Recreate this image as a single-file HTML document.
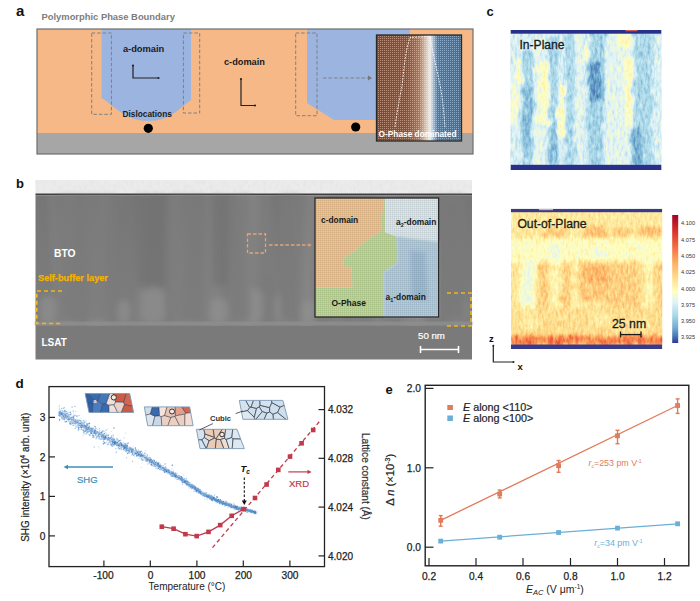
<!DOCTYPE html>
<html><head><meta charset="utf-8">
<style>
html,body{margin:0;padding:0;background:#fff;width:700px;height:601px;overflow:hidden}
svg{display:block;font-family:"Liberation Sans",sans-serif}
</style></head><body>
<svg width="700" height="601" viewBox="0 0 700 601">
<defs>
<pattern id="dotsW" width="2" height="2" patternUnits="userSpaceOnUse"><rect x="0" y="0" width="1" height="1" fill="#fff" opacity="0.38"/></pattern>
<linearGradient id="opg" x1="0" y1="0" x2="1" y2="0">
<stop offset="0" stop-color="#8a4524"/><stop offset="0.36" stop-color="#934d2a"/><stop offset="0.5" stop-color="#b2734f"/><stop offset="0.58" stop-color="#dcc0ad"/><stop offset="0.63" stop-color="#f0ece8"/><stop offset="0.67" stop-color="#9dbbd6"/><stop offset="0.72" stop-color="#4479ab"/><stop offset="1" stop-color="#3d6e9e"/>
</linearGradient>
<pattern id="dotsK" width="2.4" height="2.4" patternUnits="userSpaceOnUse"><rect x="0.4" y="0.4" width="1" height="1" fill="#333" opacity="0.35"/></pattern>
<linearGradient id="btoG" x1="0" y1="0" x2="0" y2="1"><stop offset="0" stop-color="#767676"/><stop offset="0.5" stop-color="#7a7a7a"/><stop offset="1" stop-color="#7d7d7d"/></linearGradient>
<filter id="streaks" x="0" y="0" width="1" height="1"><feTurbulence type="fractalNoise" baseFrequency="0.035 0.003" numOctaves="2" seed="3"/><feColorMatrix type="matrix" values="0 0 0 0 0.58  0 0 0 0 0.58  0 0 0 0 0.58  1.4 0 0 0 -0.62"/><feGaussianBlur stdDeviation="1.5 0"/></filter>
<filter id="noiseLight" x="0" y="0" width="1" height="1"><feTurbulence type="fractalNoise" baseFrequency="0.3 0.2" numOctaves="1" seed="5"/><feColorMatrix type="matrix" values="0 0 0 0 0.7  0 0 0 0 0.7  0 0 0 0 0.7  1.5 0 0 0 -0.6"/></filter>
<filter id="blur3"><feGaussianBlur stdDeviation="3"/></filter>
<filter id="blur1"><feGaussianBlur stdDeviation="0.8"/></filter>
<filter id="blur2"><feGaussianBlur stdDeviation="2"/></filter>
<linearGradient id="cbar" x1="0" y1="0" x2="0" y2="1">
<stop offset="0" stop-color="#a50026"/><stop offset="0.12" stop-color="#d73027"/><stop offset="0.25" stop-color="#f46d43"/><stop offset="0.37" stop-color="#fdae61"/><stop offset="0.5" stop-color="#fee090"/><stop offset="0.6" stop-color="#ffffbf"/><stop offset="0.68" stop-color="#e0f3f8"/><stop offset="0.78" stop-color="#abd9e9"/><stop offset="0.88" stop-color="#74add1"/><stop offset="0.95" stop-color="#4575b4"/><stop offset="1" stop-color="#313695"/>
</linearGradient>
<filter id="speck" x="0" y="0" width="1" height="1"><feTurbulence type="fractalNoise" baseFrequency="0.5" numOctaves="1" seed="7"/><feColorMatrix type="matrix" values="0 0 0 0 1  0 0 0 0 1  0 0 0 0 1  2 0 0 0 -1.1"/></filter>
<pattern id="gridK" width="2" height="2" patternUnits="userSpaceOnUse"><rect x="0" y="0" width="2" height="0.6" fill="#4a3a2a" opacity="0.14"/><rect x="0" y="0" width="0.6" height="2" fill="#4a3a2a" opacity="0.14"/></pattern>
<filter id="rough" x="-5%" y="-5%" width="110%" height="110%"><feTurbulence type="fractalNoise" baseFrequency="0.2 0.06" numOctaves="2" seed="9" result="n"/><feDisplacementMap in="SourceGraphic" in2="n" scale="9" xChannelSelector="R" yChannelSelector="G" result="d"/><feGaussianBlur in="d" stdDeviation="1.6"/></filter>
<filter id="rough2" x="-5%" y="-5%" width="110%" height="110%"><feTurbulence type="fractalNoise" baseFrequency="0.15 0.12" numOctaves="2" seed="4" result="n"/><feDisplacementMap in="SourceGraphic" in2="n" scale="8" xChannelSelector="R" yChannelSelector="G" result="d"/><feGaussianBlur in="d" stdDeviation="2"/></filter>
<filter id="cmapIP" x="0" y="0" width="1" height="1" color-interpolation-filters="sRGB">
<feTurbulence type="fractalNoise" baseFrequency="0.4 0.14" numOctaves="3" seed="12" result="nz"/>
<feColorMatrix in="nz" type="matrix" values="1 0 0 0 0  1 0 0 0 0  1 0 0 0 0  0 0 0 0 1" result="nzg"/>
<feComposite in="SourceGraphic" in2="nzg" operator="arithmetic" k1="0" k2="1" k3="0.22" k4="-0.11" result="sum"/>
<feComponentTransfer in="sum">
<feFuncR type="table" tableValues="0.192 0.271 0.455 0.671 0.878 1 0.996 0.992 0.957 0.843 0.647"/>
<feFuncG type="table" tableValues="0.212 0.459 0.678 0.851 0.953 1 0.878 0.682 0.427 0.188 0"/>
<feFuncB type="table" tableValues="0.584 0.706 0.820 0.914 0.973 0.749 0.565 0.380 0.263 0.153 0.149"/>
<feFuncA type="identity"/>
</feComponentTransfer>
</filter>
<filter id="cmapOP" x="0" y="0" width="1" height="1" color-interpolation-filters="sRGB">
<feTurbulence type="fractalNoise" baseFrequency="0.4 0.16" numOctaves="3" seed="31" result="nz"/>
<feColorMatrix in="nz" type="matrix" values="1 0 0 0 0  1 0 0 0 0  1 0 0 0 0  0 0 0 0 1" result="nzg"/>
<feComposite in="SourceGraphic" in2="nzg" operator="arithmetic" k1="0" k2="1" k3="0.2" k4="-0.1" result="sum"/>
<feComponentTransfer in="sum">
<feFuncR type="table" tableValues="0.192 0.271 0.455 0.671 0.878 1 0.996 0.992 0.957 0.843 0.647"/>
<feFuncG type="table" tableValues="0.212 0.459 0.678 0.851 0.953 1 0.878 0.682 0.427 0.188 0"/>
<feFuncB type="table" tableValues="0.584 0.706 0.820 0.914 0.973 0.749 0.565 0.380 0.263 0.153 0.149"/>
<feFuncA type="identity"/>
</feComponentTransfer>
</filter>
</defs>
<!-- ================= PANEL A ================= -->
<g id="pa">
<text x="16" y="16" font-size="15" font-weight="bold" fill="#111">a</text>
<text x="41.5" y="19.8" font-size="9.4" font-weight="bold" fill="#7d7d7d">Polymorphic Phase Boundary</text>
<rect x="37" y="29" width="436" height="125" fill="#f5b886"/>
<!-- blue domain 1 -->
<path d="M101.5,29 V98 C115,106 125,121 148,121 C171,121 180,107 191,100 V29 Z" fill="#9cb4e0"/>
<!-- blue domain 2 -->
<path d="M307,29 V103 L334,120 H410 V29 Z" fill="#9cb4e0"/>
<rect x="37" y="133" width="436" height="21" fill="#a6a6a6"/>
<rect x="37" y="29" width="436" height="125" fill="none" stroke="#6e6e6e" stroke-width="1.2"/>
<!-- dashed boxes -->
<g fill="none" stroke="#808080" stroke-width="1" stroke-dasharray="3.5 2">
<rect x="91.7" y="33" width="19.7" height="81.3"/>
<rect x="183.4" y="33" width="16.3" height="80"/>
<rect x="295.7" y="33" width="21.3" height="82.7"/>
<line x1="323" y1="78" x2="369" y2="78"/>
</g>
<path d="M368,75.5 L372,78 L368,80.5 Z" fill="#777"/>
<circle cx="148.3" cy="128.3" r="4.6" fill="#000"/>
<circle cx="355.7" cy="127" r="4.6" fill="#000"/>
<text x="122.9" y="52" font-size="9.3" font-weight="bold" fill="#1b1b1b">a-domain</text>
<text x="122.5" y="117.4" font-size="8.3" font-weight="bold" fill="#1b1b1b">Dislocations</text>
<text x="224" y="65" font-size="9.2" font-weight="bold" fill="#1b1b1b">c-domain</text>
<g stroke="#222" stroke-width="1.2" fill="none">
<polyline points="133,66 133,78 158,78"/>
<polyline points="241,79 241,105.5 254,105.5"/>
</g>
<g fill="#222"><circle cx="133" cy="65.5" r="1.1"/><circle cx="158.5" cy="78" r="1.1"/><circle cx="241" cy="79" r="1.1"/><circle cx="255" cy="105.5" r="1.1"/></g>
<!-- inset -->
<rect x="376.5" y="35" width="85" height="106" fill="url(#opg)"/>
<rect x="376.5" y="35" width="85" height="106" fill="url(#dotsW)"/>
<g fill="none" stroke="#fff" stroke-width="1" stroke-dasharray="1.8 1.2" opacity="0.85">
<path d="M395,127 C397,112 400,96 402,86 C404,70 405,52 410,37.5 L430,36.5 C433,55 437,70 440,85 C443,100 444,115 445,128"/>
</g>
<rect x="376.5" y="35" width="85" height="106" fill="none" stroke="#2a2a2a" stroke-width="1.3"/>
<text x="378.6" y="136.5" font-size="8.3" font-weight="bold" fill="#fff">O-Phase dominated</text>
</g>

<!-- ================= PANEL B ================= -->
<g id="pb">
<text x="16" y="187.5" font-size="13" font-weight="bold" fill="#111">b</text>
<rect x="35.5" y="180" width="436.5" height="14" fill="#ebebeb"/>
<rect x="35.5" y="180" width="436.5" height="14" fill="#fff" filter="url(#noiseLight)" opacity="0.5"/>
<rect x="35.5" y="193.5" width="436.5" height="2" fill="#404040"/>
<rect x="35.5" y="195.5" width="436.5" height="130.5" fill="url(#btoG)"/>
<rect x="35.5" y="195.5" width="436.5" height="130.5" filter="url(#streaks)" opacity="0.35"/>
<g filter="url(#blur3)" opacity="0.65"><rect x="40" y="296" width="16" height="28" rx="8.0" ry="8" fill="#929292"/><rect x="59" y="290" width="21" height="34" rx="10.5" ry="8" fill="#929292"/><rect x="88" y="292" width="20" height="32" rx="10.0" ry="8" fill="#929292"/><rect x="118" y="300" width="12" height="24" rx="6.0" ry="8" fill="#929292"/><rect x="141" y="288" width="24" height="36" rx="12.0" ry="8" fill="#929292"/><rect x="181" y="290" width="17" height="34" rx="8.5" ry="8" fill="#929292"/><rect x="210" y="298" width="18" height="26" rx="9.0" ry="8" fill="#929292"/><rect x="239" y="288" width="24" height="36" rx="12.0" ry="8" fill="#929292"/><rect x="275" y="292" width="21" height="32" rx="10.5" ry="8" fill="#929292"/><rect x="302" y="300" width="14" height="24" rx="7.0" ry="8" fill="#929292"/><rect x="445" y="296" width="23" height="28" rx="11.5" ry="8" fill="#929292"/><rect x="59" y="196" width="57" height="125" fill="#7c7c7c"/><rect x="169" y="196" width="37" height="125" fill="#7b7b7b"/><rect x="230" y="196" width="20" height="125" fill="#7a7a7a"/><rect x="280" y="196" width="20" height="125" fill="#7b7b7b"/><rect x="440" y="196" width="25" height="125" fill="#7a7a7a"/><rect x="137" y="196" width="28" height="90" fill="#717171"/><rect x="212" y="196" width="16" height="90" fill="#727272"/></g>
<rect x="35.5" y="321.5" width="436.5" height="4" fill="#8e8e8e" filter="url(#blur1)"/>
<rect x="35.5" y="326" width="436.5" height="33.5" fill="#7a7a7a"/>
<text x="54" y="257.2" font-size="10.3" font-weight="bold" fill="#fff">BTO</text>
<text x="38" y="280.8" font-size="9.2" font-weight="bold" fill="#f3b300" stroke="#f3b300" stroke-width="0.25">Self-buffer layer</text>
<text x="41.5" y="345.8" font-size="10" font-weight="bold" fill="#fff">LSAT</text>
<g fill="none" stroke="#f0b81a" stroke-width="1.6" stroke-dasharray="4 3">
<polyline points="62,291 36.8,291 36.8,323.5 62,323.5"/>
<polyline points="447,293 471,293 471,326 447,326"/>
</g>
<g fill="none" stroke="#e3a47a" stroke-width="1.3" stroke-dasharray="3.5 2">
<rect x="247.5" y="234" width="18" height="19"/>
<line x1="269" y1="245" x2="309" y2="245"/>
</g>
<path d="M308.5,243 L312,245 L308.5,247 Z" fill="#d99a6c"/>
<text x="418" y="338.5" font-size="9.7" fill="#fff" stroke="#fff" stroke-width="0.2">50 nm</text>
<g stroke="#fff" stroke-width="1.6"><line x1="420" y1="349.5" x2="459" y2="349.5"/><line x1="420.5" y1="346" x2="420.5" y2="353"/><line x1="458.5" y1="346" x2="458.5" y2="353"/></g>
<!-- inset -->
<g id="binset">
<rect x="315" y="198" width="123.6" height="119" fill="#dbebf1"/>
<path d="M315,198 L384.3,198 L382.8,211.6 L380.7,232.4 L372.4,236.6 L364.1,242.8 L354.7,251.2 L344.3,257.4 L343.3,265.7 L351.6,267.8 L352.6,287.6 L315,287.6 Z" fill="#f3c592"/>
<path d="M384.3,198 L384.9,198 L384.9,232.4 L396.3,236.6 L397.4,255.3 L396.3,263.6 L383.8,272 L383.8,317 L315,317 L315,287.6 L352.6,287.6 L351.6,267.8 L343.3,265.7 L344.3,257.4 L354.7,251.2 L364.1,242.8 L372.4,236.6 L380.7,232.4 L382.8,211.6 Z" fill="#bedb98"/>
<path d="M396.3,236.6 L438.6,242 L438.6,317 L383.8,317 L383.8,272 L396.3,263.6 L397.4,255.3 Z" fill="#b1cfe5" filter="url(#blur1)"/>
<path d="M410,250 L425,252 L428,300 L412,300 Z" fill="#8fb3d4" opacity="0.6" filter="url(#blur2)"/>
<rect x="315" y="198" width="123.6" height="119" fill="url(#gridK)"/>
<rect x="315" y="198" width="123.6" height="119" fill="none" stroke="#2a2a2a" stroke-width="1.3"/>
<text x="321" y="223" font-size="8.4" font-weight="bold" fill="#1a1a1a">c-domain</text>
<text x="396" y="225.4" font-size="8.4" font-weight="bold" fill="#1a1a1a">a<tspan font-size="5.5" dy="2">2</tspan><tspan dy="-2">-domain</tspan></text>
<text x="331.5" y="306.4" font-size="8.5" font-weight="bold" fill="#1a1a1a">O-Phase</text>
<text x="385.5" y="300.4" font-size="8.4" font-weight="bold" fill="#1a1a1a">a<tspan font-size="5.5" dy="2">1</tspan><tspan dy="-2">-domain</tspan></text>
</g>
</g>

<!-- ================= PANEL C ================= -->
<g id="pc">
<text x="486.5" y="16.3" font-size="13" font-weight="bold" fill="#111">c</text>
<!-- in-plane -->
<svg x="510.5" y="30" width="151" height="140" viewBox="0 0 151 140" overflow="hidden">
<g filter="url(#cmapIP)"><rect width="151" height="140" fill="#636363"/>
<g filter="url(#rough)"><path d="M-2.5,53.0 L6.5,53.0 L6.5,95.0 L-2.5,95.0 Z" fill="#787878"/><path d="M6.5,28.0 L12.5,28.0 L12.5,54.0 L6.5,54.0 Z" fill="#808080"/><path d="M11.5,20.0 L23.5,20.0 L22.5,138.0 L10.5,138.0 Z" fill="#4b4b4b"/><path d="M12.5,58.0 L22.5,58.0 L21.5,120.0 L11.5,120.0 Z" fill="#3c3c3c"/><path d="M23.5,10.0 L30.5,10.0 L30.5,138.0 L23.5,138.0 Z" fill="#6e6e6e"/><path d="M30.5,32.0 L38.5,32.0 L38.5,96.0 L30.5,96.0 Z" fill="#808080"/><path d="M38.5,5.0 L47.5,5.0 L47.5,138.0 L38.5,138.0 Z" fill="#4b4b4b"/><path d="M39.5,88.0 L47.5,88.0 L47.5,135.0 L39.5,135.0 Z" fill="#3c3c3c"/><path d="M47.5,56.0 L54.5,56.0 L54.5,108.0 L47.5,108.0 Z" fill="#808080"/><path d="M54.5,0.0 L64.5,0.0 L64.5,140.0 L54.5,140.0 Z" fill="#4e4e4e"/><path d="M64.5,0.0 L71.5,0.0 L71.5,140.0 L64.5,140.0 Z" fill="#6b6b6b"/><path d="M73.5,16.0 L78.5,16.0 L78.5,30.0 L73.5,30.0 Z" fill="#808080"/><path d="M79.5,0.0 L95.5,0.0 L92.5,140.0 L76.5,140.0 Z" fill="#494949"/><path d="M79.5,32.0 L91.5,32.0 L90.5,70.0 L78.5,70.0 Z" fill="#2a2a2a"/><path d="M94.5,0.0 L104.5,0.0 L104.5,140.0 L94.5,140.0 Z" fill="#6b6b6b"/><path d="M106.5,3.0 L122.5,3.0 L122.5,18.0 L106.5,18.0 Z" fill="#808080"/><path d="M104.5,18.0 L123.5,18.0 L123.5,140.0 L104.5,140.0 Z" fill="#696969"/><path d="M114.5,28.0 L121.5,28.0 L121.5,95.0 L114.5,95.0 Z" fill="#828282"/><path d="M123.5,0.0 L142.5,0.0 L141.5,140.0 L122.5,140.0 Z" fill="#4e4e4e"/><path d="M121.5,98.0 L131.5,98.0 L131.5,135.0 L121.5,135.0 Z" fill="#343434"/><path d="M142.5,0.0 L153.5,0.0 L153.5,140.0 L142.5,140.0 Z" fill="#636363"/></g></g>
<rect x="0" y="0" width="151" height="3.7" fill="#28308c"/>
<rect x="115" y="0" width="12" height="1.3" fill="#c85a5a"/>
<rect x="0" y="134.8" width="151" height="5.2" fill="#28308c"/>
</svg>
<text x="519.5" y="48.9" font-size="12.1" fill="#1a1a1a" stroke="#1a1a1a" stroke-width="0.3">In-Plane</text>
<!-- out-of-plane -->
<svg x="511" y="208.7" width="151.3" height="140.3" viewBox="0 0 151.3 140.3" overflow="hidden">
<g filter="url(#cmapOP)"><rect width="151.3" height="140.3" fill="#919191"/>
<g filter="url(#rough2)"><rect x="-6.0" y="1.3" width="165.0" height="28.0" fill="#919191"/><ellipse cx="43.0" cy="24.3" rx="11" ry="5" fill="#a6a6a6"/><ellipse cx="84.0" cy="23.3" rx="12" ry="6" fill="#ababab"/><ellipse cx="112.0" cy="23.3" rx="10" ry="5" fill="#a6a6a6"/><ellipse cx="139.0" cy="23.3" rx="13" ry="6" fill="#a8a8a8"/><ellipse cx="14.0" cy="25.3" rx="8" ry="4" fill="#999999"/><rect x="-6.0" y="29.3" width="165.0" height="24.0" fill="#808080"/><ellipse cx="44.0" cy="44.3" rx="4" ry="10" fill="#6e6e6e"/><ellipse cx="88.0" cy="44.3" rx="5" ry="4" fill="#6e6e6e"/><ellipse cx="19.0" cy="37.3" rx="6" ry="3" fill="#787878"/><ellipse cx="129.0" cy="38.3" rx="6" ry="3" fill="#787878"/><rect x="-6.0" y="53.3" width="165.0" height="76.0" fill="#949494"/><rect x="9.0" y="53.3" width="15.0" height="46.0" fill="#737373"/><rect x="28.0" y="53.3" width="10.0" height="73.0" fill="#a3a3a3"/><rect x="38.0" y="53.3" width="12.0" height="58.0" fill="#878787"/><rect x="50.0" y="53.3" width="10.0" height="73.0" fill="#a3a3a3"/><rect x="60.0" y="53.3" width="7.0" height="58.0" fill="#8a8a8a"/><rect x="67.0" y="53.3" width="30.0" height="38.0" fill="#a4a4a4"/><ellipse cx="85.0" cy="65.3" rx="12" ry="10" fill="#adadad"/><rect x="97.0" y="53.3" width="32.0" height="48.0" fill="#a1a1a1"/><rect x="134.0" y="53.3" width="9.0" height="58.0" fill="#858585"/><rect x="143.0" y="53.3" width="16.0" height="68.0" fill="#9e9e9e"/><rect x="-6.0" y="99.3" width="165.0" height="30.0" fill="#999999"/><ellipse cx="89.0" cy="109.3" rx="10" ry="8" fill="#8f8f8f"/><ellipse cx="19.0" cy="113.3" rx="8" ry="10" fill="#8c8c8c"/><ellipse cx="129.0" cy="116.3" rx="8" ry="6" fill="#8c8c8c"/><rect x="-6.0" y="127.3" width="165.0" height="9.0" fill="#c2c2c2"/></g><g filter="url(#blur1)"><rect x="120.9" y="130.7" width="2.0" height="5.3" fill="#d1d1d1"/><rect x="17.4" y="129.7" width="2.6" height="6.3" fill="#cacaca"/><rect x="22.0" y="128.6" width="2.5" height="7.4" fill="#d2d2d2"/><rect x="4.3" y="126.3" width="1.8" height="9.7" fill="#d0d0d0"/><rect x="76.8" y="127.2" width="1.9" height="8.8" fill="#c1c1c1"/><rect x="13.2" y="127.5" width="2.6" height="8.5" fill="#bebebe"/><rect x="29.0" y="132.4" width="1.9" height="3.6" fill="#c9c9c9"/><rect x="66.2" y="128.1" width="1.7" height="7.9" fill="#d1d1d1"/><rect x="148.6" y="127.8" width="3.0" height="8.2" fill="#d2d2d2"/><rect x="14.4" y="129.8" width="1.7" height="6.2" fill="#d0d0d0"/><rect x="81.4" y="132.3" width="2.4" height="3.7" fill="#cfcfcf"/><rect x="83.5" y="132.1" width="3.4" height="3.9" fill="#b9b9b9"/><rect x="127.6" y="126.2" width="3.0" height="9.8" fill="#d5d5d5"/><rect x="80.3" y="131.5" width="2.4" height="4.5" fill="#cecece"/><rect x="116.3" y="130.3" width="3.4" height="5.7" fill="#b9b9b9"/><rect x="75.0" y="132.7" width="2.2" height="3.3" fill="#d6d6d6"/><rect x="17.8" y="126.1" width="3.3" height="9.9" fill="#cdcdcd"/><rect x="8.5" y="129.7" width="2.9" height="6.3" fill="#bbbbbb"/><rect x="45.1" y="132.4" width="3.2" height="3.6" fill="#d4d4d4"/><rect x="139.8" y="127.7" width="2.7" height="8.3" fill="#bababa"/><rect x="72.8" y="127.7" width="3.0" height="8.3" fill="#b8b8b8"/><rect x="1.2" y="132.4" width="3.3" height="3.6" fill="#bbbbbb"/><rect x="59.0" y="129.7" width="3.3" height="6.3" fill="#bcbcbc"/><rect x="39.6" y="127.6" width="1.7" height="8.4" fill="#bdbdbd"/><rect x="3.8" y="126.3" width="2.0" height="9.7" fill="#c7c7c7"/><rect x="57.4" y="126.1" width="2.9" height="9.9" fill="#cacaca"/><rect x="74.1" y="131.1" width="3.2" height="4.9" fill="#bbbbbb"/><rect x="94.1" y="130.9" width="2.1" height="5.1" fill="#c5c5c5"/><rect x="28.6" y="128.9" width="1.6" height="7.1" fill="#b8b8b8"/><rect x="21.4" y="132.4" width="3.3" height="3.6" fill="#c7c7c7"/><rect x="102.7" y="127.5" width="1.8" height="8.5" fill="#d5d5d5"/><rect x="58.1" y="129.8" width="2.5" height="6.2" fill="#cdcdcd"/><rect x="116.3" y="131.6" width="3.2" height="4.4" fill="#c5c5c5"/><rect x="38.0" y="126.9" width="3.2" height="9.1" fill="#d2d2d2"/><rect x="48.9" y="126.6" width="3.1" height="9.4" fill="#d5d5d5"/><rect x="114.2" y="126.0" width="2.5" height="10.0" fill="#cfcfcf"/><rect x="118.2" y="129.3" width="2.5" height="6.7" fill="#c4c4c4"/><rect x="131.4" y="130.4" width="3.0" height="5.6" fill="#c9c9c9"/><rect x="107.0" y="130.8" width="1.7" height="5.2" fill="#cccccc"/><rect x="21.9" y="130.5" width="3.1" height="5.5" fill="#b9b9b9"/><rect x="137.8" y="128.9" width="2.6" height="7.1" fill="#cccccc"/><rect x="8.6" y="132.8" width="2.9" height="3.2" fill="#cacaca"/><rect x="96.8" y="127.2" width="2.0" height="8.8" fill="#bdbdbd"/><rect x="146.6" y="132.6" width="2.5" height="3.4" fill="#cbcbcb"/><rect x="144.5" y="132.4" width="2.9" height="3.6" fill="#bababa"/></g></g>
<rect x="0" y="0" width="151.3" height="3.5" fill="#3a3a8c"/>
<rect x="28" y="0" width="14" height="1.5" fill="#d8b0a0"/>
<rect x="0" y="135.8" width="151.3" height="4.5" fill="#3a3a8c"/>
</svg>
<text x="517.4" y="227.6" font-size="12.2" fill="#1a1a1a" stroke="#1a1a1a" stroke-width="0.3">Out-of-Plane</text>
<text x="612" y="328" font-size="12.3" fill="#1a1a1a" stroke="#1a1a1a" stroke-width="0.3">25 nm</text>
<g stroke="#1a1a1a" stroke-width="1.3"><line x1="620.5" y1="334.6" x2="641" y2="334.6"/><line x1="620.5" y1="331.5" x2="620.5" y2="337.5"/><line x1="641" y1="331.5" x2="641" y2="337.5"/></g>
<!-- colorbar -->
<rect x="672.2" y="215" width="6" height="128" fill="url(#cbar)"/>
<g font-size="5.6" fill="#333">
<text x="681" y="225.3">4.100</text><text x="681" y="241.8">4.075</text><text x="681" y="258">4.050</text><text x="681" y="274">4.025</text><text x="681" y="290.6">4.000</text><text x="681" y="306.7">3.975</text><text x="681" y="323.2">3.950</text><text x="681" y="339.3">3.925</text>
</g>
<text x="489" y="341.5" font-size="9.5" font-weight="bold" fill="#111">z</text>
<g stroke="#222" stroke-width="1.2" fill="none"><polyline points="493.3,346 493.3,362 513.5,362"/></g>
<g fill="#222"><circle cx="493.3" cy="345.8" r="1"/><circle cx="513.5" cy="362" r="1"/></g>
<text x="517.5" y="370" font-size="9.5" font-weight="bold" fill="#111">x</text>
</g>

<!-- ================= PANEL D ================= -->
<g id="pd">
<text x="15.5" y="388.3" font-size="13.5" font-weight="bold" fill="#111">d</text>
<g><circle cx="241.2" cy="509.4" r="0.60" fill="#7aaade" opacity="0.68"/><circle cx="129.5" cy="447.2" r="0.67" fill="#4a86c6" opacity="0.36"/><circle cx="79.9" cy="422.1" r="0.46" fill="#9cc2e6" opacity="0.62"/><circle cx="203.6" cy="495.4" r="0.68" fill="#7aaade" opacity="0.67"/><circle cx="101.6" cy="436.5" r="0.79" fill="#8cb8e2" opacity="0.82"/><circle cx="189.1" cy="484.9" r="0.62" fill="#9cc2e6" opacity="0.40"/><circle cx="154.2" cy="464.8" r="0.73" fill="#7aaade" opacity="0.44"/><circle cx="122.7" cy="443.0" r="0.48" fill="#4a86c6" opacity="0.41"/><circle cx="170.9" cy="471.9" r="0.77" fill="#7aaade" opacity="0.41"/><circle cx="119.0" cy="445.1" r="0.49" fill="#4a86c6" opacity="0.49"/><circle cx="198.3" cy="489.3" r="0.77" fill="#7aaade" opacity="0.65"/><circle cx="78.8" cy="426.9" r="0.46" fill="#9cc2e6" opacity="0.60"/><circle cx="141.0" cy="455.9" r="0.73" fill="#4a86c6" opacity="0.89"/><circle cx="165.1" cy="463.9" r="0.57" fill="#3574bb" opacity="0.76"/><circle cx="155.6" cy="464.1" r="0.61" fill="#8cb8e2" opacity="0.77"/><circle cx="101.5" cy="438.5" r="0.51" fill="#7aaade" opacity="0.64"/><circle cx="168.9" cy="472.3" r="0.72" fill="#9cc2e6" opacity="0.36"/><circle cx="234.8" cy="508.5" r="0.59" fill="#9cc2e6" opacity="0.73"/><circle cx="248.2" cy="511.3" r="0.60" fill="#8cb8e2" opacity="0.65"/><circle cx="211.0" cy="497.9" r="0.49" fill="#9cc2e6" opacity="0.80"/><circle cx="86.4" cy="430.4" r="0.60" fill="#6aa0d6" opacity="0.75"/><circle cx="246.4" cy="509.5" r="0.65" fill="#3574bb" opacity="0.48"/><circle cx="216.5" cy="499.2" r="0.57" fill="#4a86c6" opacity="0.50"/><circle cx="213.8" cy="499.4" r="0.51" fill="#3574bb" opacity="0.72"/><circle cx="205.9" cy="493.8" r="0.55" fill="#7aaade" opacity="0.58"/><circle cx="194.7" cy="487.1" r="0.76" fill="#4a86c6" opacity="0.51"/><circle cx="103.6" cy="435.8" r="0.58" fill="#4a86c6" opacity="0.84"/><circle cx="191.7" cy="484.9" r="0.57" fill="#8cb8e2" opacity="0.53"/><circle cx="112.9" cy="442.6" r="0.68" fill="#7aaade" opacity="0.84"/><circle cx="233.0" cy="506.6" r="0.58" fill="#8cb8e2" opacity="0.73"/><circle cx="253.6" cy="511.4" r="0.55" fill="#3574bb" opacity="0.89"/><circle cx="60.5" cy="416.0" r="0.49" fill="#7aaade" opacity="0.78"/><circle cx="183.9" cy="481.0" r="0.50" fill="#4a86c6" opacity="0.55"/><circle cx="94.5" cy="430.2" r="0.58" fill="#4a86c6" opacity="0.69"/><circle cx="182.1" cy="480.2" r="0.49" fill="#9cc2e6" opacity="0.37"/><circle cx="95.0" cy="431.2" r="0.61" fill="#9cc2e6" opacity="0.75"/><circle cx="117.1" cy="438.5" r="0.72" fill="#4a86c6" opacity="0.37"/><circle cx="123.4" cy="446.0" r="0.75" fill="#6aa0d6" opacity="0.40"/><circle cx="249.5" cy="510.9" r="0.78" fill="#9cc2e6" opacity="0.67"/><circle cx="130.3" cy="452.4" r="0.56" fill="#9cc2e6" opacity="0.86"/><circle cx="252.3" cy="510.5" r="0.58" fill="#8cb8e2" opacity="0.42"/><circle cx="222.7" cy="501.9" r="0.64" fill="#6aa0d6" opacity="0.77"/><circle cx="121.2" cy="447.4" r="0.71" fill="#3574bb" opacity="0.37"/><circle cx="221.1" cy="501.9" r="0.56" fill="#9cc2e6" opacity="0.49"/><circle cx="117.4" cy="442.6" r="0.62" fill="#4a86c6" opacity="0.55"/><circle cx="164.7" cy="468.7" r="0.77" fill="#6aa0d6" opacity="0.68"/><circle cx="189.2" cy="486.1" r="0.58" fill="#4a86c6" opacity="0.57"/><circle cx="204.2" cy="494.9" r="0.78" fill="#9cc2e6" opacity="0.54"/><circle cx="198.6" cy="489.8" r="0.66" fill="#4a86c6" opacity="0.44"/><circle cx="207.0" cy="495.5" r="0.77" fill="#3574bb" opacity="0.76"/><circle cx="152.2" cy="461.6" r="0.71" fill="#7aaade" opacity="0.69"/><circle cx="100.1" cy="439.5" r="0.56" fill="#9cc2e6" opacity="0.78"/><circle cx="115.0" cy="441.3" r="0.73" fill="#8cb8e2" opacity="0.65"/><circle cx="125.6" cy="444.8" r="0.73" fill="#7aaade" opacity="0.72"/><circle cx="89.2" cy="435.3" r="0.49" fill="#8cb8e2" opacity="0.72"/><circle cx="250.0" cy="511.1" r="0.73" fill="#9cc2e6" opacity="0.39"/><circle cx="152.9" cy="461.2" r="0.54" fill="#7aaade" opacity="0.37"/><circle cx="171.9" cy="468.8" r="0.71" fill="#9cc2e6" opacity="0.46"/><circle cx="192.4" cy="484.5" r="0.62" fill="#9cc2e6" opacity="0.81"/><circle cx="189.5" cy="482.9" r="0.45" fill="#3574bb" opacity="0.89"/><circle cx="208.6" cy="496.8" r="0.67" fill="#6aa0d6" opacity="0.79"/><circle cx="87.7" cy="424.9" r="0.79" fill="#4a86c6" opacity="0.66"/><circle cx="227.1" cy="503.1" r="0.68" fill="#7aaade" opacity="0.53"/><circle cx="65.8" cy="414.3" r="0.51" fill="#7aaade" opacity="0.41"/><circle cx="190.8" cy="487.3" r="0.71" fill="#6aa0d6" opacity="0.81"/><circle cx="218.5" cy="500.3" r="0.73" fill="#4a86c6" opacity="0.86"/><circle cx="111.4" cy="444.7" r="0.78" fill="#6aa0d6" opacity="0.74"/><circle cx="81.7" cy="424.5" r="0.69" fill="#3574bb" opacity="0.39"/><circle cx="252.8" cy="510.5" r="0.58" fill="#3574bb" opacity="0.49"/><circle cx="149.5" cy="459.7" r="0.66" fill="#4a86c6" opacity="0.37"/><circle cx="211.9" cy="496.4" r="0.67" fill="#4a86c6" opacity="0.66"/><circle cx="147.0" cy="458.4" r="0.54" fill="#9cc2e6" opacity="0.86"/><circle cx="99.6" cy="436.9" r="0.73" fill="#3574bb" opacity="0.52"/><circle cx="214.6" cy="498.6" r="0.46" fill="#7aaade" opacity="0.70"/><circle cx="232.4" cy="505.8" r="0.75" fill="#8cb8e2" opacity="0.36"/><circle cx="195.5" cy="488.6" r="0.79" fill="#3574bb" opacity="0.69"/><circle cx="183.8" cy="474.9" r="0.55" fill="#7aaade" opacity="0.43"/><circle cx="113.1" cy="438.6" r="0.67" fill="#7aaade" opacity="0.66"/><circle cx="137.9" cy="454.5" r="0.57" fill="#6aa0d6" opacity="0.57"/><circle cx="219.8" cy="503.1" r="0.76" fill="#3574bb" opacity="0.65"/><circle cx="128.1" cy="443.0" r="0.68" fill="#4a86c6" opacity="0.78"/><circle cx="113.1" cy="440.6" r="0.60" fill="#6aa0d6" opacity="0.89"/><circle cx="177.7" cy="477.1" r="0.78" fill="#6aa0d6" opacity="0.49"/><circle cx="250.7" cy="512.5" r="0.50" fill="#9cc2e6" opacity="0.89"/><circle cx="122.3" cy="445.1" r="0.53" fill="#3574bb" opacity="0.55"/><circle cx="226.4" cy="503.8" r="0.56" fill="#9cc2e6" opacity="0.56"/><circle cx="82.0" cy="426.3" r="0.75" fill="#8cb8e2" opacity="0.59"/><circle cx="92.3" cy="429.0" r="0.75" fill="#3574bb" opacity="0.51"/><circle cx="239.7" cy="509.0" r="0.65" fill="#3574bb" opacity="0.46"/><circle cx="236.5" cy="506.8" r="0.72" fill="#6aa0d6" opacity="0.63"/><circle cx="202.9" cy="495.3" r="0.67" fill="#4a86c6" opacity="0.65"/><circle cx="83.9" cy="423.6" r="0.72" fill="#7aaade" opacity="0.70"/><circle cx="233.5" cy="505.5" r="0.76" fill="#7aaade" opacity="0.37"/><circle cx="97.2" cy="436.5" r="0.76" fill="#4a86c6" opacity="0.62"/><circle cx="217.9" cy="500.6" r="0.60" fill="#6aa0d6" opacity="0.69"/><circle cx="81.8" cy="425.1" r="0.45" fill="#3574bb" opacity="0.56"/><circle cx="82.8" cy="422.6" r="0.74" fill="#6aa0d6" opacity="0.50"/><circle cx="106.2" cy="435.5" r="0.48" fill="#6aa0d6" opacity="0.46"/><circle cx="140.1" cy="457.4" r="0.47" fill="#4a86c6" opacity="0.84"/><circle cx="59.6" cy="411.8" r="0.46" fill="#3574bb" opacity="0.76"/><circle cx="196.8" cy="491.7" r="0.76" fill="#6aa0d6" opacity="0.77"/><circle cx="112.2" cy="436.9" r="0.52" fill="#4a86c6" opacity="0.40"/><circle cx="255.8" cy="513.7" r="0.54" fill="#3574bb" opacity="0.59"/><circle cx="159.1" cy="462.8" r="0.68" fill="#4a86c6" opacity="0.37"/><circle cx="122.2" cy="445.8" r="0.65" fill="#6aa0d6" opacity="0.80"/><circle cx="120.7" cy="440.2" r="0.78" fill="#7aaade" opacity="0.76"/><circle cx="225.9" cy="501.2" r="0.78" fill="#6aa0d6" opacity="0.63"/><circle cx="155.0" cy="464.6" r="0.56" fill="#9cc2e6" opacity="0.74"/><circle cx="181.7" cy="477.3" r="0.53" fill="#6aa0d6" opacity="0.78"/><circle cx="187.4" cy="483.9" r="0.58" fill="#3574bb" opacity="0.70"/><circle cx="236.8" cy="507.9" r="0.63" fill="#6aa0d6" opacity="0.40"/><circle cx="98.8" cy="434.7" r="0.68" fill="#3574bb" opacity="0.60"/><circle cx="111.5" cy="444.0" r="0.46" fill="#6aa0d6" opacity="0.85"/><circle cx="164.1" cy="470.2" r="0.79" fill="#7aaade" opacity="0.74"/><circle cx="110.0" cy="437.9" r="0.50" fill="#8cb8e2" opacity="0.78"/><circle cx="204.6" cy="499.1" r="0.51" fill="#9cc2e6" opacity="0.88"/><circle cx="136.0" cy="454.0" r="0.77" fill="#6aa0d6" opacity="0.66"/><circle cx="149.5" cy="461.4" r="0.70" fill="#6aa0d6" opacity="0.66"/><circle cx="103.6" cy="437.3" r="0.72" fill="#3574bb" opacity="0.86"/><circle cx="73.7" cy="419.0" r="0.78" fill="#3574bb" opacity="0.70"/><circle cx="125.8" cy="451.5" r="0.69" fill="#8cb8e2" opacity="0.88"/><circle cx="231.3" cy="505.2" r="0.75" fill="#6aa0d6" opacity="0.51"/><circle cx="98.5" cy="436.8" r="0.71" fill="#8cb8e2" opacity="0.37"/><circle cx="74.5" cy="423.3" r="0.53" fill="#7aaade" opacity="0.41"/><circle cx="195.2" cy="489.0" r="0.65" fill="#3574bb" opacity="0.53"/><circle cx="88.6" cy="428.6" r="0.74" fill="#6aa0d6" opacity="0.62"/><circle cx="175.6" cy="475.9" r="0.52" fill="#6aa0d6" opacity="0.50"/><circle cx="192.1" cy="487.0" r="0.71" fill="#8cb8e2" opacity="0.57"/><circle cx="253.5" cy="512.2" r="0.49" fill="#9cc2e6" opacity="0.36"/><circle cx="217.2" cy="502.1" r="0.75" fill="#6aa0d6" opacity="0.35"/><circle cx="63.1" cy="419.0" r="0.77" fill="#7aaade" opacity="0.56"/><circle cx="207.1" cy="497.0" r="0.57" fill="#6aa0d6" opacity="0.49"/><circle cx="195.4" cy="488.7" r="0.56" fill="#6aa0d6" opacity="0.58"/><circle cx="85.1" cy="425.7" r="0.77" fill="#3574bb" opacity="0.73"/><circle cx="197.8" cy="488.2" r="0.80" fill="#6aa0d6" opacity="0.87"/><circle cx="197.6" cy="490.1" r="0.67" fill="#7aaade" opacity="0.36"/><circle cx="118.6" cy="445.8" r="0.62" fill="#4a86c6" opacity="0.66"/><circle cx="156.8" cy="464.2" r="0.45" fill="#6aa0d6" opacity="0.61"/><circle cx="190.3" cy="485.5" r="0.76" fill="#9cc2e6" opacity="0.58"/><circle cx="73.5" cy="413.8" r="0.49" fill="#9cc2e6" opacity="0.74"/><circle cx="198.4" cy="490.7" r="0.49" fill="#7aaade" opacity="0.78"/><circle cx="200.9" cy="492.0" r="0.56" fill="#8cb8e2" opacity="0.69"/><circle cx="83.7" cy="425.5" r="0.74" fill="#4a86c6" opacity="0.73"/><circle cx="104.9" cy="434.2" r="0.51" fill="#9cc2e6" opacity="0.63"/><circle cx="82.7" cy="430.0" r="0.64" fill="#9cc2e6" opacity="0.72"/><circle cx="84.6" cy="431.4" r="0.69" fill="#4a86c6" opacity="0.51"/><circle cx="125.9" cy="449.4" r="0.49" fill="#7aaade" opacity="0.65"/><circle cx="148.9" cy="461.1" r="0.61" fill="#8cb8e2" opacity="0.48"/><circle cx="158.2" cy="468.0" r="0.74" fill="#8cb8e2" opacity="0.41"/><circle cx="235.2" cy="506.7" r="0.69" fill="#8cb8e2" opacity="0.89"/><circle cx="224.9" cy="503.5" r="0.73" fill="#3574bb" opacity="0.46"/><circle cx="147.4" cy="455.0" r="0.60" fill="#4a86c6" opacity="0.90"/><circle cx="222.4" cy="502.3" r="0.50" fill="#8cb8e2" opacity="0.78"/><circle cx="151.5" cy="462.1" r="0.75" fill="#3574bb" opacity="0.52"/><circle cx="151.4" cy="463.4" r="0.53" fill="#7aaade" opacity="0.51"/><circle cx="213.1" cy="498.8" r="0.47" fill="#6aa0d6" opacity="0.75"/><circle cx="105.7" cy="438.9" r="0.64" fill="#8cb8e2" opacity="0.49"/><circle cx="137.9" cy="453.2" r="0.78" fill="#4a86c6" opacity="0.38"/><circle cx="210.7" cy="498.2" r="0.56" fill="#3574bb" opacity="0.82"/><circle cx="65.0" cy="421.7" r="0.70" fill="#7aaade" opacity="0.68"/><circle cx="229.5" cy="505.2" r="0.51" fill="#4a86c6" opacity="0.58"/><circle cx="213.9" cy="499.5" r="0.55" fill="#7aaade" opacity="0.63"/><circle cx="208.9" cy="496.1" r="0.59" fill="#6aa0d6" opacity="0.53"/><circle cx="115.0" cy="444.2" r="0.75" fill="#3574bb" opacity="0.84"/><circle cx="209.2" cy="495.4" r="0.70" fill="#3574bb" opacity="0.63"/><circle cx="82.2" cy="420.7" r="0.55" fill="#9cc2e6" opacity="0.45"/><circle cx="233.1" cy="506.0" r="0.61" fill="#7aaade" opacity="0.69"/><circle cx="208.6" cy="496.1" r="0.79" fill="#8cb8e2" opacity="0.57"/><circle cx="233.4" cy="507.1" r="0.79" fill="#9cc2e6" opacity="0.56"/><circle cx="121.2" cy="448.3" r="0.71" fill="#8cb8e2" opacity="0.60"/><circle cx="113.3" cy="435.1" r="0.71" fill="#6aa0d6" opacity="0.73"/><circle cx="92.3" cy="429.1" r="0.51" fill="#7aaade" opacity="0.83"/><circle cx="254.2" cy="513.1" r="0.67" fill="#3574bb" opacity="0.63"/><circle cx="201.5" cy="493.7" r="0.51" fill="#6aa0d6" opacity="0.65"/><circle cx="219.4" cy="500.3" r="0.61" fill="#6aa0d6" opacity="0.50"/><circle cx="90.5" cy="432.3" r="0.64" fill="#6aa0d6" opacity="0.45"/><circle cx="105.7" cy="437.9" r="0.61" fill="#9cc2e6" opacity="0.53"/><circle cx="61.8" cy="408.4" r="0.75" fill="#7aaade" opacity="0.76"/><circle cx="111.5" cy="431.6" r="0.70" fill="#7aaade" opacity="0.40"/><circle cx="71.4" cy="419.6" r="0.52" fill="#7aaade" opacity="0.71"/><circle cx="91.2" cy="433.1" r="0.48" fill="#4a86c6" opacity="0.72"/><circle cx="90.9" cy="428.7" r="0.67" fill="#4a86c6" opacity="0.42"/><circle cx="153.3" cy="462.6" r="0.77" fill="#3574bb" opacity="0.61"/><circle cx="187.1" cy="484.4" r="0.57" fill="#8cb8e2" opacity="0.53"/><circle cx="200.0" cy="492.3" r="0.72" fill="#8cb8e2" opacity="0.47"/><circle cx="75.8" cy="422.2" r="0.73" fill="#7aaade" opacity="0.69"/><circle cx="228.5" cy="504.3" r="0.71" fill="#9cc2e6" opacity="0.41"/><circle cx="88.1" cy="430.0" r="0.70" fill="#6aa0d6" opacity="0.73"/><circle cx="59.2" cy="412.3" r="0.67" fill="#4a86c6" opacity="0.74"/><circle cx="240.8" cy="508.6" r="0.73" fill="#7aaade" opacity="0.45"/><circle cx="92.6" cy="431.0" r="0.51" fill="#9cc2e6" opacity="0.59"/><circle cx="242.0" cy="508.7" r="0.57" fill="#8cb8e2" opacity="0.57"/><circle cx="76.2" cy="426.7" r="0.70" fill="#6aa0d6" opacity="0.41"/><circle cx="174.5" cy="476.4" r="0.69" fill="#8cb8e2" opacity="0.68"/><circle cx="232.0" cy="506.5" r="0.46" fill="#9cc2e6" opacity="0.53"/><circle cx="199.1" cy="492.9" r="0.55" fill="#7aaade" opacity="0.42"/><circle cx="176.9" cy="479.5" r="0.72" fill="#6aa0d6" opacity="0.43"/><circle cx="81.9" cy="429.3" r="0.46" fill="#6aa0d6" opacity="0.41"/><circle cx="192.3" cy="487.4" r="0.50" fill="#8cb8e2" opacity="0.37"/><circle cx="205.2" cy="494.2" r="0.51" fill="#7aaade" opacity="0.80"/><circle cx="186.2" cy="483.6" r="0.56" fill="#6aa0d6" opacity="0.79"/><circle cx="65.2" cy="415.7" r="0.62" fill="#4a86c6" opacity="0.62"/><circle cx="126.4" cy="445.9" r="0.71" fill="#3574bb" opacity="0.82"/><circle cx="160.3" cy="466.5" r="0.68" fill="#7aaade" opacity="0.56"/><circle cx="88.3" cy="431.4" r="0.45" fill="#9cc2e6" opacity="0.51"/><circle cx="206.3" cy="496.6" r="0.77" fill="#6aa0d6" opacity="0.57"/><circle cx="245.8" cy="510.9" r="0.69" fill="#4a86c6" opacity="0.82"/><circle cx="61.7" cy="413.3" r="0.75" fill="#3574bb" opacity="0.88"/><circle cx="127.2" cy="448.5" r="0.62" fill="#4a86c6" opacity="0.89"/><circle cx="254.2" cy="512.2" r="0.49" fill="#6aa0d6" opacity="0.39"/><circle cx="73.4" cy="417.4" r="0.79" fill="#4a86c6" opacity="0.72"/><circle cx="249.7" cy="510.6" r="0.65" fill="#4a86c6" opacity="0.44"/><circle cx="169.1" cy="473.2" r="0.49" fill="#7aaade" opacity="0.78"/><circle cx="158.5" cy="463.6" r="0.55" fill="#3574bb" opacity="0.55"/><circle cx="172.4" cy="473.3" r="0.73" fill="#4a86c6" opacity="0.80"/><circle cx="112.7" cy="444.0" r="0.73" fill="#7aaade" opacity="0.62"/><circle cx="189.1" cy="485.0" r="0.52" fill="#6aa0d6" opacity="0.42"/><circle cx="193.5" cy="485.3" r="0.62" fill="#8cb8e2" opacity="0.53"/><circle cx="150.5" cy="460.4" r="0.70" fill="#3574bb" opacity="0.89"/><circle cx="195.3" cy="487.0" r="0.79" fill="#9cc2e6" opacity="0.56"/><circle cx="108.0" cy="439.4" r="0.61" fill="#3574bb" opacity="0.60"/><circle cx="196.7" cy="489.5" r="0.63" fill="#4a86c6" opacity="0.85"/><circle cx="173.9" cy="476.4" r="0.61" fill="#7aaade" opacity="0.56"/><circle cx="228.1" cy="503.8" r="0.61" fill="#3574bb" opacity="0.60"/><circle cx="122.3" cy="446.9" r="0.50" fill="#4a86c6" opacity="0.39"/><circle cx="88.2" cy="423.8" r="0.48" fill="#3574bb" opacity="0.84"/><circle cx="187.4" cy="483.5" r="0.79" fill="#8cb8e2" opacity="0.35"/><circle cx="108.3" cy="438.4" r="0.50" fill="#7aaade" opacity="0.42"/><circle cx="123.7" cy="448.9" r="0.73" fill="#4a86c6" opacity="0.40"/><circle cx="62.8" cy="413.4" r="0.54" fill="#4a86c6" opacity="0.73"/><circle cx="142.7" cy="457.6" r="0.53" fill="#8cb8e2" opacity="0.63"/><circle cx="135.4" cy="449.1" r="0.47" fill="#8cb8e2" opacity="0.41"/><circle cx="70.7" cy="414.6" r="0.72" fill="#4a86c6" opacity="0.89"/><circle cx="144.8" cy="457.6" r="0.79" fill="#4a86c6" opacity="0.65"/><circle cx="212.5" cy="499.3" r="0.75" fill="#6aa0d6" opacity="0.82"/><circle cx="69.7" cy="423.2" r="0.71" fill="#4a86c6" opacity="0.53"/><circle cx="209.4" cy="495.1" r="0.56" fill="#8cb8e2" opacity="0.62"/><circle cx="247.4" cy="510.9" r="0.64" fill="#4a86c6" opacity="0.45"/><circle cx="236.2" cy="507.8" r="0.54" fill="#7aaade" opacity="0.70"/><circle cx="192.7" cy="488.2" r="0.65" fill="#8cb8e2" opacity="0.86"/><circle cx="103.6" cy="434.3" r="0.57" fill="#9cc2e6" opacity="0.74"/><circle cx="249.7" cy="510.5" r="0.59" fill="#8cb8e2" opacity="0.62"/><circle cx="236.6" cy="509.0" r="0.67" fill="#6aa0d6" opacity="0.43"/><circle cx="129.8" cy="448.6" r="0.51" fill="#9cc2e6" opacity="0.61"/><circle cx="101.8" cy="436.9" r="0.55" fill="#4a86c6" opacity="0.78"/><circle cx="190.9" cy="486.1" r="0.76" fill="#3574bb" opacity="0.63"/><circle cx="137.8" cy="455.0" r="0.76" fill="#8cb8e2" opacity="0.48"/><circle cx="116.2" cy="452.2" r="0.60" fill="#4a86c6" opacity="0.74"/><circle cx="70.1" cy="423.8" r="0.48" fill="#4a86c6" opacity="0.84"/><circle cx="179.6" cy="477.8" r="0.49" fill="#8cb8e2" opacity="0.82"/><circle cx="235.1" cy="506.2" r="0.77" fill="#4a86c6" opacity="0.73"/><circle cx="150.1" cy="457.4" r="0.74" fill="#7aaade" opacity="0.44"/><circle cx="216.6" cy="500.5" r="0.67" fill="#6aa0d6" opacity="0.39"/><circle cx="93.9" cy="433.5" r="0.72" fill="#8cb8e2" opacity="0.77"/><circle cx="173.4" cy="473.4" r="0.72" fill="#4a86c6" opacity="0.62"/><circle cx="151.8" cy="462.5" r="0.54" fill="#3574bb" opacity="0.82"/><circle cx="91.1" cy="433.2" r="0.68" fill="#4a86c6" opacity="0.71"/><circle cx="70.0" cy="418.5" r="0.79" fill="#9cc2e6" opacity="0.56"/><circle cx="192.5" cy="484.9" r="0.61" fill="#9cc2e6" opacity="0.63"/><circle cx="200.7" cy="492.4" r="0.69" fill="#4a86c6" opacity="0.40"/><circle cx="112.3" cy="438.5" r="0.63" fill="#4a86c6" opacity="0.49"/><circle cx="86.2" cy="430.0" r="0.47" fill="#9cc2e6" opacity="0.39"/><circle cx="219.2" cy="500.7" r="0.46" fill="#6aa0d6" opacity="0.60"/><circle cx="89.5" cy="429.5" r="0.65" fill="#8cb8e2" opacity="0.38"/><circle cx="81.4" cy="425.2" r="0.51" fill="#7aaade" opacity="0.60"/><circle cx="86.9" cy="425.2" r="0.62" fill="#8cb8e2" opacity="0.48"/><circle cx="119.1" cy="446.2" r="0.56" fill="#6aa0d6" opacity="0.53"/><circle cx="118.8" cy="443.5" r="0.68" fill="#7aaade" opacity="0.50"/><circle cx="86.1" cy="420.7" r="0.75" fill="#9cc2e6" opacity="0.59"/><circle cx="61.0" cy="410.5" r="0.58" fill="#8cb8e2" opacity="0.77"/><circle cx="234.1" cy="506.9" r="0.60" fill="#9cc2e6" opacity="0.71"/><circle cx="150.1" cy="457.6" r="0.58" fill="#8cb8e2" opacity="0.84"/><circle cx="142.5" cy="452.8" r="0.51" fill="#6aa0d6" opacity="0.68"/><circle cx="137.8" cy="456.1" r="0.74" fill="#8cb8e2" opacity="0.72"/><circle cx="70.2" cy="412.6" r="0.76" fill="#3574bb" opacity="0.67"/><circle cx="140.3" cy="451.9" r="0.58" fill="#6aa0d6" opacity="0.41"/><circle cx="142.5" cy="459.8" r="0.51" fill="#6aa0d6" opacity="0.70"/><circle cx="214.8" cy="500.1" r="0.53" fill="#8cb8e2" opacity="0.35"/><circle cx="234.1" cy="506.1" r="0.61" fill="#3574bb" opacity="0.39"/><circle cx="106.6" cy="437.4" r="0.55" fill="#9cc2e6" opacity="0.48"/><circle cx="149.0" cy="460.2" r="0.67" fill="#4a86c6" opacity="0.56"/><circle cx="222.8" cy="501.4" r="0.45" fill="#4a86c6" opacity="0.36"/><circle cx="157.6" cy="463.5" r="0.57" fill="#3574bb" opacity="0.59"/><circle cx="94.2" cy="429.4" r="0.50" fill="#6aa0d6" opacity="0.61"/><circle cx="212.9" cy="500.2" r="0.46" fill="#9cc2e6" opacity="0.60"/><circle cx="201.4" cy="491.4" r="0.69" fill="#7aaade" opacity="0.60"/><circle cx="103.9" cy="434.7" r="0.55" fill="#9cc2e6" opacity="0.54"/><circle cx="185.3" cy="483.0" r="0.45" fill="#3574bb" opacity="0.86"/><circle cx="124.5" cy="448.3" r="0.71" fill="#6aa0d6" opacity="0.89"/><circle cx="81.5" cy="422.0" r="0.70" fill="#7aaade" opacity="0.66"/><circle cx="127.1" cy="447.6" r="0.60" fill="#9cc2e6" opacity="0.66"/><circle cx="208.9" cy="494.5" r="0.71" fill="#8cb8e2" opacity="0.59"/><circle cx="173.3" cy="471.4" r="0.79" fill="#6aa0d6" opacity="0.42"/><circle cx="191.0" cy="484.3" r="0.56" fill="#3574bb" opacity="0.78"/><circle cx="59.6" cy="405.8" r="0.54" fill="#4a86c6" opacity="0.58"/><circle cx="155.7" cy="463.0" r="0.47" fill="#8cb8e2" opacity="0.59"/><circle cx="167.1" cy="473.7" r="0.54" fill="#6aa0d6" opacity="0.49"/><circle cx="127.8" cy="453.5" r="0.66" fill="#7aaade" opacity="0.64"/><circle cx="132.6" cy="461.4" r="0.58" fill="#3574bb" opacity="0.51"/><circle cx="93.4" cy="437.1" r="0.68" fill="#3574bb" opacity="0.66"/><circle cx="109.5" cy="438.8" r="0.59" fill="#9cc2e6" opacity="0.79"/><circle cx="145.8" cy="460.9" r="0.68" fill="#7aaade" opacity="0.88"/><circle cx="85.2" cy="431.1" r="0.65" fill="#7aaade" opacity="0.76"/><circle cx="172.6" cy="475.2" r="0.54" fill="#8cb8e2" opacity="0.73"/><circle cx="120.9" cy="443.4" r="0.56" fill="#7aaade" opacity="0.76"/><circle cx="180.6" cy="478.3" r="0.48" fill="#8cb8e2" opacity="0.81"/><circle cx="92.8" cy="437.1" r="0.67" fill="#6aa0d6" opacity="0.82"/><circle cx="183.8" cy="480.1" r="0.72" fill="#8cb8e2" opacity="0.73"/><circle cx="126.5" cy="448.2" r="0.70" fill="#6aa0d6" opacity="0.48"/><circle cx="87.4" cy="428.1" r="0.75" fill="#7aaade" opacity="0.58"/><circle cx="148.1" cy="457.7" r="0.51" fill="#8cb8e2" opacity="0.36"/><circle cx="63.8" cy="415.6" r="0.55" fill="#6aa0d6" opacity="0.41"/><circle cx="62.5" cy="410.9" r="0.70" fill="#7aaade" opacity="0.66"/><circle cx="184.4" cy="480.3" r="0.47" fill="#4a86c6" opacity="0.51"/><circle cx="248.5" cy="510.5" r="0.73" fill="#9cc2e6" opacity="0.63"/><circle cx="228.5" cy="504.1" r="0.71" fill="#7aaade" opacity="0.74"/><circle cx="146.1" cy="457.8" r="0.68" fill="#9cc2e6" opacity="0.81"/><circle cx="75.7" cy="411.5" r="0.72" fill="#9cc2e6" opacity="0.55"/><circle cx="249.4" cy="511.2" r="0.60" fill="#7aaade" opacity="0.68"/><circle cx="149.2" cy="457.8" r="0.77" fill="#8cb8e2" opacity="0.53"/><circle cx="244.6" cy="510.0" r="0.62" fill="#4a86c6" opacity="0.53"/><circle cx="153.3" cy="463.0" r="0.64" fill="#8cb8e2" opacity="0.90"/><circle cx="201.3" cy="493.0" r="0.74" fill="#8cb8e2" opacity="0.44"/><circle cx="198.6" cy="491.0" r="0.77" fill="#8cb8e2" opacity="0.76"/><circle cx="187.0" cy="484.7" r="0.60" fill="#9cc2e6" opacity="0.72"/><circle cx="241.4" cy="509.6" r="0.46" fill="#4a86c6" opacity="0.58"/><circle cx="184.9" cy="481.6" r="0.61" fill="#4a86c6" opacity="0.63"/><circle cx="73.2" cy="410.9" r="0.73" fill="#8cb8e2" opacity="0.89"/><circle cx="171.9" cy="471.9" r="0.59" fill="#3574bb" opacity="0.79"/><circle cx="237.5" cy="508.0" r="0.50" fill="#7aaade" opacity="0.61"/><circle cx="123.1" cy="446.7" r="0.49" fill="#8cb8e2" opacity="0.89"/><circle cx="82.0" cy="425.7" r="0.64" fill="#3574bb" opacity="0.84"/><circle cx="162.5" cy="470.6" r="0.48" fill="#8cb8e2" opacity="0.53"/><circle cx="234.5" cy="509.7" r="0.52" fill="#6aa0d6" opacity="0.61"/><circle cx="138.6" cy="455.3" r="0.47" fill="#3574bb" opacity="0.83"/><circle cx="229.1" cy="504.9" r="0.78" fill="#6aa0d6" opacity="0.45"/><circle cx="110.5" cy="442.6" r="0.49" fill="#8cb8e2" opacity="0.36"/><circle cx="59.9" cy="411.0" r="0.51" fill="#6aa0d6" opacity="0.41"/><circle cx="82.8" cy="423.8" r="0.52" fill="#3574bb" opacity="0.87"/><circle cx="200.7" cy="493.3" r="0.80" fill="#6aa0d6" opacity="0.85"/><circle cx="91.7" cy="431.1" r="0.60" fill="#7aaade" opacity="0.57"/><circle cx="121.9" cy="446.0" r="0.70" fill="#8cb8e2" opacity="0.44"/><circle cx="85.5" cy="421.9" r="0.68" fill="#6aa0d6" opacity="0.39"/><circle cx="213.9" cy="497.5" r="0.78" fill="#6aa0d6" opacity="0.82"/><circle cx="78.0" cy="427.4" r="0.68" fill="#4a86c6" opacity="0.55"/><circle cx="249.3" cy="510.5" r="0.79" fill="#4a86c6" opacity="0.72"/><circle cx="193.9" cy="485.4" r="0.71" fill="#4a86c6" opacity="0.59"/><circle cx="69.1" cy="415.4" r="0.46" fill="#6aa0d6" opacity="0.68"/><circle cx="216.1" cy="501.7" r="0.62" fill="#6aa0d6" opacity="0.77"/><circle cx="249.1" cy="511.0" r="0.50" fill="#7aaade" opacity="0.76"/><circle cx="95.7" cy="433.5" r="0.56" fill="#7aaade" opacity="0.44"/><circle cx="140.8" cy="452.5" r="0.48" fill="#9cc2e6" opacity="0.89"/><circle cx="140.8" cy="455.7" r="0.50" fill="#7aaade" opacity="0.42"/><circle cx="140.9" cy="455.9" r="0.73" fill="#3574bb" opacity="0.81"/><circle cx="207.8" cy="495.9" r="0.62" fill="#9cc2e6" opacity="0.65"/><circle cx="170.3" cy="473.7" r="0.68" fill="#8cb8e2" opacity="0.77"/><circle cx="126.0" cy="445.1" r="0.79" fill="#4a86c6" opacity="0.38"/><circle cx="146.9" cy="459.4" r="0.76" fill="#4a86c6" opacity="0.66"/><circle cx="108.4" cy="444.2" r="0.73" fill="#6aa0d6" opacity="0.72"/><circle cx="213.7" cy="497.6" r="0.67" fill="#4a86c6" opacity="0.83"/><circle cx="215.5" cy="499.8" r="0.60" fill="#4a86c6" opacity="0.74"/><circle cx="70.5" cy="418.6" r="0.54" fill="#9cc2e6" opacity="0.75"/><circle cx="137.1" cy="452.4" r="0.50" fill="#3574bb" opacity="0.39"/><circle cx="219.7" cy="501.9" r="0.77" fill="#8cb8e2" opacity="0.70"/><circle cx="223.1" cy="501.6" r="0.51" fill="#4a86c6" opacity="0.55"/><circle cx="175.1" cy="476.6" r="0.79" fill="#4a86c6" opacity="0.90"/><circle cx="237.9" cy="507.9" r="0.72" fill="#4a86c6" opacity="0.71"/><circle cx="72.9" cy="417.6" r="0.68" fill="#6aa0d6" opacity="0.40"/><circle cx="178.7" cy="478.4" r="0.48" fill="#9cc2e6" opacity="0.54"/><circle cx="136.1" cy="453.3" r="0.56" fill="#7aaade" opacity="0.38"/><circle cx="204.9" cy="493.0" r="0.71" fill="#4a86c6" opacity="0.58"/><circle cx="112.3" cy="441.2" r="0.79" fill="#4a86c6" opacity="0.86"/><circle cx="157.5" cy="469.0" r="0.46" fill="#6aa0d6" opacity="0.72"/><circle cx="144.9" cy="453.8" r="0.48" fill="#9cc2e6" opacity="0.82"/><circle cx="103.2" cy="437.7" r="0.53" fill="#3574bb" opacity="0.35"/><circle cx="83.8" cy="426.5" r="0.74" fill="#9cc2e6" opacity="0.76"/><circle cx="99.0" cy="434.6" r="0.53" fill="#7aaade" opacity="0.38"/><circle cx="131.5" cy="450.0" r="0.49" fill="#3574bb" opacity="0.74"/><circle cx="113.3" cy="440.5" r="0.53" fill="#7aaade" opacity="0.71"/><circle cx="191.2" cy="488.6" r="0.60" fill="#9cc2e6" opacity="0.61"/><circle cx="241.1" cy="509.0" r="0.74" fill="#4a86c6" opacity="0.61"/><circle cx="117.1" cy="440.0" r="0.73" fill="#4a86c6" opacity="0.71"/><circle cx="201.1" cy="492.9" r="0.57" fill="#8cb8e2" opacity="0.74"/><circle cx="134.4" cy="456.0" r="0.61" fill="#8cb8e2" opacity="0.48"/><circle cx="166.6" cy="470.2" r="0.48" fill="#6aa0d6" opacity="0.79"/><circle cx="254.7" cy="512.7" r="0.80" fill="#6aa0d6" opacity="0.47"/><circle cx="212.5" cy="500.7" r="0.57" fill="#3574bb" opacity="0.77"/><circle cx="249.5" cy="510.4" r="0.56" fill="#4a86c6" opacity="0.69"/><circle cx="165.5" cy="469.6" r="0.57" fill="#4a86c6" opacity="0.79"/><circle cx="241.6" cy="508.7" r="0.73" fill="#9cc2e6" opacity="0.62"/><circle cx="152.3" cy="461.0" r="0.55" fill="#6aa0d6" opacity="0.82"/><circle cx="87.8" cy="432.2" r="0.65" fill="#4a86c6" opacity="0.81"/><circle cx="224.6" cy="503.7" r="0.77" fill="#7aaade" opacity="0.64"/><circle cx="224.6" cy="502.5" r="0.55" fill="#8cb8e2" opacity="0.75"/><circle cx="181.1" cy="479.5" r="0.76" fill="#7aaade" opacity="0.87"/><circle cx="98.6" cy="446.8" r="0.52" fill="#9cc2e6" opacity="0.61"/><circle cx="178.0" cy="479.4" r="0.71" fill="#8cb8e2" opacity="0.80"/><circle cx="150.9" cy="458.8" r="0.79" fill="#6aa0d6" opacity="0.44"/><circle cx="212.3" cy="497.9" r="0.56" fill="#8cb8e2" opacity="0.55"/><circle cx="117.2" cy="445.4" r="0.61" fill="#4a86c6" opacity="0.85"/><circle cx="212.3" cy="498.2" r="0.77" fill="#7aaade" opacity="0.79"/><circle cx="155.9" cy="462.1" r="0.71" fill="#4a86c6" opacity="0.58"/><circle cx="222.8" cy="502.9" r="0.77" fill="#7aaade" opacity="0.62"/><circle cx="177.6" cy="479.1" r="0.65" fill="#8cb8e2" opacity="0.43"/><circle cx="161.8" cy="468.8" r="0.58" fill="#9cc2e6" opacity="0.88"/><circle cx="82.8" cy="427.1" r="0.55" fill="#6aa0d6" opacity="0.68"/><circle cx="140.6" cy="451.5" r="0.68" fill="#6aa0d6" opacity="0.85"/><circle cx="111.4" cy="436.7" r="0.45" fill="#3574bb" opacity="0.83"/><circle cx="211.1" cy="497.3" r="0.49" fill="#3574bb" opacity="0.74"/><circle cx="153.5" cy="462.8" r="0.68" fill="#7aaade" opacity="0.83"/><circle cx="180.4" cy="476.8" r="0.78" fill="#7aaade" opacity="0.52"/><circle cx="105.6" cy="437.1" r="0.51" fill="#3574bb" opacity="0.67"/><circle cx="117.5" cy="443.8" r="0.54" fill="#7aaade" opacity="0.55"/><circle cx="138.8" cy="452.2" r="0.49" fill="#8cb8e2" opacity="0.46"/><circle cx="86.1" cy="428.7" r="0.73" fill="#6aa0d6" opacity="0.38"/><circle cx="200.6" cy="489.8" r="0.52" fill="#6aa0d6" opacity="0.69"/><circle cx="115.2" cy="441.8" r="0.68" fill="#7aaade" opacity="0.70"/><circle cx="84.2" cy="422.0" r="0.61" fill="#4a86c6" opacity="0.39"/><circle cx="152.5" cy="465.2" r="0.70" fill="#9cc2e6" opacity="0.87"/><circle cx="81.3" cy="429.1" r="0.79" fill="#4a86c6" opacity="0.46"/><circle cx="250.6" cy="511.4" r="0.60" fill="#7aaade" opacity="0.76"/><circle cx="214.1" cy="498.9" r="0.48" fill="#7aaade" opacity="0.46"/><circle cx="183.4" cy="482.6" r="0.76" fill="#7aaade" opacity="0.43"/><circle cx="216.7" cy="496.9" r="0.78" fill="#3574bb" opacity="0.62"/><circle cx="172.6" cy="472.8" r="0.76" fill="#8cb8e2" opacity="0.88"/><circle cx="60.6" cy="414.4" r="0.53" fill="#8cb8e2" opacity="0.88"/><circle cx="185.8" cy="481.2" r="0.67" fill="#4a86c6" opacity="0.52"/><circle cx="112.7" cy="441.9" r="0.71" fill="#4a86c6" opacity="0.69"/><circle cx="251.3" cy="509.8" r="0.61" fill="#9cc2e6" opacity="0.42"/><circle cx="216.4" cy="499.3" r="0.69" fill="#4a86c6" opacity="0.70"/><circle cx="141.1" cy="453.7" r="0.76" fill="#3574bb" opacity="0.61"/><circle cx="159.3" cy="469.2" r="0.52" fill="#8cb8e2" opacity="0.63"/><circle cx="158.6" cy="468.6" r="0.48" fill="#8cb8e2" opacity="0.59"/><circle cx="99.2" cy="431.8" r="0.55" fill="#8cb8e2" opacity="0.35"/><circle cx="232.5" cy="506.8" r="0.78" fill="#6aa0d6" opacity="0.61"/><circle cx="76.8" cy="423.5" r="0.50" fill="#7aaade" opacity="0.67"/><circle cx="214.2" cy="500.5" r="0.55" fill="#4a86c6" opacity="0.67"/><circle cx="251.8" cy="511.6" r="0.73" fill="#4a86c6" opacity="0.72"/><circle cx="125.8" cy="447.7" r="0.55" fill="#4a86c6" opacity="0.51"/><circle cx="101.8" cy="432.2" r="0.77" fill="#7aaade" opacity="0.39"/><circle cx="163.8" cy="469.2" r="0.61" fill="#8cb8e2" opacity="0.71"/><circle cx="187.7" cy="481.4" r="0.77" fill="#8cb8e2" opacity="0.59"/><circle cx="90.1" cy="430.9" r="0.66" fill="#4a86c6" opacity="0.78"/><circle cx="252.7" cy="511.3" r="0.67" fill="#4a86c6" opacity="0.69"/><circle cx="242.2" cy="509.0" r="0.50" fill="#9cc2e6" opacity="0.41"/><circle cx="59.9" cy="411.9" r="0.65" fill="#7aaade" opacity="0.64"/><circle cx="75.4" cy="421.4" r="0.62" fill="#6aa0d6" opacity="0.55"/><circle cx="92.5" cy="435.2" r="0.62" fill="#3574bb" opacity="0.38"/><circle cx="125.4" cy="447.4" r="0.76" fill="#3574bb" opacity="0.89"/><circle cx="75.2" cy="428.4" r="0.75" fill="#9cc2e6" opacity="0.90"/><circle cx="126.5" cy="449.3" r="0.54" fill="#4a86c6" opacity="0.85"/><circle cx="61.7" cy="412.8" r="0.61" fill="#8cb8e2" opacity="0.42"/><circle cx="198.5" cy="491.1" r="0.53" fill="#7aaade" opacity="0.64"/><circle cx="139.0" cy="458.2" r="0.47" fill="#8cb8e2" opacity="0.81"/><circle cx="124.9" cy="447.0" r="0.59" fill="#4a86c6" opacity="0.73"/><circle cx="59.1" cy="411.9" r="0.47" fill="#8cb8e2" opacity="0.78"/><circle cx="228.8" cy="505.6" r="0.79" fill="#6aa0d6" opacity="0.38"/><circle cx="81.6" cy="422.7" r="0.63" fill="#4a86c6" opacity="0.35"/><circle cx="199.4" cy="492.1" r="0.80" fill="#7aaade" opacity="0.48"/><circle cx="225.2" cy="505.1" r="0.71" fill="#9cc2e6" opacity="0.36"/><circle cx="199.9" cy="492.1" r="0.75" fill="#6aa0d6" opacity="0.79"/><circle cx="208.3" cy="495.6" r="0.67" fill="#4a86c6" opacity="0.65"/><circle cx="86.8" cy="427.0" r="0.73" fill="#3574bb" opacity="0.55"/><circle cx="79.0" cy="415.5" r="0.67" fill="#3574bb" opacity="0.38"/><circle cx="154.3" cy="461.7" r="0.79" fill="#4a86c6" opacity="0.53"/><circle cx="80.0" cy="425.6" r="0.75" fill="#4a86c6" opacity="0.72"/><circle cx="152.4" cy="462.8" r="0.48" fill="#9cc2e6" opacity="0.53"/><circle cx="242.3" cy="510.0" r="0.80" fill="#9cc2e6" opacity="0.64"/><circle cx="250.5" cy="510.4" r="0.51" fill="#8cb8e2" opacity="0.36"/><circle cx="86.3" cy="426.1" r="0.77" fill="#6aa0d6" opacity="0.56"/><circle cx="142.8" cy="459.2" r="0.46" fill="#9cc2e6" opacity="0.78"/><circle cx="129.6" cy="449.5" r="0.47" fill="#7aaade" opacity="0.82"/><circle cx="87.4" cy="431.2" r="0.59" fill="#3574bb" opacity="0.40"/><circle cx="63.1" cy="411.0" r="0.48" fill="#3574bb" opacity="0.73"/><circle cx="119.6" cy="445.9" r="0.77" fill="#7aaade" opacity="0.70"/><circle cx="67.8" cy="417.0" r="0.46" fill="#4a86c6" opacity="0.69"/><circle cx="159.2" cy="466.4" r="0.57" fill="#6aa0d6" opacity="0.41"/><circle cx="120.2" cy="442.5" r="0.78" fill="#9cc2e6" opacity="0.69"/><circle cx="82.0" cy="427.4" r="0.47" fill="#6aa0d6" opacity="0.56"/><circle cx="227.5" cy="504.8" r="0.68" fill="#4a86c6" opacity="0.41"/><circle cx="168.5" cy="470.2" r="0.74" fill="#9cc2e6" opacity="0.82"/><circle cx="130.2" cy="447.3" r="0.63" fill="#6aa0d6" opacity="0.64"/><circle cx="255.1" cy="511.6" r="0.61" fill="#6aa0d6" opacity="0.52"/><circle cx="207.4" cy="496.2" r="0.80" fill="#9cc2e6" opacity="0.46"/><circle cx="95.8" cy="435.0" r="0.53" fill="#8cb8e2" opacity="0.77"/><circle cx="110.6" cy="441.2" r="0.51" fill="#6aa0d6" opacity="0.63"/><circle cx="176.1" cy="475.5" r="0.69" fill="#6aa0d6" opacity="0.75"/><circle cx="123.2" cy="444.3" r="0.52" fill="#9cc2e6" opacity="0.63"/><circle cx="88.3" cy="431.7" r="0.51" fill="#7aaade" opacity="0.88"/><circle cx="221.9" cy="503.3" r="0.75" fill="#4a86c6" opacity="0.79"/><circle cx="132.4" cy="454.6" r="0.51" fill="#6aa0d6" opacity="0.67"/><circle cx="132.9" cy="449.8" r="0.70" fill="#3574bb" opacity="0.81"/><circle cx="208.2" cy="496.1" r="0.52" fill="#7aaade" opacity="0.82"/><circle cx="254.5" cy="512.4" r="0.79" fill="#8cb8e2" opacity="0.48"/><circle cx="110.2" cy="444.9" r="0.54" fill="#8cb8e2" opacity="0.69"/><circle cx="77.7" cy="425.6" r="0.64" fill="#8cb8e2" opacity="0.45"/><circle cx="66.3" cy="418.8" r="0.60" fill="#9cc2e6" opacity="0.87"/><circle cx="181.1" cy="477.2" r="0.71" fill="#4a86c6" opacity="0.49"/><circle cx="148.0" cy="457.0" r="0.56" fill="#4a86c6" opacity="0.43"/><circle cx="118.5" cy="439.5" r="0.46" fill="#4a86c6" opacity="0.42"/><circle cx="175.6" cy="476.7" r="0.65" fill="#6aa0d6" opacity="0.77"/><circle cx="240.8" cy="509.2" r="0.58" fill="#8cb8e2" opacity="0.85"/><circle cx="114.1" cy="442.7" r="0.73" fill="#8cb8e2" opacity="0.63"/><circle cx="190.9" cy="485.4" r="0.47" fill="#8cb8e2" opacity="0.78"/><circle cx="188.4" cy="486.1" r="0.51" fill="#9cc2e6" opacity="0.45"/><circle cx="107.7" cy="435.3" r="0.53" fill="#3574bb" opacity="0.64"/><circle cx="95.3" cy="427.1" r="0.73" fill="#8cb8e2" opacity="0.51"/><circle cx="243.6" cy="508.7" r="0.76" fill="#7aaade" opacity="0.37"/><circle cx="78.2" cy="425.9" r="0.73" fill="#8cb8e2" opacity="0.50"/><circle cx="199.5" cy="491.1" r="0.74" fill="#7aaade" opacity="0.76"/><circle cx="130.5" cy="449.0" r="0.72" fill="#6aa0d6" opacity="0.56"/><circle cx="254.6" cy="511.4" r="0.71" fill="#3574bb" opacity="0.79"/><circle cx="67.8" cy="413.3" r="0.51" fill="#4a86c6" opacity="0.55"/><circle cx="186.9" cy="483.7" r="0.53" fill="#4a86c6" opacity="0.38"/><circle cx="72.1" cy="422.1" r="0.72" fill="#8cb8e2" opacity="0.40"/><circle cx="68.3" cy="420.7" r="0.77" fill="#9cc2e6" opacity="0.88"/><circle cx="76.9" cy="416.6" r="0.72" fill="#7aaade" opacity="0.63"/><circle cx="248.7" cy="510.7" r="0.64" fill="#4a86c6" opacity="0.47"/><circle cx="136.5" cy="451.8" r="0.47" fill="#3574bb" opacity="0.58"/><circle cx="246.2" cy="509.9" r="0.72" fill="#8cb8e2" opacity="0.74"/><circle cx="200.5" cy="491.1" r="0.51" fill="#3574bb" opacity="0.90"/><circle cx="208.0" cy="496.6" r="0.76" fill="#9cc2e6" opacity="0.64"/><circle cx="228.3" cy="505.2" r="0.72" fill="#3574bb" opacity="0.55"/><circle cx="60.7" cy="413.9" r="0.62" fill="#8cb8e2" opacity="0.59"/><circle cx="204.2" cy="494.0" r="0.49" fill="#7aaade" opacity="0.74"/><circle cx="151.2" cy="461.8" r="0.51" fill="#4a86c6" opacity="0.87"/><circle cx="125.6" cy="449.4" r="0.51" fill="#9cc2e6" opacity="0.62"/><circle cx="208.0" cy="496.9" r="0.69" fill="#4a86c6" opacity="0.74"/><circle cx="136.0" cy="453.2" r="0.51" fill="#3574bb" opacity="0.90"/><circle cx="105.6" cy="437.3" r="0.55" fill="#7aaade" opacity="0.36"/><circle cx="65.9" cy="411.1" r="0.70" fill="#3574bb" opacity="0.45"/><circle cx="212.8" cy="498.2" r="0.52" fill="#9cc2e6" opacity="0.37"/><circle cx="104.4" cy="438.4" r="0.54" fill="#3574bb" opacity="0.54"/><circle cx="121.5" cy="449.1" r="0.75" fill="#9cc2e6" opacity="0.38"/><circle cx="198.2" cy="489.8" r="0.64" fill="#3574bb" opacity="0.56"/><circle cx="107.9" cy="440.0" r="0.66" fill="#4a86c6" opacity="0.40"/><circle cx="229.1" cy="505.4" r="0.54" fill="#4a86c6" opacity="0.58"/><circle cx="182.5" cy="477.8" r="0.61" fill="#4a86c6" opacity="0.70"/><circle cx="190.8" cy="484.7" r="0.74" fill="#8cb8e2" opacity="0.76"/><circle cx="186.9" cy="481.7" r="0.60" fill="#4a86c6" opacity="0.54"/><circle cx="90.7" cy="428.3" r="0.75" fill="#8cb8e2" opacity="0.70"/><circle cx="174.4" cy="475.5" r="0.50" fill="#4a86c6" opacity="0.36"/><circle cx="135.8" cy="453.4" r="0.78" fill="#3574bb" opacity="0.52"/><circle cx="79.1" cy="420.3" r="0.76" fill="#3574bb" opacity="0.58"/><circle cx="66.1" cy="411.8" r="0.57" fill="#4a86c6" opacity="0.72"/><circle cx="77.5" cy="422.7" r="0.47" fill="#4a86c6" opacity="0.85"/><circle cx="243.2" cy="507.7" r="0.74" fill="#7aaade" opacity="0.69"/><circle cx="81.5" cy="427.5" r="0.63" fill="#8cb8e2" opacity="0.74"/><circle cx="194.2" cy="488.8" r="0.67" fill="#7aaade" opacity="0.84"/><circle cx="128.8" cy="452.5" r="0.45" fill="#4a86c6" opacity="0.89"/><circle cx="172.4" cy="473.2" r="0.61" fill="#9cc2e6" opacity="0.63"/><circle cx="62.0" cy="414.4" r="0.71" fill="#9cc2e6" opacity="0.88"/><circle cx="170.1" cy="474.4" r="0.57" fill="#8cb8e2" opacity="0.66"/><circle cx="205.6" cy="494.1" r="0.67" fill="#9cc2e6" opacity="0.80"/><circle cx="243.4" cy="510.7" r="0.60" fill="#6aa0d6" opacity="0.84"/><circle cx="75.7" cy="415.6" r="0.77" fill="#9cc2e6" opacity="0.55"/><circle cx="202.9" cy="493.6" r="0.58" fill="#9cc2e6" opacity="0.67"/><circle cx="199.6" cy="491.6" r="0.61" fill="#3574bb" opacity="0.65"/><circle cx="125.5" cy="443.7" r="0.45" fill="#3574bb" opacity="0.83"/><circle cx="240.5" cy="509.5" r="0.48" fill="#4a86c6" opacity="0.80"/><circle cx="227.0" cy="503.8" r="0.48" fill="#4a86c6" opacity="0.39"/><circle cx="129.3" cy="451.9" r="0.62" fill="#3574bb" opacity="0.83"/><circle cx="91.7" cy="430.6" r="0.68" fill="#9cc2e6" opacity="0.87"/><circle cx="175.3" cy="475.2" r="0.74" fill="#4a86c6" opacity="0.57"/><circle cx="63.6" cy="419.3" r="0.52" fill="#9cc2e6" opacity="0.69"/><circle cx="100.0" cy="434.6" r="0.67" fill="#8cb8e2" opacity="0.68"/><circle cx="183.1" cy="479.3" r="0.58" fill="#7aaade" opacity="0.72"/><circle cx="241.8" cy="510.1" r="0.76" fill="#9cc2e6" opacity="0.64"/><circle cx="175.9" cy="473.0" r="0.73" fill="#9cc2e6" opacity="0.82"/><circle cx="215.6" cy="498.7" r="0.67" fill="#9cc2e6" opacity="0.84"/><circle cx="231.1" cy="505.4" r="0.54" fill="#6aa0d6" opacity="0.64"/><circle cx="84.1" cy="427.8" r="0.67" fill="#3574bb" opacity="0.77"/><circle cx="245.5" cy="510.1" r="0.55" fill="#9cc2e6" opacity="0.71"/><circle cx="182.5" cy="481.9" r="0.62" fill="#6aa0d6" opacity="0.63"/><circle cx="201.8" cy="495.0" r="0.56" fill="#6aa0d6" opacity="0.39"/><circle cx="246.5" cy="509.6" r="0.66" fill="#3574bb" opacity="0.87"/><circle cx="242.8" cy="509.8" r="0.79" fill="#7aaade" opacity="0.84"/><circle cx="78.7" cy="428.2" r="0.65" fill="#3574bb" opacity="0.87"/><circle cx="233.7" cy="503.2" r="0.60" fill="#6aa0d6" opacity="0.46"/><circle cx="92.2" cy="428.1" r="0.73" fill="#8cb8e2" opacity="0.67"/><circle cx="78.7" cy="423.3" r="0.47" fill="#4a86c6" opacity="0.64"/><circle cx="137.2" cy="452.1" r="0.72" fill="#4a86c6" opacity="0.67"/><circle cx="166.6" cy="471.9" r="0.72" fill="#9cc2e6" opacity="0.60"/><circle cx="127.0" cy="447.0" r="0.51" fill="#9cc2e6" opacity="0.77"/><circle cx="182.2" cy="481.3" r="0.61" fill="#3574bb" opacity="0.85"/><circle cx="188.1" cy="484.2" r="0.57" fill="#9cc2e6" opacity="0.83"/><circle cx="145.4" cy="457.3" r="0.49" fill="#7aaade" opacity="0.59"/><circle cx="148.2" cy="459.2" r="0.67" fill="#6aa0d6" opacity="0.57"/><circle cx="136.5" cy="455.4" r="0.64" fill="#8cb8e2" opacity="0.67"/><circle cx="164.5" cy="472.0" r="0.73" fill="#3574bb" opacity="0.88"/><circle cx="80.9" cy="418.2" r="0.47" fill="#7aaade" opacity="0.61"/><circle cx="189.9" cy="485.8" r="0.53" fill="#4a86c6" opacity="0.69"/><circle cx="236.3" cy="508.1" r="0.55" fill="#8cb8e2" opacity="0.80"/><circle cx="231.8" cy="506.7" r="0.70" fill="#7aaade" opacity="0.37"/><circle cx="207.7" cy="496.6" r="0.75" fill="#7aaade" opacity="0.59"/><circle cx="208.8" cy="497.7" r="0.48" fill="#3574bb" opacity="0.75"/><circle cx="251.0" cy="511.5" r="0.69" fill="#4a86c6" opacity="0.58"/><circle cx="70.4" cy="414.7" r="0.63" fill="#7aaade" opacity="0.50"/><circle cx="167.4" cy="470.0" r="0.61" fill="#4a86c6" opacity="0.57"/><circle cx="213.7" cy="497.7" r="0.63" fill="#3574bb" opacity="0.41"/><circle cx="189.4" cy="486.4" r="0.60" fill="#6aa0d6" opacity="0.43"/><circle cx="140.6" cy="454.0" r="0.71" fill="#8cb8e2" opacity="0.84"/><circle cx="166.6" cy="471.2" r="0.77" fill="#7aaade" opacity="0.78"/><circle cx="139.0" cy="454.0" r="0.79" fill="#7aaade" opacity="0.50"/><circle cx="191.1" cy="487.0" r="0.76" fill="#6aa0d6" opacity="0.47"/><circle cx="165.8" cy="466.9" r="0.71" fill="#8cb8e2" opacity="0.63"/><circle cx="227.9" cy="507.4" r="0.72" fill="#7aaade" opacity="0.37"/><circle cx="146.2" cy="454.0" r="0.57" fill="#8cb8e2" opacity="0.64"/><circle cx="65.7" cy="415.3" r="0.51" fill="#6aa0d6" opacity="0.86"/><circle cx="84.8" cy="426.9" r="0.72" fill="#9cc2e6" opacity="0.60"/><circle cx="155.8" cy="463.3" r="0.47" fill="#6aa0d6" opacity="0.56"/><circle cx="193.1" cy="486.6" r="0.47" fill="#6aa0d6" opacity="0.76"/><circle cx="253.9" cy="511.8" r="0.61" fill="#8cb8e2" opacity="0.60"/><circle cx="244.3" cy="509.1" r="0.77" fill="#8cb8e2" opacity="0.55"/><circle cx="253.0" cy="512.4" r="0.58" fill="#6aa0d6" opacity="0.65"/><circle cx="186.4" cy="478.5" r="0.75" fill="#9cc2e6" opacity="0.87"/><circle cx="242.3" cy="510.3" r="0.72" fill="#9cc2e6" opacity="0.63"/><circle cx="179.0" cy="475.7" r="0.61" fill="#6aa0d6" opacity="0.47"/><circle cx="137.8" cy="451.9" r="0.60" fill="#3574bb" opacity="0.83"/><circle cx="216.3" cy="498.5" r="0.78" fill="#6aa0d6" opacity="0.39"/><circle cx="78.1" cy="421.8" r="0.49" fill="#3574bb" opacity="0.85"/><circle cx="78.4" cy="422.1" r="0.58" fill="#6aa0d6" opacity="0.90"/><circle cx="174.7" cy="473.9" r="0.76" fill="#9cc2e6" opacity="0.88"/><circle cx="206.6" cy="495.8" r="0.56" fill="#3574bb" opacity="0.71"/><circle cx="243.2" cy="508.0" r="0.64" fill="#3574bb" opacity="0.82"/><circle cx="111.2" cy="444.2" r="0.49" fill="#9cc2e6" opacity="0.46"/><circle cx="74.0" cy="414.5" r="0.49" fill="#9cc2e6" opacity="0.46"/><circle cx="210.2" cy="495.2" r="0.66" fill="#8cb8e2" opacity="0.82"/><circle cx="209.1" cy="496.9" r="0.63" fill="#9cc2e6" opacity="0.66"/><circle cx="200.3" cy="492.6" r="0.69" fill="#9cc2e6" opacity="0.77"/><circle cx="85.7" cy="427.4" r="0.53" fill="#9cc2e6" opacity="0.50"/><circle cx="207.7" cy="495.5" r="0.78" fill="#4a86c6" opacity="0.48"/><circle cx="86.1" cy="427.3" r="0.63" fill="#6aa0d6" opacity="0.71"/><circle cx="155.2" cy="466.8" r="0.52" fill="#7aaade" opacity="0.44"/><circle cx="219.4" cy="501.3" r="0.57" fill="#6aa0d6" opacity="0.86"/><circle cx="103.0" cy="439.0" r="0.58" fill="#7aaade" opacity="0.88"/><circle cx="110.7" cy="438.0" r="0.79" fill="#6aa0d6" opacity="0.38"/><circle cx="102.4" cy="433.1" r="0.50" fill="#9cc2e6" opacity="0.81"/><circle cx="65.4" cy="412.1" r="0.64" fill="#4a86c6" opacity="0.41"/><circle cx="90.8" cy="431.2" r="0.60" fill="#8cb8e2" opacity="0.88"/><circle cx="74.9" cy="423.2" r="0.67" fill="#3574bb" opacity="0.57"/><circle cx="187.5" cy="483.7" r="0.54" fill="#6aa0d6" opacity="0.84"/><circle cx="223.7" cy="502.4" r="0.64" fill="#9cc2e6" opacity="0.43"/><circle cx="118.4" cy="447.9" r="0.76" fill="#4a86c6" opacity="0.43"/><circle cx="197.2" cy="490.0" r="0.60" fill="#3574bb" opacity="0.85"/><circle cx="75.4" cy="420.7" r="0.54" fill="#4a86c6" opacity="0.53"/><circle cx="72.6" cy="425.1" r="0.58" fill="#7aaade" opacity="0.56"/><circle cx="175.0" cy="474.3" r="0.71" fill="#6aa0d6" opacity="0.39"/><circle cx="118.7" cy="441.4" r="0.58" fill="#6aa0d6" opacity="0.76"/><circle cx="216.0" cy="499.4" r="0.74" fill="#7aaade" opacity="0.77"/><circle cx="228.7" cy="505.6" r="0.58" fill="#8cb8e2" opacity="0.83"/><circle cx="59.0" cy="407.0" r="0.51" fill="#9cc2e6" opacity="0.88"/><circle cx="233.5" cy="506.4" r="0.63" fill="#4a86c6" opacity="0.80"/><circle cx="237.2" cy="507.3" r="0.58" fill="#8cb8e2" opacity="0.87"/><circle cx="194.2" cy="488.3" r="0.74" fill="#7aaade" opacity="0.74"/><circle cx="181.2" cy="478.4" r="0.60" fill="#3574bb" opacity="0.44"/><circle cx="225.8" cy="504.3" r="0.47" fill="#3574bb" opacity="0.37"/><circle cx="64.8" cy="417.5" r="0.69" fill="#6aa0d6" opacity="0.86"/><circle cx="184.4" cy="480.6" r="0.61" fill="#6aa0d6" opacity="0.84"/><circle cx="65.1" cy="414.2" r="0.53" fill="#4a86c6" opacity="0.44"/><circle cx="123.9" cy="447.7" r="0.49" fill="#8cb8e2" opacity="0.51"/><circle cx="141.4" cy="458.4" r="0.64" fill="#9cc2e6" opacity="0.79"/><circle cx="176.2" cy="475.6" r="0.65" fill="#3574bb" opacity="0.69"/><circle cx="68.3" cy="419.4" r="0.58" fill="#6aa0d6" opacity="0.46"/><circle cx="217.8" cy="500.4" r="0.57" fill="#8cb8e2" opacity="0.65"/><circle cx="181.9" cy="480.2" r="0.48" fill="#3574bb" opacity="0.56"/><circle cx="181.7" cy="480.3" r="0.53" fill="#4a86c6" opacity="0.73"/><circle cx="115.4" cy="442.5" r="0.65" fill="#3574bb" opacity="0.78"/><circle cx="141.5" cy="459.5" r="0.78" fill="#7aaade" opacity="0.57"/><circle cx="186.3" cy="480.2" r="0.78" fill="#8cb8e2" opacity="0.70"/><circle cx="80.3" cy="420.6" r="0.62" fill="#4a86c6" opacity="0.61"/><circle cx="143.0" cy="460.2" r="0.60" fill="#4a86c6" opacity="0.87"/><circle cx="158.6" cy="464.5" r="0.67" fill="#3574bb" opacity="0.65"/><circle cx="123.3" cy="446.5" r="0.59" fill="#8cb8e2" opacity="0.80"/><circle cx="127.3" cy="444.8" r="0.48" fill="#4a86c6" opacity="0.36"/><circle cx="194.9" cy="489.6" r="0.63" fill="#3574bb" opacity="0.50"/><circle cx="136.8" cy="450.9" r="0.68" fill="#8cb8e2" opacity="0.84"/><circle cx="235.2" cy="507.8" r="0.74" fill="#9cc2e6" opacity="0.76"/><circle cx="139.3" cy="451.8" r="0.69" fill="#6aa0d6" opacity="0.81"/><circle cx="126.5" cy="450.3" r="0.72" fill="#7aaade" opacity="0.72"/><circle cx="244.2" cy="509.6" r="0.77" fill="#7aaade" opacity="0.55"/><circle cx="126.1" cy="450.5" r="0.68" fill="#7aaade" opacity="0.51"/><circle cx="172.7" cy="475.0" r="0.75" fill="#4a86c6" opacity="0.53"/><circle cx="83.7" cy="420.6" r="0.79" fill="#7aaade" opacity="0.67"/><circle cx="157.7" cy="464.0" r="0.71" fill="#4a86c6" opacity="0.50"/><circle cx="219.8" cy="500.9" r="0.52" fill="#7aaade" opacity="0.67"/><circle cx="200.3" cy="492.8" r="0.74" fill="#7aaade" opacity="0.74"/><circle cx="132.8" cy="453.2" r="0.70" fill="#3574bb" opacity="0.48"/><circle cx="195.7" cy="488.7" r="0.58" fill="#6aa0d6" opacity="0.61"/><circle cx="75.6" cy="419.6" r="0.71" fill="#3574bb" opacity="0.47"/><circle cx="187.5" cy="481.5" r="0.79" fill="#6aa0d6" opacity="0.39"/><circle cx="153.3" cy="462.6" r="0.55" fill="#6aa0d6" opacity="0.49"/><circle cx="242.6" cy="509.5" r="0.51" fill="#9cc2e6" opacity="0.49"/><circle cx="114.5" cy="443.3" r="0.75" fill="#3574bb" opacity="0.79"/><circle cx="71.8" cy="417.0" r="0.56" fill="#7aaade" opacity="0.39"/><circle cx="203.5" cy="494.7" r="0.65" fill="#8cb8e2" opacity="0.37"/><circle cx="134.2" cy="455.7" r="0.45" fill="#9cc2e6" opacity="0.80"/><circle cx="165.5" cy="467.1" r="0.56" fill="#6aa0d6" opacity="0.80"/><circle cx="220.9" cy="501.2" r="0.67" fill="#8cb8e2" opacity="0.40"/><circle cx="78.8" cy="429.2" r="0.63" fill="#8cb8e2" opacity="0.38"/><circle cx="145.1" cy="453.5" r="0.63" fill="#9cc2e6" opacity="0.55"/><circle cx="99.9" cy="433.4" r="0.61" fill="#9cc2e6" opacity="0.54"/><circle cx="214.2" cy="497.3" r="0.46" fill="#8cb8e2" opacity="0.55"/><circle cx="204.2" cy="495.2" r="0.48" fill="#6aa0d6" opacity="0.74"/><circle cx="104.2" cy="435.8" r="0.64" fill="#4a86c6" opacity="0.61"/><circle cx="77.0" cy="421.1" r="0.52" fill="#6aa0d6" opacity="0.82"/><circle cx="173.6" cy="474.4" r="0.73" fill="#6aa0d6" opacity="0.83"/><circle cx="62.4" cy="415.3" r="0.57" fill="#6aa0d6" opacity="0.55"/><circle cx="199.6" cy="491.5" r="0.68" fill="#8cb8e2" opacity="0.73"/><circle cx="162.7" cy="468.8" r="0.55" fill="#8cb8e2" opacity="0.77"/><circle cx="144.8" cy="452.8" r="0.67" fill="#6aa0d6" opacity="0.55"/><circle cx="251.7" cy="510.8" r="0.67" fill="#3574bb" opacity="0.70"/><circle cx="87.5" cy="432.0" r="0.59" fill="#6aa0d6" opacity="0.84"/><circle cx="245.3" cy="509.6" r="0.50" fill="#7aaade" opacity="0.77"/><circle cx="94.6" cy="436.9" r="0.63" fill="#7aaade" opacity="0.46"/><circle cx="111.8" cy="439.4" r="0.60" fill="#9cc2e6" opacity="0.67"/><circle cx="72.4" cy="419.6" r="0.47" fill="#6aa0d6" opacity="0.61"/><circle cx="245.3" cy="511.3" r="0.60" fill="#8cb8e2" opacity="0.75"/><circle cx="234.3" cy="506.1" r="0.51" fill="#9cc2e6" opacity="0.80"/><circle cx="73.9" cy="418.7" r="0.49" fill="#8cb8e2" opacity="0.62"/><circle cx="248.6" cy="509.2" r="0.56" fill="#9cc2e6" opacity="0.56"/><circle cx="162.5" cy="465.8" r="0.54" fill="#9cc2e6" opacity="0.51"/><circle cx="245.8" cy="509.3" r="0.48" fill="#3574bb" opacity="0.76"/><circle cx="176.8" cy="477.2" r="0.52" fill="#3574bb" opacity="0.81"/><circle cx="104.8" cy="439.2" r="0.52" fill="#6aa0d6" opacity="0.82"/><circle cx="168.0" cy="470.7" r="0.59" fill="#4a86c6" opacity="0.46"/><circle cx="131.7" cy="452.2" r="0.75" fill="#4a86c6" opacity="0.35"/><circle cx="194.9" cy="487.7" r="0.68" fill="#9cc2e6" opacity="0.47"/><circle cx="66.0" cy="416.2" r="0.69" fill="#6aa0d6" opacity="0.83"/><circle cx="91.5" cy="429.2" r="0.47" fill="#9cc2e6" opacity="0.55"/><circle cx="129.2" cy="453.4" r="0.62" fill="#8cb8e2" opacity="0.60"/><circle cx="88.7" cy="434.2" r="0.60" fill="#9cc2e6" opacity="0.74"/><circle cx="117.2" cy="445.8" r="0.64" fill="#6aa0d6" opacity="0.49"/><circle cx="78.5" cy="429.9" r="0.80" fill="#4a86c6" opacity="0.64"/><circle cx="74.2" cy="421.3" r="0.54" fill="#3574bb" opacity="0.65"/><circle cx="238.4" cy="509.7" r="0.77" fill="#3574bb" opacity="0.75"/><circle cx="150.9" cy="460.9" r="0.76" fill="#8cb8e2" opacity="0.61"/><circle cx="133.2" cy="446.5" r="0.46" fill="#4a86c6" opacity="0.48"/><circle cx="165.7" cy="471.3" r="0.46" fill="#3574bb" opacity="0.66"/><circle cx="238.8" cy="507.9" r="0.72" fill="#7aaade" opacity="0.48"/><circle cx="98.7" cy="438.5" r="0.63" fill="#7aaade" opacity="0.65"/><circle cx="99.4" cy="433.1" r="0.54" fill="#7aaade" opacity="0.78"/><circle cx="171.1" cy="471.9" r="0.57" fill="#9cc2e6" opacity="0.68"/><circle cx="114.9" cy="444.1" r="0.48" fill="#6aa0d6" opacity="0.52"/><circle cx="178.0" cy="477.3" r="0.69" fill="#7aaade" opacity="0.44"/><circle cx="91.1" cy="433.4" r="0.62" fill="#3574bb" opacity="0.87"/><circle cx="186.9" cy="483.5" r="0.59" fill="#9cc2e6" opacity="0.37"/><circle cx="124.9" cy="447.8" r="0.52" fill="#3574bb" opacity="0.37"/><circle cx="109.1" cy="442.4" r="0.77" fill="#3574bb" opacity="0.35"/><circle cx="138.4" cy="455.3" r="0.51" fill="#7aaade" opacity="0.57"/><circle cx="227.1" cy="503.2" r="0.67" fill="#4a86c6" opacity="0.36"/><circle cx="172.1" cy="476.0" r="0.79" fill="#3574bb" opacity="0.78"/><circle cx="199.8" cy="492.2" r="0.49" fill="#9cc2e6" opacity="0.75"/><circle cx="119.5" cy="444.1" r="0.76" fill="#4a86c6" opacity="0.40"/><circle cx="226.1" cy="502.4" r="0.69" fill="#7aaade" opacity="0.76"/><circle cx="172.6" cy="476.3" r="0.59" fill="#6aa0d6" opacity="0.54"/><circle cx="159.5" cy="466.1" r="0.58" fill="#3574bb" opacity="0.63"/><circle cx="132.3" cy="454.6" r="0.69" fill="#9cc2e6" opacity="0.60"/><circle cx="154.3" cy="462.9" r="0.51" fill="#8cb8e2" opacity="0.43"/><circle cx="237.4" cy="506.6" r="0.52" fill="#3574bb" opacity="0.81"/><circle cx="67.5" cy="419.6" r="0.56" fill="#3574bb" opacity="0.41"/><circle cx="171.6" cy="476.6" r="0.48" fill="#8cb8e2" opacity="0.44"/><circle cx="149.9" cy="460.9" r="0.62" fill="#8cb8e2" opacity="0.44"/><circle cx="209.8" cy="498.2" r="0.56" fill="#3574bb" opacity="0.46"/><circle cx="64.6" cy="407.8" r="0.49" fill="#8cb8e2" opacity="0.50"/><circle cx="185.3" cy="482.7" r="0.57" fill="#9cc2e6" opacity="0.69"/><circle cx="71.5" cy="419.2" r="0.67" fill="#9cc2e6" opacity="0.89"/><circle cx="221.6" cy="500.6" r="0.64" fill="#7aaade" opacity="0.37"/><circle cx="92.1" cy="432.9" r="0.59" fill="#8cb8e2" opacity="0.50"/><circle cx="131.8" cy="455.1" r="0.54" fill="#7aaade" opacity="0.53"/><circle cx="151.7" cy="464.2" r="0.51" fill="#3574bb" opacity="0.68"/><circle cx="252.7" cy="512.6" r="0.58" fill="#4a86c6" opacity="0.47"/><circle cx="114.4" cy="440.1" r="0.67" fill="#9cc2e6" opacity="0.71"/><circle cx="159.8" cy="469.7" r="0.63" fill="#3574bb" opacity="0.53"/><circle cx="165.1" cy="467.7" r="0.56" fill="#9cc2e6" opacity="0.73"/><circle cx="227.2" cy="504.9" r="0.60" fill="#7aaade" opacity="0.42"/><circle cx="209.2" cy="497.7" r="0.56" fill="#9cc2e6" opacity="0.40"/><circle cx="119.1" cy="440.8" r="0.79" fill="#3574bb" opacity="0.88"/><circle cx="182.5" cy="478.7" r="0.65" fill="#6aa0d6" opacity="0.72"/><circle cx="160.7" cy="465.7" r="0.75" fill="#6aa0d6" opacity="0.72"/><circle cx="136.3" cy="453.6" r="0.51" fill="#3574bb" opacity="0.55"/><circle cx="68.3" cy="414.5" r="0.78" fill="#8cb8e2" opacity="0.82"/><circle cx="242.9" cy="507.7" r="0.47" fill="#6aa0d6" opacity="0.69"/><circle cx="121.9" cy="444.3" r="0.78" fill="#6aa0d6" opacity="0.78"/><circle cx="169.1" cy="470.9" r="0.45" fill="#7aaade" opacity="0.88"/><circle cx="129.0" cy="448.5" r="0.79" fill="#7aaade" opacity="0.49"/><circle cx="73.1" cy="416.1" r="0.53" fill="#3574bb" opacity="0.54"/><circle cx="167.1" cy="469.8" r="0.59" fill="#8cb8e2" opacity="0.74"/><circle cx="209.2" cy="497.0" r="0.51" fill="#8cb8e2" opacity="0.81"/><circle cx="206.1" cy="494.4" r="0.78" fill="#6aa0d6" opacity="0.71"/><circle cx="157.8" cy="465.0" r="0.56" fill="#9cc2e6" opacity="0.69"/><circle cx="254.3" cy="511.7" r="0.71" fill="#3574bb" opacity="0.55"/><circle cx="85.7" cy="430.1" r="0.70" fill="#6aa0d6" opacity="0.90"/><circle cx="59.3" cy="408.4" r="0.48" fill="#7aaade" opacity="0.69"/><circle cx="241.7" cy="508.5" r="0.54" fill="#8cb8e2" opacity="0.82"/><circle cx="228.5" cy="504.6" r="0.62" fill="#8cb8e2" opacity="0.67"/><circle cx="144.4" cy="453.7" r="0.47" fill="#7aaade" opacity="0.55"/><circle cx="219.3" cy="501.1" r="0.78" fill="#6aa0d6" opacity="0.79"/><circle cx="175.6" cy="478.6" r="0.47" fill="#6aa0d6" opacity="0.78"/><circle cx="105.2" cy="437.2" r="0.56" fill="#9cc2e6" opacity="0.55"/><circle cx="103.9" cy="439.5" r="0.80" fill="#3574bb" opacity="0.52"/><circle cx="69.8" cy="414.6" r="0.55" fill="#7aaade" opacity="0.87"/><circle cx="227.3" cy="504.7" r="0.62" fill="#7aaade" opacity="0.47"/><circle cx="173.9" cy="473.1" r="0.52" fill="#8cb8e2" opacity="0.86"/><circle cx="184.8" cy="482.3" r="0.69" fill="#9cc2e6" opacity="0.72"/><circle cx="210.1" cy="498.8" r="0.64" fill="#3574bb" opacity="0.64"/><circle cx="211.7" cy="500.3" r="0.67" fill="#4a86c6" opacity="0.74"/><circle cx="86.1" cy="423.3" r="0.62" fill="#9cc2e6" opacity="0.52"/><circle cx="66.6" cy="421.5" r="0.72" fill="#3574bb" opacity="0.72"/><circle cx="132.4" cy="449.1" r="0.73" fill="#8cb8e2" opacity="0.58"/><circle cx="102.1" cy="431.6" r="0.80" fill="#6aa0d6" opacity="0.61"/><circle cx="242.9" cy="509.5" r="0.51" fill="#3574bb" opacity="0.73"/><circle cx="187.8" cy="482.2" r="0.60" fill="#3574bb" opacity="0.53"/><circle cx="218.3" cy="499.5" r="0.74" fill="#3574bb" opacity="0.88"/><circle cx="86.5" cy="425.9" r="0.52" fill="#4a86c6" opacity="0.38"/><circle cx="96.2" cy="437.3" r="0.61" fill="#6aa0d6" opacity="0.62"/><circle cx="66.1" cy="409.0" r="0.48" fill="#7aaade" opacity="0.56"/><circle cx="119.6" cy="441.1" r="0.46" fill="#8cb8e2" opacity="0.59"/><circle cx="126.4" cy="448.4" r="0.54" fill="#8cb8e2" opacity="0.86"/><circle cx="116.6" cy="444.7" r="0.79" fill="#8cb8e2" opacity="0.64"/><circle cx="182.9" cy="479.8" r="0.50" fill="#3574bb" opacity="0.60"/><circle cx="113.5" cy="442.0" r="0.76" fill="#4a86c6" opacity="0.50"/><circle cx="101.4" cy="439.3" r="0.61" fill="#3574bb" opacity="0.41"/><circle cx="152.9" cy="461.4" r="0.50" fill="#7aaade" opacity="0.39"/><circle cx="199.3" cy="490.8" r="0.63" fill="#8cb8e2" opacity="0.59"/><circle cx="240.3" cy="507.8" r="0.58" fill="#8cb8e2" opacity="0.76"/><circle cx="89.4" cy="431.5" r="0.47" fill="#6aa0d6" opacity="0.45"/><circle cx="160.7" cy="468.6" r="0.47" fill="#9cc2e6" opacity="0.72"/><circle cx="192.5" cy="486.4" r="0.71" fill="#9cc2e6" opacity="0.84"/><circle cx="253.1" cy="512.4" r="0.59" fill="#9cc2e6" opacity="0.47"/><circle cx="199.8" cy="492.7" r="0.76" fill="#8cb8e2" opacity="0.59"/><circle cx="150.4" cy="459.7" r="0.80" fill="#6aa0d6" opacity="0.77"/><circle cx="83.1" cy="432.5" r="0.54" fill="#6aa0d6" opacity="0.40"/><circle cx="63.1" cy="417.1" r="0.71" fill="#7aaade" opacity="0.69"/><circle cx="126.5" cy="451.8" r="0.65" fill="#4a86c6" opacity="0.43"/><circle cx="134.0" cy="454.8" r="0.53" fill="#6aa0d6" opacity="0.70"/><circle cx="106.1" cy="435.2" r="0.55" fill="#3574bb" opacity="0.49"/><circle cx="203.8" cy="494.1" r="0.45" fill="#8cb8e2" opacity="0.57"/><circle cx="137.8" cy="452.9" r="0.60" fill="#6aa0d6" opacity="0.58"/><circle cx="208.7" cy="496.0" r="0.57" fill="#8cb8e2" opacity="0.74"/><circle cx="77.0" cy="422.0" r="0.49" fill="#3574bb" opacity="0.59"/><circle cx="175.2" cy="477.4" r="0.69" fill="#7aaade" opacity="0.46"/><circle cx="152.4" cy="462.0" r="0.76" fill="#6aa0d6" opacity="0.56"/><circle cx="255.9" cy="512.7" r="0.57" fill="#6aa0d6" opacity="0.64"/><circle cx="242.5" cy="509.1" r="0.57" fill="#9cc2e6" opacity="0.83"/><circle cx="138.3" cy="454.4" r="0.56" fill="#7aaade" opacity="0.57"/><circle cx="103.8" cy="435.1" r="0.70" fill="#9cc2e6" opacity="0.83"/><circle cx="248.1" cy="510.3" r="0.47" fill="#7aaade" opacity="0.74"/><circle cx="106.1" cy="433.9" r="0.49" fill="#4a86c6" opacity="0.85"/><circle cx="84.2" cy="422.2" r="0.68" fill="#3574bb" opacity="0.46"/><circle cx="223.4" cy="502.6" r="0.80" fill="#9cc2e6" opacity="0.59"/><circle cx="142.2" cy="456.8" r="0.67" fill="#6aa0d6" opacity="0.41"/><circle cx="80.2" cy="421.0" r="0.72" fill="#6aa0d6" opacity="0.78"/><circle cx="91.6" cy="428.4" r="0.55" fill="#6aa0d6" opacity="0.68"/><circle cx="249.6" cy="510.8" r="0.53" fill="#9cc2e6" opacity="0.67"/><circle cx="59.2" cy="413.9" r="0.61" fill="#4a86c6" opacity="0.78"/><circle cx="251.5" cy="512.1" r="0.59" fill="#3574bb" opacity="0.37"/><circle cx="153.5" cy="462.8" r="0.76" fill="#7aaade" opacity="0.83"/><circle cx="249.5" cy="510.5" r="0.64" fill="#9cc2e6" opacity="0.65"/><circle cx="180.9" cy="479.0" r="0.63" fill="#4a86c6" opacity="0.85"/><circle cx="157.1" cy="464.0" r="0.57" fill="#9cc2e6" opacity="0.84"/><circle cx="209.0" cy="497.2" r="0.65" fill="#3574bb" opacity="0.64"/><circle cx="176.2" cy="476.2" r="0.51" fill="#8cb8e2" opacity="0.83"/><circle cx="124.0" cy="445.0" r="0.64" fill="#6aa0d6" opacity="0.59"/><circle cx="203.2" cy="495.9" r="0.71" fill="#7aaade" opacity="0.46"/><circle cx="110.4" cy="443.2" r="0.71" fill="#9cc2e6" opacity="0.57"/><circle cx="206.6" cy="492.6" r="0.50" fill="#4a86c6" opacity="0.60"/><circle cx="216.6" cy="500.0" r="0.79" fill="#4a86c6" opacity="0.74"/><circle cx="195.8" cy="487.6" r="0.77" fill="#3574bb" opacity="0.60"/><circle cx="67.8" cy="418.0" r="0.79" fill="#6aa0d6" opacity="0.51"/><circle cx="95.3" cy="433.6" r="0.60" fill="#3574bb" opacity="0.74"/><circle cx="175.7" cy="475.3" r="0.62" fill="#3574bb" opacity="0.47"/><circle cx="62.2" cy="415.2" r="0.57" fill="#7aaade" opacity="0.66"/><circle cx="194.0" cy="491.6" r="0.65" fill="#7aaade" opacity="0.70"/><circle cx="85.2" cy="426.3" r="0.64" fill="#6aa0d6" opacity="0.61"/><circle cx="219.9" cy="502.1" r="0.51" fill="#6aa0d6" opacity="0.48"/><circle cx="160.3" cy="467.5" r="0.50" fill="#6aa0d6" opacity="0.61"/><circle cx="235.5" cy="508.4" r="0.78" fill="#6aa0d6" opacity="0.66"/><circle cx="218.1" cy="501.2" r="0.59" fill="#8cb8e2" opacity="0.90"/><circle cx="158.0" cy="464.4" r="0.78" fill="#6aa0d6" opacity="0.85"/><circle cx="193.4" cy="486.9" r="0.53" fill="#4a86c6" opacity="0.48"/><circle cx="160.5" cy="466.0" r="0.53" fill="#6aa0d6" opacity="0.71"/><circle cx="155.9" cy="462.8" r="0.58" fill="#6aa0d6" opacity="0.87"/><circle cx="172.6" cy="472.8" r="0.45" fill="#4a86c6" opacity="0.57"/><circle cx="250.4" cy="509.9" r="0.75" fill="#4a86c6" opacity="0.42"/><circle cx="183.8" cy="482.3" r="0.59" fill="#4a86c6" opacity="0.70"/><circle cx="230.5" cy="504.8" r="0.50" fill="#8cb8e2" opacity="0.39"/><circle cx="117.6" cy="442.3" r="0.61" fill="#3574bb" opacity="0.83"/><circle cx="154.0" cy="460.0" r="0.77" fill="#9cc2e6" opacity="0.88"/><circle cx="99.3" cy="430.3" r="0.69" fill="#9cc2e6" opacity="0.35"/><circle cx="183.0" cy="481.6" r="0.69" fill="#8cb8e2" opacity="0.70"/><circle cx="224.1" cy="503.8" r="0.76" fill="#6aa0d6" opacity="0.65"/><circle cx="91.3" cy="430.1" r="0.77" fill="#9cc2e6" opacity="0.50"/><circle cx="160.0" cy="467.8" r="0.68" fill="#8cb8e2" opacity="0.87"/><circle cx="63.5" cy="416.1" r="0.67" fill="#4a86c6" opacity="0.87"/><circle cx="62.2" cy="415.0" r="0.73" fill="#6aa0d6" opacity="0.51"/><circle cx="85.8" cy="426.4" r="0.75" fill="#3574bb" opacity="0.43"/><circle cx="223.7" cy="503.4" r="0.52" fill="#6aa0d6" opacity="0.85"/><circle cx="231.9" cy="507.4" r="0.75" fill="#7aaade" opacity="0.76"/><circle cx="77.7" cy="420.1" r="0.55" fill="#4a86c6" opacity="0.65"/><circle cx="75.0" cy="406.4" r="0.63" fill="#4a86c6" opacity="0.58"/><circle cx="241.4" cy="508.4" r="0.64" fill="#4a86c6" opacity="0.75"/><circle cx="108.0" cy="429.3" r="0.52" fill="#9cc2e6" opacity="0.76"/><circle cx="223.3" cy="502.5" r="0.49" fill="#9cc2e6" opacity="0.72"/><circle cx="197.0" cy="489.0" r="0.65" fill="#7aaade" opacity="0.80"/><circle cx="59.6" cy="413.2" r="0.79" fill="#3574bb" opacity="0.62"/><circle cx="251.3" cy="510.4" r="0.71" fill="#7aaade" opacity="0.77"/><circle cx="92.7" cy="435.1" r="0.60" fill="#4a86c6" opacity="0.74"/><circle cx="113.9" cy="427.9" r="0.70" fill="#4a86c6" opacity="0.89"/><circle cx="180.0" cy="478.7" r="0.65" fill="#6aa0d6" opacity="0.64"/><circle cx="109.4" cy="439.0" r="0.75" fill="#6aa0d6" opacity="0.43"/><circle cx="223.9" cy="503.3" r="0.69" fill="#3574bb" opacity="0.38"/><circle cx="133.1" cy="449.6" r="0.46" fill="#6aa0d6" opacity="0.62"/><circle cx="185.3" cy="483.0" r="0.56" fill="#7aaade" opacity="0.89"/><circle cx="95.5" cy="435.0" r="0.62" fill="#7aaade" opacity="0.76"/><circle cx="70.2" cy="424.0" r="0.66" fill="#6aa0d6" opacity="0.80"/><circle cx="194.7" cy="486.4" r="0.70" fill="#6aa0d6" opacity="0.79"/><circle cx="176.7" cy="477.8" r="0.73" fill="#7aaade" opacity="0.38"/><circle cx="250.8" cy="512.0" r="0.62" fill="#3574bb" opacity="0.80"/><circle cx="185.3" cy="482.5" r="0.67" fill="#7aaade" opacity="0.83"/><circle cx="186.7" cy="484.2" r="0.77" fill="#8cb8e2" opacity="0.76"/><circle cx="71.2" cy="413.6" r="0.67" fill="#9cc2e6" opacity="0.73"/><circle cx="253.3" cy="512.8" r="0.45" fill="#7aaade" opacity="0.65"/><circle cx="67.1" cy="413.0" r="0.47" fill="#7aaade" opacity="0.90"/><circle cx="251.3" cy="511.8" r="0.77" fill="#3574bb" opacity="0.49"/><circle cx="63.7" cy="412.9" r="0.56" fill="#9cc2e6" opacity="0.75"/><circle cx="138.3" cy="449.6" r="0.51" fill="#8cb8e2" opacity="0.61"/><circle cx="228.5" cy="503.9" r="0.69" fill="#8cb8e2" opacity="0.36"/><circle cx="86.4" cy="429.4" r="0.74" fill="#9cc2e6" opacity="0.59"/><circle cx="199.3" cy="490.9" r="0.64" fill="#6aa0d6" opacity="0.82"/><circle cx="255.2" cy="512.7" r="0.68" fill="#4a86c6" opacity="0.71"/><circle cx="211.6" cy="498.1" r="0.72" fill="#4a86c6" opacity="0.42"/><circle cx="210.6" cy="497.1" r="0.52" fill="#3574bb" opacity="0.80"/><circle cx="59.2" cy="409.3" r="0.55" fill="#6aa0d6" opacity="0.72"/><circle cx="109.1" cy="437.9" r="0.59" fill="#8cb8e2" opacity="0.46"/><circle cx="237.9" cy="507.6" r="0.75" fill="#8cb8e2" opacity="0.72"/><circle cx="168.5" cy="471.5" r="0.50" fill="#4a86c6" opacity="0.41"/><circle cx="83.0" cy="435.2" r="0.76" fill="#8cb8e2" opacity="0.38"/><circle cx="159.8" cy="466.9" r="0.76" fill="#7aaade" opacity="0.88"/><circle cx="131.8" cy="449.0" r="0.57" fill="#4a86c6" opacity="0.87"/><circle cx="143.1" cy="459.1" r="0.47" fill="#6aa0d6" opacity="0.74"/><circle cx="128.3" cy="450.7" r="0.51" fill="#3574bb" opacity="0.46"/><circle cx="207.5" cy="498.3" r="0.48" fill="#9cc2e6" opacity="0.43"/><circle cx="89.1" cy="429.0" r="0.60" fill="#4a86c6" opacity="0.46"/><circle cx="247.4" cy="509.5" r="0.70" fill="#3574bb" opacity="0.70"/><circle cx="170.4" cy="474.2" r="0.60" fill="#9cc2e6" opacity="0.72"/><circle cx="95.1" cy="430.3" r="0.79" fill="#6aa0d6" opacity="0.87"/><circle cx="209.7" cy="496.4" r="0.63" fill="#9cc2e6" opacity="0.73"/><circle cx="68.9" cy="416.0" r="0.58" fill="#4a86c6" opacity="0.90"/><circle cx="187.5" cy="482.0" r="0.59" fill="#4a86c6" opacity="0.70"/><circle cx="242.7" cy="508.4" r="0.76" fill="#6aa0d6" opacity="0.66"/><circle cx="63.6" cy="408.1" r="0.58" fill="#4a86c6" opacity="0.70"/><circle cx="178.7" cy="477.8" r="0.71" fill="#6aa0d6" opacity="0.79"/><circle cx="241.3" cy="507.7" r="0.54" fill="#3574bb" opacity="0.52"/><circle cx="127.8" cy="447.2" r="0.59" fill="#4a86c6" opacity="0.39"/><circle cx="237.8" cy="508.9" r="0.73" fill="#4a86c6" opacity="0.87"/><circle cx="124.9" cy="444.0" r="0.73" fill="#7aaade" opacity="0.66"/><circle cx="166.6" cy="470.3" r="0.76" fill="#8cb8e2" opacity="0.48"/><circle cx="119.4" cy="448.8" r="0.54" fill="#6aa0d6" opacity="0.90"/><circle cx="217.4" cy="501.7" r="0.74" fill="#9cc2e6" opacity="0.43"/><circle cx="214.1" cy="498.2" r="0.69" fill="#9cc2e6" opacity="0.57"/><circle cx="107.6" cy="443.0" r="0.50" fill="#9cc2e6" opacity="0.36"/><circle cx="242.3" cy="508.6" r="0.55" fill="#9cc2e6" opacity="0.51"/><circle cx="169.5" cy="470.4" r="0.71" fill="#8cb8e2" opacity="0.51"/><circle cx="88.3" cy="427.4" r="0.61" fill="#6aa0d6" opacity="0.47"/><circle cx="86.9" cy="423.3" r="0.65" fill="#6aa0d6" opacity="0.71"/><circle cx="199.7" cy="491.9" r="0.67" fill="#4a86c6" opacity="0.89"/><circle cx="163.7" cy="470.8" r="0.77" fill="#7aaade" opacity="0.56"/><circle cx="218.7" cy="501.3" r="0.56" fill="#4a86c6" opacity="0.35"/><circle cx="66.2" cy="418.0" r="0.67" fill="#4a86c6" opacity="0.61"/><circle cx="59.8" cy="416.2" r="0.71" fill="#7aaade" opacity="0.73"/><circle cx="235.7" cy="506.3" r="0.70" fill="#4a86c6" opacity="0.77"/><circle cx="69.0" cy="418.2" r="0.69" fill="#7aaade" opacity="0.56"/><circle cx="156.1" cy="468.4" r="0.61" fill="#3574bb" opacity="0.52"/><circle cx="60.6" cy="412.1" r="0.72" fill="#4a86c6" opacity="0.77"/><circle cx="88.8" cy="431.5" r="0.55" fill="#6aa0d6" opacity="0.61"/><circle cx="250.7" cy="511.7" r="0.59" fill="#8cb8e2" opacity="0.51"/><circle cx="159.2" cy="465.4" r="0.55" fill="#9cc2e6" opacity="0.90"/><circle cx="94.5" cy="433.1" r="0.75" fill="#7aaade" opacity="0.81"/><circle cx="140.2" cy="452.1" r="0.52" fill="#4a86c6" opacity="0.66"/><circle cx="230.8" cy="504.9" r="0.71" fill="#4a86c6" opacity="0.58"/><circle cx="87.6" cy="429.6" r="0.66" fill="#4a86c6" opacity="0.87"/><circle cx="72.7" cy="416.9" r="0.58" fill="#7aaade" opacity="0.35"/><circle cx="68.2" cy="419.3" r="0.49" fill="#6aa0d6" opacity="0.83"/><circle cx="90.1" cy="435.3" r="0.70" fill="#9cc2e6" opacity="0.78"/><circle cx="85.4" cy="428.5" r="0.67" fill="#3574bb" opacity="0.39"/><circle cx="88.9" cy="428.0" r="0.49" fill="#4a86c6" opacity="0.76"/><circle cx="113.4" cy="437.7" r="0.50" fill="#7aaade" opacity="0.69"/><circle cx="112.5" cy="445.6" r="0.80" fill="#8cb8e2" opacity="0.37"/><circle cx="183.9" cy="479.7" r="0.55" fill="#3574bb" opacity="0.66"/><circle cx="168.1" cy="472.9" r="0.56" fill="#7aaade" opacity="0.66"/><circle cx="86.6" cy="433.1" r="0.64" fill="#4a86c6" opacity="0.82"/><circle cx="118.6" cy="445.2" r="0.52" fill="#4a86c6" opacity="0.79"/><circle cx="61.4" cy="414.1" r="0.68" fill="#4a86c6" opacity="0.63"/><circle cx="72.1" cy="418.9" r="0.50" fill="#7aaade" opacity="0.39"/><circle cx="75.4" cy="421.8" r="0.45" fill="#3574bb" opacity="0.38"/><circle cx="151.6" cy="465.2" r="0.70" fill="#4a86c6" opacity="0.73"/><circle cx="253.8" cy="512.1" r="0.48" fill="#4a86c6" opacity="0.50"/><circle cx="94.4" cy="432.7" r="0.65" fill="#6aa0d6" opacity="0.63"/><circle cx="247.5" cy="510.2" r="0.50" fill="#3574bb" opacity="0.57"/><circle cx="149.9" cy="462.6" r="0.45" fill="#8cb8e2" opacity="0.89"/><circle cx="234.4" cy="504.7" r="0.76" fill="#9cc2e6" opacity="0.73"/><circle cx="182.3" cy="480.1" r="0.57" fill="#7aaade" opacity="0.61"/><circle cx="114.5" cy="443.5" r="0.71" fill="#7aaade" opacity="0.65"/><circle cx="214.8" cy="500.5" r="0.46" fill="#4a86c6" opacity="0.75"/><circle cx="211.2" cy="497.2" r="0.58" fill="#9cc2e6" opacity="0.66"/><circle cx="143.2" cy="454.4" r="0.48" fill="#9cc2e6" opacity="0.67"/><circle cx="252.3" cy="511.7" r="0.54" fill="#4a86c6" opacity="0.65"/><circle cx="92.9" cy="430.2" r="0.64" fill="#9cc2e6" opacity="0.71"/><circle cx="155.3" cy="463.9" r="0.73" fill="#6aa0d6" opacity="0.85"/><circle cx="179.8" cy="478.5" r="0.79" fill="#6aa0d6" opacity="0.76"/><circle cx="220.4" cy="501.0" r="0.76" fill="#4a86c6" opacity="0.49"/><circle cx="112.6" cy="443.7" r="0.50" fill="#4a86c6" opacity="0.88"/><circle cx="190.3" cy="486.0" r="0.55" fill="#6aa0d6" opacity="0.40"/><circle cx="103.4" cy="440.1" r="0.75" fill="#8cb8e2" opacity="0.46"/><circle cx="131.5" cy="448.9" r="0.66" fill="#4a86c6" opacity="0.53"/><circle cx="71.1" cy="423.8" r="0.66" fill="#6aa0d6" opacity="0.86"/><circle cx="249.3" cy="511.3" r="0.71" fill="#8cb8e2" opacity="0.43"/><circle cx="124.8" cy="446.6" r="0.52" fill="#6aa0d6" opacity="0.51"/><circle cx="159.5" cy="466.1" r="0.56" fill="#6aa0d6" opacity="0.82"/><circle cx="174.6" cy="475.6" r="0.59" fill="#9cc2e6" opacity="0.73"/><circle cx="66.7" cy="413.3" r="0.63" fill="#8cb8e2" opacity="0.89"/><circle cx="218.5" cy="500.1" r="0.45" fill="#4a86c6" opacity="0.52"/><circle cx="114.3" cy="443.6" r="0.58" fill="#4a86c6" opacity="0.85"/><circle cx="104.6" cy="438.0" r="0.67" fill="#9cc2e6" opacity="0.48"/><circle cx="111.0" cy="437.5" r="0.64" fill="#4a86c6" opacity="0.84"/><circle cx="91.8" cy="429.7" r="0.52" fill="#6aa0d6" opacity="0.53"/><circle cx="94.9" cy="430.4" r="0.50" fill="#8cb8e2" opacity="0.69"/><circle cx="75.9" cy="419.9" r="0.65" fill="#8cb8e2" opacity="0.36"/><circle cx="144.7" cy="455.5" r="0.58" fill="#9cc2e6" opacity="0.58"/><circle cx="225.4" cy="503.8" r="0.68" fill="#4a86c6" opacity="0.48"/><circle cx="229.3" cy="505.1" r="0.54" fill="#3574bb" opacity="0.53"/><circle cx="67.4" cy="413.3" r="0.55" fill="#7aaade" opacity="0.88"/><circle cx="175.1" cy="473.3" r="0.72" fill="#3574bb" opacity="0.41"/><circle cx="155.4" cy="465.9" r="0.60" fill="#9cc2e6" opacity="0.79"/><circle cx="70.6" cy="421.7" r="0.75" fill="#7aaade" opacity="0.81"/><circle cx="207.3" cy="495.6" r="0.78" fill="#6aa0d6" opacity="0.78"/><circle cx="163.3" cy="467.8" r="0.80" fill="#3574bb" opacity="0.60"/><circle cx="200.4" cy="492.8" r="0.61" fill="#3574bb" opacity="0.87"/><circle cx="248.1" cy="509.5" r="0.51" fill="#6aa0d6" opacity="0.86"/><circle cx="85.3" cy="434.1" r="0.66" fill="#6aa0d6" opacity="0.40"/><circle cx="213.1" cy="497.8" r="0.76" fill="#3574bb" opacity="0.57"/><circle cx="254.3" cy="511.4" r="0.67" fill="#4a86c6" opacity="0.49"/><circle cx="140.4" cy="452.0" r="0.60" fill="#8cb8e2" opacity="0.54"/><circle cx="142.6" cy="455.7" r="0.55" fill="#3574bb" opacity="0.72"/><circle cx="213.9" cy="497.5" r="0.75" fill="#3574bb" opacity="0.60"/><circle cx="215.0" cy="500.2" r="0.79" fill="#8cb8e2" opacity="0.54"/><circle cx="187.2" cy="481.0" r="0.71" fill="#6aa0d6" opacity="0.62"/><circle cx="150.5" cy="462.4" r="0.73" fill="#9cc2e6" opacity="0.49"/><circle cx="78.3" cy="424.0" r="0.50" fill="#7aaade" opacity="0.78"/><circle cx="252.4" cy="510.6" r="0.68" fill="#4a86c6" opacity="0.76"/><circle cx="160.8" cy="466.6" r="0.70" fill="#7aaade" opacity="0.75"/><circle cx="159.3" cy="465.9" r="0.73" fill="#4a86c6" opacity="0.80"/><circle cx="95.1" cy="429.7" r="0.65" fill="#8cb8e2" opacity="0.80"/><circle cx="103.4" cy="443.7" r="0.73" fill="#4a86c6" opacity="0.87"/><circle cx="94.9" cy="434.3" r="0.45" fill="#9cc2e6" opacity="0.69"/><circle cx="151.0" cy="464.4" r="0.52" fill="#4a86c6" opacity="0.42"/><circle cx="214.6" cy="495.0" r="0.57" fill="#3574bb" opacity="0.66"/><circle cx="222.7" cy="502.9" r="0.56" fill="#7aaade" opacity="0.64"/><circle cx="60.4" cy="414.9" r="0.62" fill="#6aa0d6" opacity="0.88"/><circle cx="243.8" cy="507.8" r="0.56" fill="#6aa0d6" opacity="0.63"/><circle cx="182.3" cy="480.0" r="0.66" fill="#6aa0d6" opacity="0.76"/><circle cx="214.7" cy="499.2" r="0.76" fill="#8cb8e2" opacity="0.90"/><circle cx="63.7" cy="414.0" r="0.75" fill="#7aaade" opacity="0.51"/><circle cx="73.8" cy="423.1" r="0.59" fill="#9cc2e6" opacity="0.71"/><circle cx="81.3" cy="429.5" r="0.77" fill="#8cb8e2" opacity="0.51"/><circle cx="164.2" cy="469.4" r="0.64" fill="#4a86c6" opacity="0.37"/><circle cx="191.1" cy="486.7" r="0.59" fill="#6aa0d6" opacity="0.80"/><circle cx="252.3" cy="511.7" r="0.59" fill="#7aaade" opacity="0.43"/><circle cx="212.4" cy="498.7" r="0.61" fill="#9cc2e6" opacity="0.85"/><circle cx="146.0" cy="457.1" r="0.60" fill="#7aaade" opacity="0.67"/><circle cx="105.8" cy="432.6" r="0.61" fill="#7aaade" opacity="0.48"/><circle cx="231.2" cy="504.4" r="0.68" fill="#8cb8e2" opacity="0.59"/><circle cx="110.2" cy="438.4" r="0.61" fill="#6aa0d6" opacity="0.79"/><circle cx="155.0" cy="466.3" r="0.80" fill="#6aa0d6" opacity="0.88"/><circle cx="149.1" cy="455.5" r="0.47" fill="#9cc2e6" opacity="0.37"/><circle cx="100.0" cy="432.9" r="0.54" fill="#7aaade" opacity="0.59"/><circle cx="87.8" cy="429.3" r="0.67" fill="#7aaade" opacity="0.51"/><circle cx="189.0" cy="482.4" r="0.69" fill="#8cb8e2" opacity="0.53"/><circle cx="232.5" cy="506.0" r="0.47" fill="#7aaade" opacity="0.65"/><circle cx="202.9" cy="492.2" r="0.59" fill="#7aaade" opacity="0.60"/><circle cx="249.3" cy="509.6" r="0.76" fill="#7aaade" opacity="0.38"/><circle cx="237.9" cy="508.4" r="0.77" fill="#8cb8e2" opacity="0.40"/><circle cx="192.1" cy="486.9" r="0.53" fill="#7aaade" opacity="0.40"/><circle cx="140.1" cy="455.9" r="0.79" fill="#7aaade" opacity="0.88"/><circle cx="62.8" cy="419.6" r="0.63" fill="#8cb8e2" opacity="0.43"/><circle cx="220.3" cy="499.8" r="0.80" fill="#3574bb" opacity="0.76"/><circle cx="255.5" cy="511.5" r="0.53" fill="#8cb8e2" opacity="0.37"/><circle cx="179.4" cy="476.1" r="0.78" fill="#9cc2e6" opacity="0.58"/><circle cx="185.1" cy="481.7" r="0.65" fill="#9cc2e6" opacity="0.39"/><circle cx="116.7" cy="443.3" r="0.76" fill="#8cb8e2" opacity="0.74"/><circle cx="86.7" cy="429.1" r="0.53" fill="#8cb8e2" opacity="0.82"/><circle cx="120.2" cy="445.9" r="0.48" fill="#4a86c6" opacity="0.50"/><circle cx="155.0" cy="463.8" r="0.74" fill="#9cc2e6" opacity="0.57"/><circle cx="162.3" cy="470.7" r="0.52" fill="#3574bb" opacity="0.44"/><circle cx="199.9" cy="490.0" r="0.64" fill="#7aaade" opacity="0.76"/><circle cx="185.1" cy="479.9" r="0.68" fill="#9cc2e6" opacity="0.62"/><circle cx="109.8" cy="442.2" r="0.51" fill="#6aa0d6" opacity="0.40"/><circle cx="161.3" cy="465.7" r="0.53" fill="#7aaade" opacity="0.75"/><circle cx="221.2" cy="501.7" r="0.80" fill="#4a86c6" opacity="0.64"/><circle cx="74.0" cy="418.3" r="0.58" fill="#9cc2e6" opacity="0.46"/><circle cx="100.7" cy="432.3" r="0.59" fill="#7aaade" opacity="0.82"/><circle cx="94.4" cy="431.3" r="0.48" fill="#7aaade" opacity="0.89"/><circle cx="227.1" cy="504.4" r="0.48" fill="#9cc2e6" opacity="0.67"/><circle cx="90.0" cy="434.9" r="0.71" fill="#4a86c6" opacity="0.40"/><circle cx="149.0" cy="463.5" r="0.57" fill="#7aaade" opacity="0.53"/><circle cx="243.7" cy="509.9" r="0.73" fill="#9cc2e6" opacity="0.86"/><circle cx="201.9" cy="494.3" r="0.49" fill="#3574bb" opacity="0.76"/><circle cx="211.6" cy="495.6" r="0.53" fill="#3574bb" opacity="0.79"/><circle cx="146.8" cy="457.0" r="0.67" fill="#3574bb" opacity="0.43"/><circle cx="158.3" cy="465.1" r="0.64" fill="#6aa0d6" opacity="0.85"/><circle cx="135.6" cy="453.3" r="0.73" fill="#6aa0d6" opacity="0.60"/><circle cx="216.6" cy="499.7" r="0.74" fill="#4a86c6" opacity="0.65"/><circle cx="65.6" cy="415.4" r="0.64" fill="#7aaade" opacity="0.84"/><circle cx="222.3" cy="504.7" r="0.46" fill="#6aa0d6" opacity="0.64"/><circle cx="104.5" cy="431.5" r="0.56" fill="#6aa0d6" opacity="0.45"/><circle cx="198.3" cy="489.4" r="0.72" fill="#7aaade" opacity="0.48"/><circle cx="149.0" cy="462.5" r="0.47" fill="#8cb8e2" opacity="0.49"/><circle cx="165.8" cy="470.8" r="0.52" fill="#7aaade" opacity="0.84"/><circle cx="207.2" cy="496.6" r="0.70" fill="#3574bb" opacity="0.72"/><circle cx="74.0" cy="416.1" r="0.57" fill="#3574bb" opacity="0.78"/><circle cx="113.5" cy="444.6" r="0.77" fill="#6aa0d6" opacity="0.84"/><circle cx="145.3" cy="459.8" r="0.66" fill="#7aaade" opacity="0.61"/><circle cx="131.7" cy="448.8" r="0.46" fill="#9cc2e6" opacity="0.87"/><circle cx="184.9" cy="480.7" r="0.70" fill="#9cc2e6" opacity="0.87"/><circle cx="135.9" cy="450.1" r="0.76" fill="#3574bb" opacity="0.69"/><circle cx="99.5" cy="433.6" r="0.55" fill="#8cb8e2" opacity="0.81"/><circle cx="236.1" cy="507.1" r="0.57" fill="#6aa0d6" opacity="0.81"/><circle cx="104.5" cy="439.3" r="0.66" fill="#6aa0d6" opacity="0.62"/><circle cx="223.3" cy="504.4" r="0.53" fill="#7aaade" opacity="0.54"/><circle cx="80.6" cy="426.7" r="0.55" fill="#4a86c6" opacity="0.54"/><circle cx="207.0" cy="497.4" r="0.51" fill="#6aa0d6" opacity="0.39"/><circle cx="178.8" cy="478.5" r="0.73" fill="#6aa0d6" opacity="0.80"/><circle cx="127.3" cy="451.8" r="0.48" fill="#6aa0d6" opacity="0.38"/><circle cx="75.3" cy="423.9" r="0.60" fill="#4a86c6" opacity="0.71"/><circle cx="185.1" cy="481.1" r="0.74" fill="#6aa0d6" opacity="0.58"/><circle cx="64.8" cy="417.0" r="0.55" fill="#8cb8e2" opacity="0.86"/><circle cx="96.8" cy="437.5" r="0.57" fill="#6aa0d6" opacity="0.75"/><circle cx="143.7" cy="454.9" r="0.57" fill="#7aaade" opacity="0.47"/><circle cx="217.6" cy="500.2" r="0.51" fill="#4a86c6" opacity="0.70"/><circle cx="171.7" cy="473.2" r="0.46" fill="#3574bb" opacity="0.87"/><circle cx="133.8" cy="450.5" r="0.68" fill="#8cb8e2" opacity="0.76"/><circle cx="159.0" cy="464.3" r="0.64" fill="#8cb8e2" opacity="0.77"/><circle cx="226.3" cy="504.1" r="0.59" fill="#4a86c6" opacity="0.70"/><circle cx="99.4" cy="431.7" r="0.65" fill="#9cc2e6" opacity="0.53"/><circle cx="171.0" cy="473.1" r="0.79" fill="#9cc2e6" opacity="0.37"/><circle cx="108.3" cy="434.8" r="0.67" fill="#7aaade" opacity="0.81"/><circle cx="119.8" cy="446.4" r="0.50" fill="#6aa0d6" opacity="0.62"/><circle cx="73.1" cy="423.7" r="0.52" fill="#7aaade" opacity="0.69"/><circle cx="241.0" cy="509.1" r="0.59" fill="#3574bb" opacity="0.42"/><circle cx="231.2" cy="507.1" r="0.65" fill="#6aa0d6" opacity="0.72"/><circle cx="112.9" cy="445.8" r="0.68" fill="#6aa0d6" opacity="0.55"/><circle cx="134.8" cy="453.1" r="0.61" fill="#4a86c6" opacity="0.78"/><circle cx="76.9" cy="420.8" r="0.54" fill="#9cc2e6" opacity="0.73"/><circle cx="188.9" cy="486.3" r="0.46" fill="#7aaade" opacity="0.82"/><circle cx="177.9" cy="476.7" r="0.62" fill="#8cb8e2" opacity="0.45"/><circle cx="151.3" cy="459.7" r="0.58" fill="#3574bb" opacity="0.79"/><circle cx="64.2" cy="419.3" r="0.71" fill="#9cc2e6" opacity="0.79"/><circle cx="97.2" cy="429.4" r="0.63" fill="#8cb8e2" opacity="0.55"/><circle cx="121.0" cy="444.8" r="0.51" fill="#3574bb" opacity="0.68"/><circle cx="168.7" cy="470.7" r="0.61" fill="#6aa0d6" opacity="0.78"/><circle cx="181.1" cy="479.4" r="0.72" fill="#7aaade" opacity="0.86"/><circle cx="120.8" cy="445.3" r="0.48" fill="#9cc2e6" opacity="0.72"/><circle cx="204.1" cy="493.9" r="0.67" fill="#7aaade" opacity="0.80"/><circle cx="72.4" cy="423.2" r="0.54" fill="#4a86c6" opacity="0.81"/><circle cx="211.5" cy="499.7" r="0.68" fill="#6aa0d6" opacity="0.85"/><circle cx="169.3" cy="472.4" r="0.48" fill="#3574bb" opacity="0.85"/><circle cx="158.3" cy="468.1" r="0.68" fill="#7aaade" opacity="0.82"/><circle cx="230.5" cy="507.5" r="0.67" fill="#7aaade" opacity="0.65"/><circle cx="143.1" cy="455.9" r="0.54" fill="#6aa0d6" opacity="0.74"/><circle cx="121.7" cy="444.7" r="0.76" fill="#3574bb" opacity="0.56"/><circle cx="255.6" cy="512.9" r="0.58" fill="#3574bb" opacity="0.73"/><circle cx="192.2" cy="485.9" r="0.72" fill="#9cc2e6" opacity="0.56"/><circle cx="161.0" cy="469.9" r="0.49" fill="#6aa0d6" opacity="0.40"/><circle cx="238.0" cy="508.3" r="0.47" fill="#6aa0d6" opacity="0.77"/><circle cx="251.7" cy="511.3" r="0.53" fill="#9cc2e6" opacity="0.52"/><circle cx="145.3" cy="459.9" r="0.46" fill="#3574bb" opacity="0.44"/><circle cx="226.0" cy="504.2" r="0.74" fill="#4a86c6" opacity="0.63"/><circle cx="183.1" cy="481.2" r="0.49" fill="#8cb8e2" opacity="0.36"/><circle cx="195.9" cy="490.3" r="0.50" fill="#9cc2e6" opacity="0.39"/><circle cx="221.0" cy="502.5" r="0.46" fill="#7aaade" opacity="0.61"/><circle cx="78.7" cy="427.6" r="0.79" fill="#7aaade" opacity="0.83"/><circle cx="199.1" cy="491.3" r="0.45" fill="#7aaade" opacity="0.88"/><circle cx="117.5" cy="445.3" r="0.59" fill="#6aa0d6" opacity="0.39"/><circle cx="115.2" cy="438.8" r="0.47" fill="#8cb8e2" opacity="0.64"/><circle cx="150.9" cy="460.0" r="0.54" fill="#4a86c6" opacity="0.72"/><circle cx="139.1" cy="456.1" r="0.62" fill="#8cb8e2" opacity="0.53"/><circle cx="126.8" cy="444.1" r="0.49" fill="#7aaade" opacity="0.79"/><circle cx="81.6" cy="427.3" r="0.63" fill="#3574bb" opacity="0.90"/><circle cx="245.3" cy="508.8" r="0.69" fill="#3574bb" opacity="0.55"/><circle cx="132.4" cy="449.4" r="0.52" fill="#4a86c6" opacity="0.64"/><circle cx="111.3" cy="444.9" r="0.54" fill="#4a86c6" opacity="0.57"/><circle cx="225.5" cy="503.4" r="0.53" fill="#4a86c6" opacity="0.89"/><circle cx="147.5" cy="459.8" r="0.71" fill="#7aaade" opacity="0.54"/><circle cx="229.9" cy="505.8" r="0.63" fill="#4a86c6" opacity="0.68"/><circle cx="163.7" cy="469.5" r="0.73" fill="#4a86c6" opacity="0.53"/><circle cx="214.0" cy="499.3" r="0.71" fill="#8cb8e2" opacity="0.74"/><circle cx="178.8" cy="475.4" r="0.46" fill="#3574bb" opacity="0.75"/><circle cx="79.7" cy="423.6" r="0.68" fill="#4a86c6" opacity="0.83"/><circle cx="110.6" cy="444.1" r="0.68" fill="#7aaade" opacity="0.61"/><circle cx="223.9" cy="501.3" r="0.58" fill="#9cc2e6" opacity="0.54"/><circle cx="225.9" cy="504.7" r="0.61" fill="#6aa0d6" opacity="0.72"/><circle cx="246.9" cy="510.6" r="0.65" fill="#4a86c6" opacity="0.39"/><circle cx="106.0" cy="430.2" r="0.67" fill="#3574bb" opacity="0.54"/><circle cx="186.8" cy="483.4" r="0.78" fill="#4a86c6" opacity="0.46"/><circle cx="245.2" cy="509.6" r="0.63" fill="#8cb8e2" opacity="0.54"/><circle cx="241.0" cy="507.8" r="0.63" fill="#9cc2e6" opacity="0.88"/><circle cx="222.2" cy="502.6" r="0.53" fill="#6aa0d6" opacity="0.82"/><circle cx="59.4" cy="419.4" r="0.79" fill="#8cb8e2" opacity="0.46"/><circle cx="219.4" cy="502.4" r="0.73" fill="#6aa0d6" opacity="0.56"/><circle cx="197.1" cy="491.8" r="0.58" fill="#9cc2e6" opacity="0.60"/><circle cx="181.5" cy="480.1" r="0.70" fill="#3574bb" opacity="0.69"/><circle cx="168.9" cy="471.0" r="0.70" fill="#9cc2e6" opacity="0.75"/><circle cx="230.1" cy="505.0" r="0.64" fill="#9cc2e6" opacity="0.65"/><circle cx="173.1" cy="472.3" r="0.62" fill="#8cb8e2" opacity="0.87"/><circle cx="199.5" cy="489.3" r="0.79" fill="#6aa0d6" opacity="0.52"/><circle cx="80.3" cy="427.1" r="0.79" fill="#4a86c6" opacity="0.68"/><circle cx="184.1" cy="481.8" r="0.73" fill="#7aaade" opacity="0.51"/><circle cx="215.3" cy="499.7" r="0.64" fill="#3574bb" opacity="0.67"/><circle cx="74.9" cy="415.4" r="0.58" fill="#6aa0d6" opacity="0.68"/><circle cx="192.8" cy="487.1" r="0.76" fill="#8cb8e2" opacity="0.41"/><circle cx="149.9" cy="460.5" r="0.78" fill="#3574bb" opacity="0.78"/><circle cx="78.7" cy="429.2" r="0.48" fill="#8cb8e2" opacity="0.74"/><circle cx="252.0" cy="511.2" r="0.64" fill="#8cb8e2" opacity="0.47"/><circle cx="119.9" cy="449.0" r="0.51" fill="#6aa0d6" opacity="0.65"/><circle cx="239.8" cy="507.6" r="0.66" fill="#6aa0d6" opacity="0.43"/><circle cx="254.9" cy="512.4" r="0.79" fill="#4a86c6" opacity="0.61"/><circle cx="124.3" cy="446.8" r="0.70" fill="#6aa0d6" opacity="0.90"/><circle cx="236.4" cy="507.4" r="0.62" fill="#4a86c6" opacity="0.79"/><circle cx="220.6" cy="503.3" r="0.71" fill="#9cc2e6" opacity="0.57"/><circle cx="171.5" cy="472.0" r="0.46" fill="#6aa0d6" opacity="0.42"/><circle cx="96.0" cy="431.0" r="0.59" fill="#6aa0d6" opacity="0.79"/><circle cx="242.5" cy="509.8" r="0.74" fill="#7aaade" opacity="0.81"/><circle cx="89.3" cy="423.6" r="0.74" fill="#3574bb" opacity="0.88"/><circle cx="210.8" cy="498.3" r="0.73" fill="#8cb8e2" opacity="0.64"/><circle cx="189.4" cy="484.5" r="0.48" fill="#6aa0d6" opacity="0.60"/><circle cx="233.7" cy="507.0" r="0.46" fill="#9cc2e6" opacity="0.65"/><circle cx="83.7" cy="432.9" r="0.74" fill="#4a86c6" opacity="0.39"/><circle cx="81.2" cy="420.7" r="0.59" fill="#6aa0d6" opacity="0.35"/><circle cx="237.4" cy="506.1" r="0.46" fill="#8cb8e2" opacity="0.89"/><circle cx="93.3" cy="428.5" r="0.68" fill="#7aaade" opacity="0.85"/><circle cx="166.4" cy="468.6" r="0.58" fill="#9cc2e6" opacity="0.59"/><circle cx="224.7" cy="503.9" r="0.69" fill="#7aaade" opacity="0.61"/><circle cx="113.9" cy="439.3" r="0.80" fill="#3574bb" opacity="0.42"/><circle cx="225.2" cy="503.1" r="0.50" fill="#8cb8e2" opacity="0.84"/><circle cx="169.7" cy="471.6" r="0.50" fill="#4a86c6" opacity="0.38"/><circle cx="132.2" cy="451.4" r="0.71" fill="#8cb8e2" opacity="0.36"/><circle cx="253.2" cy="511.5" r="0.67" fill="#7aaade" opacity="0.42"/><circle cx="240.8" cy="508.9" r="0.74" fill="#3574bb" opacity="0.63"/><circle cx="247.9" cy="510.1" r="0.49" fill="#6aa0d6" opacity="0.67"/><circle cx="64.8" cy="413.1" r="0.67" fill="#8cb8e2" opacity="0.56"/><circle cx="246.1" cy="509.5" r="0.70" fill="#6aa0d6" opacity="0.52"/><circle cx="94.5" cy="433.0" r="0.65" fill="#6aa0d6" opacity="0.88"/><circle cx="182.9" cy="481.1" r="0.46" fill="#6aa0d6" opacity="0.52"/><circle cx="180.7" cy="478.5" r="0.53" fill="#9cc2e6" opacity="0.58"/><circle cx="96.1" cy="438.7" r="0.75" fill="#3574bb" opacity="0.39"/><circle cx="104.6" cy="439.1" r="0.78" fill="#6aa0d6" opacity="0.54"/><circle cx="69.6" cy="422.0" r="0.47" fill="#4a86c6" opacity="0.66"/><circle cx="163.5" cy="465.4" r="0.47" fill="#4a86c6" opacity="0.80"/><circle cx="206.3" cy="496.8" r="0.54" fill="#9cc2e6" opacity="0.54"/><circle cx="196.4" cy="491.4" r="0.78" fill="#4a86c6" opacity="0.63"/><circle cx="93.0" cy="433.6" r="0.62" fill="#8cb8e2" opacity="0.59"/><circle cx="86.8" cy="424.6" r="0.58" fill="#4a86c6" opacity="0.85"/><circle cx="192.5" cy="487.2" r="0.48" fill="#4a86c6" opacity="0.68"/><circle cx="79.9" cy="425.2" r="0.53" fill="#9cc2e6" opacity="0.61"/><circle cx="127.2" cy="446.2" r="0.53" fill="#4a86c6" opacity="0.62"/><circle cx="231.5" cy="504.5" r="0.66" fill="#4a86c6" opacity="0.69"/><circle cx="135.6" cy="451.2" r="0.65" fill="#9cc2e6" opacity="0.41"/><circle cx="188.4" cy="484.1" r="0.80" fill="#3574bb" opacity="0.47"/><circle cx="111.9" cy="439.6" r="0.75" fill="#3574bb" opacity="0.60"/><circle cx="63.2" cy="418.4" r="0.77" fill="#9cc2e6" opacity="0.74"/><circle cx="254.8" cy="511.1" r="0.63" fill="#7aaade" opacity="0.50"/><circle cx="205.3" cy="493.4" r="0.47" fill="#7aaade" opacity="0.82"/><circle cx="129.0" cy="451.1" r="0.65" fill="#6aa0d6" opacity="0.77"/><circle cx="180.8" cy="479.3" r="0.65" fill="#6aa0d6" opacity="0.89"/><circle cx="144.6" cy="460.3" r="0.49" fill="#8cb8e2" opacity="0.35"/><circle cx="142.0" cy="455.5" r="0.79" fill="#6aa0d6" opacity="0.88"/><circle cx="104.7" cy="437.9" r="0.78" fill="#8cb8e2" opacity="0.49"/><circle cx="147.2" cy="461.1" r="0.68" fill="#3574bb" opacity="0.55"/><circle cx="177.2" cy="473.6" r="0.51" fill="#6aa0d6" opacity="0.57"/><circle cx="83.7" cy="430.2" r="0.67" fill="#9cc2e6" opacity="0.87"/><circle cx="164.8" cy="468.0" r="0.69" fill="#8cb8e2" opacity="0.56"/><circle cx="237.8" cy="507.3" r="0.45" fill="#8cb8e2" opacity="0.37"/><circle cx="217.4" cy="500.6" r="0.49" fill="#6aa0d6" opacity="0.56"/><circle cx="198.8" cy="489.1" r="0.56" fill="#9cc2e6" opacity="0.38"/><circle cx="159.3" cy="466.4" r="0.78" fill="#4a86c6" opacity="0.58"/><circle cx="103.7" cy="433.2" r="0.60" fill="#8cb8e2" opacity="0.39"/><circle cx="220.0" cy="504.4" r="0.46" fill="#9cc2e6" opacity="0.90"/><circle cx="237.2" cy="509.4" r="0.51" fill="#4a86c6" opacity="0.88"/><circle cx="136.4" cy="456.4" r="0.62" fill="#6aa0d6" opacity="0.62"/><circle cx="86.7" cy="429.1" r="0.74" fill="#7aaade" opacity="0.77"/><circle cx="125.7" cy="433.1" r="0.65" fill="#9cc2e6" opacity="0.56"/><circle cx="196.0" cy="488.4" r="0.48" fill="#4a86c6" opacity="0.62"/><circle cx="247.8" cy="510.2" r="0.62" fill="#6aa0d6" opacity="0.84"/><circle cx="60.5" cy="411.6" r="0.59" fill="#9cc2e6" opacity="0.56"/><circle cx="66.9" cy="415.1" r="0.80" fill="#3574bb" opacity="0.37"/><circle cx="85.9" cy="431.2" r="0.72" fill="#4a86c6" opacity="0.67"/><circle cx="225.8" cy="505.2" r="0.58" fill="#4a86c6" opacity="0.81"/><circle cx="228.6" cy="504.5" r="0.71" fill="#8cb8e2" opacity="0.36"/><circle cx="164.1" cy="470.2" r="0.68" fill="#3574bb" opacity="0.52"/><circle cx="116.3" cy="438.5" r="0.47" fill="#9cc2e6" opacity="0.51"/><circle cx="235.3" cy="507.6" r="0.67" fill="#3574bb" opacity="0.76"/><circle cx="156.9" cy="465.5" r="0.46" fill="#3574bb" opacity="0.43"/><circle cx="189.3" cy="484.4" r="0.72" fill="#6aa0d6" opacity="0.40"/><circle cx="230.0" cy="503.5" r="0.67" fill="#7aaade" opacity="0.88"/><circle cx="103.7" cy="441.3" r="0.67" fill="#4a86c6" opacity="0.50"/><circle cx="222.9" cy="503.0" r="0.53" fill="#7aaade" opacity="0.67"/><circle cx="86.7" cy="432.6" r="0.59" fill="#9cc2e6" opacity="0.46"/><circle cx="64.6" cy="407.7" r="0.47" fill="#6aa0d6" opacity="0.86"/><circle cx="167.3" cy="469.8" r="0.62" fill="#8cb8e2" opacity="0.40"/><circle cx="89.8" cy="428.7" r="0.54" fill="#3574bb" opacity="0.48"/><circle cx="157.9" cy="462.4" r="0.58" fill="#6aa0d6" opacity="0.35"/><circle cx="167.0" cy="470.0" r="0.56" fill="#8cb8e2" opacity="0.42"/><circle cx="65.4" cy="417.6" r="0.68" fill="#8cb8e2" opacity="0.52"/><circle cx="84.6" cy="422.5" r="0.58" fill="#4a86c6" opacity="0.38"/><circle cx="105.5" cy="438.1" r="0.65" fill="#6aa0d6" opacity="0.75"/><circle cx="165.9" cy="468.4" r="0.76" fill="#9cc2e6" opacity="0.38"/><circle cx="142.9" cy="456.7" r="0.72" fill="#9cc2e6" opacity="0.71"/><circle cx="147.8" cy="458.3" r="0.50" fill="#4a86c6" opacity="0.52"/><circle cx="231.0" cy="505.5" r="0.55" fill="#9cc2e6" opacity="0.41"/><circle cx="93.3" cy="432.3" r="0.51" fill="#8cb8e2" opacity="0.61"/><circle cx="64.3" cy="417.7" r="0.71" fill="#6aa0d6" opacity="0.56"/><circle cx="79.7" cy="423.4" r="0.68" fill="#9cc2e6" opacity="0.44"/><circle cx="132.4" cy="451.7" r="0.67" fill="#6aa0d6" opacity="0.59"/><circle cx="78.4" cy="426.2" r="0.59" fill="#9cc2e6" opacity="0.47"/><circle cx="76.9" cy="416.2" r="0.69" fill="#7aaade" opacity="0.58"/><circle cx="143.7" cy="456.0" r="0.64" fill="#7aaade" opacity="0.48"/><circle cx="123.9" cy="447.9" r="0.76" fill="#3574bb" opacity="0.61"/><circle cx="150.2" cy="462.2" r="0.56" fill="#6aa0d6" opacity="0.44"/><circle cx="234.9" cy="506.5" r="0.71" fill="#3574bb" opacity="0.75"/><circle cx="204.2" cy="495.1" r="0.46" fill="#6aa0d6" opacity="0.42"/><circle cx="124.2" cy="445.5" r="0.78" fill="#6aa0d6" opacity="0.85"/><circle cx="60.2" cy="413.6" r="0.45" fill="#7aaade" opacity="0.46"/><circle cx="243.4" cy="509.2" r="0.48" fill="#3574bb" opacity="0.75"/><circle cx="141.7" cy="454.9" r="0.71" fill="#3574bb" opacity="0.88"/><circle cx="150.1" cy="460.4" r="0.52" fill="#8cb8e2" opacity="0.58"/><circle cx="227.1" cy="504.7" r="0.46" fill="#6aa0d6" opacity="0.56"/><circle cx="200.8" cy="492.5" r="0.45" fill="#6aa0d6" opacity="0.63"/><circle cx="130.1" cy="448.6" r="0.75" fill="#7aaade" opacity="0.49"/><circle cx="127.5" cy="445.6" r="0.64" fill="#3574bb" opacity="0.87"/><circle cx="120.5" cy="443.6" r="0.53" fill="#8cb8e2" opacity="0.51"/><circle cx="182.5" cy="480.1" r="0.78" fill="#9cc2e6" opacity="0.59"/><circle cx="106.2" cy="436.9" r="0.62" fill="#3574bb" opacity="0.46"/><circle cx="113.4" cy="439.2" r="0.51" fill="#9cc2e6" opacity="0.55"/><circle cx="102.8" cy="431.4" r="0.65" fill="#6aa0d6" opacity="0.80"/><circle cx="208.5" cy="496.4" r="0.50" fill="#4a86c6" opacity="0.38"/><circle cx="196.3" cy="490.1" r="0.47" fill="#6aa0d6" opacity="0.72"/><circle cx="107.7" cy="435.1" r="0.54" fill="#8cb8e2" opacity="0.42"/><circle cx="107.1" cy="438.6" r="0.50" fill="#6aa0d6" opacity="0.72"/><circle cx="91.1" cy="432.5" r="0.58" fill="#4a86c6" opacity="0.80"/><circle cx="207.5" cy="495.3" r="0.48" fill="#4a86c6" opacity="0.43"/><circle cx="70.0" cy="417.9" r="0.59" fill="#9cc2e6" opacity="0.68"/><circle cx="236.3" cy="508.0" r="0.75" fill="#3574bb" opacity="0.51"/><circle cx="185.9" cy="482.4" r="0.47" fill="#7aaade" opacity="0.82"/><circle cx="191.2" cy="486.0" r="0.69" fill="#9cc2e6" opacity="0.61"/><circle cx="192.6" cy="487.2" r="0.47" fill="#9cc2e6" opacity="0.57"/><circle cx="254.2" cy="512.1" r="0.63" fill="#6aa0d6" opacity="0.66"/><circle cx="215.4" cy="500.7" r="0.68" fill="#3574bb" opacity="0.56"/><circle cx="138.9" cy="454.5" r="0.68" fill="#4a86c6" opacity="0.83"/><circle cx="207.1" cy="499.3" r="0.61" fill="#9cc2e6" opacity="0.68"/><circle cx="73.1" cy="416.4" r="0.46" fill="#7aaade" opacity="0.61"/><circle cx="254.1" cy="513.2" r="0.50" fill="#6aa0d6" opacity="0.56"/><circle cx="195.3" cy="489.8" r="0.54" fill="#7aaade" opacity="0.71"/><circle cx="192.2" cy="484.8" r="0.68" fill="#7aaade" opacity="0.36"/><circle cx="250.7" cy="510.3" r="0.77" fill="#6aa0d6" opacity="0.90"/><circle cx="119.9" cy="449.0" r="0.53" fill="#7aaade" opacity="0.55"/><circle cx="245.9" cy="510.8" r="0.55" fill="#3574bb" opacity="0.62"/><circle cx="105.2" cy="437.5" r="0.66" fill="#4a86c6" opacity="0.71"/><circle cx="66.4" cy="411.6" r="0.47" fill="#7aaade" opacity="0.38"/><circle cx="231.3" cy="506.5" r="0.71" fill="#4a86c6" opacity="0.84"/><circle cx="199.7" cy="492.7" r="0.60" fill="#9cc2e6" opacity="0.41"/><circle cx="204.3" cy="494.2" r="0.65" fill="#9cc2e6" opacity="0.48"/><circle cx="92.8" cy="431.4" r="0.77" fill="#8cb8e2" opacity="0.57"/><circle cx="212.8" cy="500.1" r="0.52" fill="#9cc2e6" opacity="0.76"/><circle cx="102.8" cy="442.2" r="0.60" fill="#7aaade" opacity="0.42"/><circle cx="239.2" cy="507.7" r="0.68" fill="#4a86c6" opacity="0.78"/><circle cx="64.2" cy="411.4" r="0.57" fill="#6aa0d6" opacity="0.44"/><circle cx="70.4" cy="411.8" r="0.45" fill="#6aa0d6" opacity="0.54"/><circle cx="233.5" cy="506.8" r="0.68" fill="#9cc2e6" opacity="0.45"/><circle cx="106.8" cy="442.1" r="0.56" fill="#9cc2e6" opacity="0.70"/><circle cx="123.6" cy="446.5" r="0.59" fill="#4a86c6" opacity="0.75"/><circle cx="88.0" cy="427.0" r="0.50" fill="#7aaade" opacity="0.69"/><circle cx="169.7" cy="472.6" r="0.74" fill="#6aa0d6" opacity="0.64"/><circle cx="64.4" cy="411.5" r="0.76" fill="#3574bb" opacity="0.37"/><circle cx="241.3" cy="508.9" r="0.62" fill="#8cb8e2" opacity="0.72"/><circle cx="200.8" cy="494.2" r="0.67" fill="#7aaade" opacity="0.78"/><circle cx="203.2" cy="494.3" r="0.72" fill="#9cc2e6" opacity="0.74"/><circle cx="73.5" cy="420.6" r="0.69" fill="#9cc2e6" opacity="0.87"/><circle cx="176.6" cy="477.1" r="0.73" fill="#8cb8e2" opacity="0.69"/><circle cx="177.4" cy="477.1" r="0.49" fill="#9cc2e6" opacity="0.88"/><circle cx="126.4" cy="448.0" r="0.67" fill="#9cc2e6" opacity="0.39"/><circle cx="124.5" cy="443.2" r="0.68" fill="#9cc2e6" opacity="0.68"/><circle cx="168.7" cy="470.5" r="0.76" fill="#6aa0d6" opacity="0.83"/><circle cx="64.9" cy="415.0" r="0.57" fill="#8cb8e2" opacity="0.43"/><circle cx="223.3" cy="503.0" r="0.76" fill="#7aaade" opacity="0.74"/><circle cx="125.1" cy="449.6" r="0.52" fill="#6aa0d6" opacity="0.35"/><circle cx="127.2" cy="450.2" r="0.77" fill="#4a86c6" opacity="0.75"/><circle cx="87.5" cy="428.9" r="0.52" fill="#6aa0d6" opacity="0.43"/><circle cx="214.5" cy="498.7" r="0.68" fill="#4a86c6" opacity="0.67"/><circle cx="181.3" cy="478.6" r="0.61" fill="#9cc2e6" opacity="0.57"/><circle cx="86.1" cy="428.2" r="0.62" fill="#8cb8e2" opacity="0.80"/><circle cx="76.2" cy="427.0" r="0.54" fill="#6aa0d6" opacity="0.59"/><circle cx="173.1" cy="476.3" r="0.50" fill="#3574bb" opacity="0.73"/><circle cx="181.5" cy="476.6" r="0.73" fill="#6aa0d6" opacity="0.55"/><circle cx="76.0" cy="425.9" r="0.55" fill="#7aaade" opacity="0.57"/><circle cx="109.5" cy="440.5" r="0.70" fill="#4a86c6" opacity="0.48"/><circle cx="107.7" cy="436.7" r="0.53" fill="#9cc2e6" opacity="0.36"/><circle cx="241.8" cy="508.5" r="0.73" fill="#6aa0d6" opacity="0.45"/><circle cx="227.6" cy="502.8" r="0.69" fill="#9cc2e6" opacity="0.82"/><circle cx="96.4" cy="436.1" r="0.78" fill="#8cb8e2" opacity="0.43"/><circle cx="160.2" cy="467.0" r="0.65" fill="#6aa0d6" opacity="0.87"/><circle cx="174.5" cy="474.5" r="0.77" fill="#3574bb" opacity="0.38"/><circle cx="127.5" cy="453.0" r="0.61" fill="#4a86c6" opacity="0.60"/><circle cx="132.0" cy="453.1" r="0.48" fill="#9cc2e6" opacity="0.88"/><circle cx="131.0" cy="448.3" r="0.46" fill="#7aaade" opacity="0.75"/><circle cx="88.9" cy="427.4" r="0.69" fill="#3574bb" opacity="0.80"/><circle cx="180.7" cy="478.2" r="0.52" fill="#4a86c6" opacity="0.49"/><circle cx="195.2" cy="487.6" r="0.57" fill="#6aa0d6" opacity="0.83"/><circle cx="217.6" cy="497.2" r="0.58" fill="#3574bb" opacity="0.84"/><circle cx="167.4" cy="471.9" r="0.53" fill="#7aaade" opacity="0.42"/><circle cx="225.1" cy="504.3" r="0.80" fill="#3574bb" opacity="0.56"/><circle cx="113.8" cy="439.6" r="0.51" fill="#4a86c6" opacity="0.73"/><circle cx="221.0" cy="500.7" r="0.45" fill="#4a86c6" opacity="0.62"/><circle cx="237.1" cy="506.8" r="0.69" fill="#9cc2e6" opacity="0.52"/><circle cx="174.6" cy="474.2" r="0.50" fill="#8cb8e2" opacity="0.50"/><circle cx="237.7" cy="508.1" r="0.56" fill="#4a86c6" opacity="0.59"/><circle cx="233.5" cy="506.6" r="0.58" fill="#8cb8e2" opacity="0.67"/><circle cx="72.9" cy="422.6" r="0.79" fill="#7aaade" opacity="0.72"/><circle cx="175.5" cy="476.4" r="0.67" fill="#4a86c6" opacity="0.87"/><circle cx="238.2" cy="509.2" r="0.47" fill="#9cc2e6" opacity="0.50"/><circle cx="192.4" cy="484.7" r="0.51" fill="#8cb8e2" opacity="0.56"/><circle cx="108.5" cy="435.7" r="0.60" fill="#7aaade" opacity="0.82"/><circle cx="124.8" cy="448.4" r="0.61" fill="#4a86c6" opacity="0.80"/><circle cx="255.2" cy="513.3" r="0.70" fill="#4a86c6" opacity="0.36"/><circle cx="62.4" cy="412.5" r="0.56" fill="#7aaade" opacity="0.83"/><circle cx="167.3" cy="470.2" r="0.48" fill="#8cb8e2" opacity="0.90"/><circle cx="87.0" cy="425.5" r="0.60" fill="#6aa0d6" opacity="0.79"/><circle cx="75.2" cy="421.5" r="0.63" fill="#7aaade" opacity="0.76"/><circle cx="226.3" cy="504.0" r="0.68" fill="#8cb8e2" opacity="0.83"/><circle cx="202.3" cy="493.2" r="0.46" fill="#6aa0d6" opacity="0.37"/><circle cx="102.6" cy="438.8" r="0.48" fill="#6aa0d6" opacity="0.55"/><circle cx="108.6" cy="437.8" r="0.79" fill="#4a86c6" opacity="0.88"/><circle cx="100.0" cy="430.3" r="0.54" fill="#8cb8e2" opacity="0.73"/><circle cx="210.0" cy="499.3" r="0.48" fill="#4a86c6" opacity="0.79"/><circle cx="113.2" cy="436.0" r="0.72" fill="#9cc2e6" opacity="0.50"/><circle cx="156.8" cy="462.7" r="0.72" fill="#8cb8e2" opacity="0.52"/><circle cx="250.9" cy="511.0" r="0.62" fill="#4a86c6" opacity="0.58"/><circle cx="235.7" cy="508.7" r="0.61" fill="#7aaade" opacity="0.86"/><circle cx="95.7" cy="433.3" r="0.69" fill="#8cb8e2" opacity="0.54"/><circle cx="198.5" cy="493.3" r="0.54" fill="#6aa0d6" opacity="0.36"/><circle cx="234.1" cy="507.3" r="0.70" fill="#6aa0d6" opacity="0.55"/><circle cx="65.1" cy="414.0" r="0.79" fill="#6aa0d6" opacity="0.54"/><circle cx="207.6" cy="496.3" r="0.47" fill="#7aaade" opacity="0.85"/><circle cx="162.4" cy="467.5" r="0.54" fill="#3574bb" opacity="0.76"/><circle cx="211.3" cy="499.0" r="0.74" fill="#4a86c6" opacity="0.80"/><circle cx="233.1" cy="508.1" r="0.79" fill="#4a86c6" opacity="0.37"/><circle cx="111.2" cy="441.8" r="0.53" fill="#6aa0d6" opacity="0.47"/><circle cx="219.1" cy="502.0" r="0.77" fill="#3574bb" opacity="0.43"/><circle cx="131.9" cy="450.7" r="0.67" fill="#4a86c6" opacity="0.84"/><circle cx="189.9" cy="484.5" r="0.66" fill="#6aa0d6" opacity="0.55"/><circle cx="151.4" cy="463.3" r="0.58" fill="#7aaade" opacity="0.41"/><circle cx="94.8" cy="425.8" r="0.62" fill="#8cb8e2" opacity="0.40"/><circle cx="231.2" cy="504.0" r="0.46" fill="#8cb8e2" opacity="0.71"/><circle cx="248.0" cy="510.1" r="0.55" fill="#7aaade" opacity="0.72"/><circle cx="222.7" cy="504.0" r="0.46" fill="#3574bb" opacity="0.58"/><circle cx="61.7" cy="418.5" r="0.69" fill="#3574bb" opacity="0.48"/><circle cx="139.2" cy="452.2" r="0.57" fill="#6aa0d6" opacity="0.68"/><circle cx="156.4" cy="461.4" r="0.52" fill="#7aaade" opacity="0.75"/><circle cx="123.6" cy="445.5" r="0.69" fill="#7aaade" opacity="0.64"/><circle cx="179.5" cy="477.0" r="0.45" fill="#3574bb" opacity="0.64"/><circle cx="231.1" cy="506.0" r="0.65" fill="#4a86c6" opacity="0.89"/><circle cx="103.5" cy="438.1" r="0.76" fill="#8cb8e2" opacity="0.71"/><circle cx="233.2" cy="505.6" r="0.45" fill="#4a86c6" opacity="0.67"/><circle cx="239.3" cy="507.6" r="0.75" fill="#9cc2e6" opacity="0.38"/><circle cx="160.4" cy="468.5" r="0.48" fill="#9cc2e6" opacity="0.79"/><circle cx="65.5" cy="421.7" r="0.70" fill="#7aaade" opacity="0.79"/><circle cx="219.7" cy="503.2" r="0.58" fill="#4a86c6" opacity="0.86"/><circle cx="95.1" cy="432.3" r="0.71" fill="#7aaade" opacity="0.68"/><circle cx="155.4" cy="462.5" r="0.62" fill="#4a86c6" opacity="0.74"/><circle cx="114.3" cy="441.8" r="0.75" fill="#9cc2e6" opacity="0.78"/><circle cx="175.8" cy="474.6" r="0.54" fill="#8cb8e2" opacity="0.85"/><circle cx="239.1" cy="508.7" r="0.73" fill="#3574bb" opacity="0.81"/><circle cx="181.8" cy="478.9" r="0.67" fill="#8cb8e2" opacity="0.44"/><circle cx="91.5" cy="428.4" r="0.74" fill="#6aa0d6" opacity="0.82"/><circle cx="100.0" cy="438.7" r="0.79" fill="#8cb8e2" opacity="0.40"/><circle cx="63.0" cy="417.0" r="0.64" fill="#4a86c6" opacity="0.89"/><circle cx="134.3" cy="454.5" r="0.61" fill="#4a86c6" opacity="0.47"/><circle cx="145.4" cy="458.4" r="0.79" fill="#8cb8e2" opacity="0.73"/><circle cx="120.8" cy="442.6" r="0.77" fill="#4a86c6" opacity="0.61"/><circle cx="165.0" cy="472.1" r="0.59" fill="#3574bb" opacity="0.74"/><circle cx="98.7" cy="434.0" r="0.59" fill="#9cc2e6" opacity="0.81"/><circle cx="194.0" cy="489.1" r="0.59" fill="#7aaade" opacity="0.44"/><circle cx="125.3" cy="446.6" r="0.55" fill="#6aa0d6" opacity="0.86"/><circle cx="224.6" cy="503.5" r="0.52" fill="#9cc2e6" opacity="0.61"/><circle cx="195.3" cy="488.4" r="0.57" fill="#6aa0d6" opacity="0.47"/><circle cx="128.6" cy="450.8" r="0.79" fill="#3574bb" opacity="0.40"/><circle cx="223.0" cy="502.8" r="0.80" fill="#9cc2e6" opacity="0.57"/><circle cx="180.9" cy="476.6" r="0.61" fill="#3574bb" opacity="0.39"/><circle cx="148.1" cy="459.8" r="0.67" fill="#3574bb" opacity="0.47"/><circle cx="102.6" cy="434.3" r="0.65" fill="#8cb8e2" opacity="0.83"/><circle cx="193.4" cy="486.8" r="0.78" fill="#3574bb" opacity="0.40"/><circle cx="126.5" cy="457.7" r="0.68" fill="#8cb8e2" opacity="0.65"/><circle cx="234.8" cy="507.9" r="0.75" fill="#3574bb" opacity="0.64"/><circle cx="141.1" cy="459.1" r="0.49" fill="#4a86c6" opacity="0.45"/><circle cx="160.5" cy="465.6" r="0.66" fill="#8cb8e2" opacity="0.75"/><circle cx="103.1" cy="434.8" r="0.51" fill="#4a86c6" opacity="0.36"/><circle cx="115.9" cy="448.7" r="0.69" fill="#6aa0d6" opacity="0.53"/><circle cx="225.5" cy="504.8" r="0.53" fill="#8cb8e2" opacity="0.75"/><circle cx="192.6" cy="486.5" r="0.65" fill="#9cc2e6" opacity="0.38"/><circle cx="174.8" cy="474.9" r="0.71" fill="#3574bb" opacity="0.53"/><circle cx="207.5" cy="495.0" r="0.76" fill="#9cc2e6" opacity="0.84"/><circle cx="71.1" cy="422.2" r="0.68" fill="#7aaade" opacity="0.79"/><circle cx="158.6" cy="462.8" r="0.49" fill="#4a86c6" opacity="0.62"/><circle cx="163.2" cy="468.9" r="0.54" fill="#9cc2e6" opacity="0.81"/><circle cx="239.7" cy="507.3" r="0.74" fill="#9cc2e6" opacity="0.73"/><circle cx="210.4" cy="497.7" r="0.80" fill="#7aaade" opacity="0.86"/><circle cx="126.5" cy="446.9" r="0.71" fill="#3574bb" opacity="0.56"/><circle cx="142.0" cy="460.1" r="0.76" fill="#9cc2e6" opacity="0.56"/><circle cx="220.8" cy="502.4" r="0.70" fill="#7aaade" opacity="0.59"/><circle cx="105.9" cy="438.0" r="0.51" fill="#6aa0d6" opacity="0.36"/><circle cx="191.5" cy="486.2" r="0.57" fill="#4a86c6" opacity="0.49"/><circle cx="129.7" cy="450.7" r="0.45" fill="#7aaade" opacity="0.52"/><circle cx="67.3" cy="413.4" r="0.49" fill="#9cc2e6" opacity="0.71"/><circle cx="195.8" cy="490.9" r="0.52" fill="#4a86c6" opacity="0.50"/><circle cx="171.8" cy="473.6" r="0.62" fill="#7aaade" opacity="0.53"/><circle cx="238.5" cy="507.6" r="0.47" fill="#4a86c6" opacity="0.50"/><circle cx="64.3" cy="414.2" r="0.54" fill="#8cb8e2" opacity="0.41"/><circle cx="254.1" cy="512.5" r="0.45" fill="#7aaade" opacity="0.69"/><circle cx="234.7" cy="506.8" r="0.65" fill="#8cb8e2" opacity="0.38"/><circle cx="80.6" cy="420.8" r="0.45" fill="#9cc2e6" opacity="0.85"/><circle cx="204.6" cy="495.8" r="0.66" fill="#9cc2e6" opacity="0.71"/><circle cx="98.3" cy="433.2" r="0.72" fill="#6aa0d6" opacity="0.35"/><circle cx="115.2" cy="441.3" r="0.76" fill="#9cc2e6" opacity="0.51"/><circle cx="157.1" cy="465.7" r="0.63" fill="#6aa0d6" opacity="0.65"/><circle cx="235.9" cy="507.5" r="0.63" fill="#4a86c6" opacity="0.86"/><circle cx="70.7" cy="423.9" r="0.70" fill="#3574bb" opacity="0.55"/><circle cx="92.0" cy="431.6" r="0.65" fill="#8cb8e2" opacity="0.90"/><circle cx="118.5" cy="445.3" r="0.72" fill="#3574bb" opacity="0.65"/><circle cx="103.1" cy="439.4" r="0.77" fill="#9cc2e6" opacity="0.46"/><circle cx="111.6" cy="435.7" r="0.73" fill="#8cb8e2" opacity="0.61"/><circle cx="125.3" cy="445.2" r="0.68" fill="#3574bb" opacity="0.63"/><circle cx="101.7" cy="437.1" r="0.79" fill="#9cc2e6" opacity="0.66"/><circle cx="232.5" cy="506.4" r="0.45" fill="#8cb8e2" opacity="0.53"/><circle cx="98.7" cy="436.5" r="0.62" fill="#3574bb" opacity="0.50"/><circle cx="206.1" cy="496.0" r="0.50" fill="#3574bb" opacity="0.89"/><circle cx="80.6" cy="423.5" r="0.72" fill="#3574bb" opacity="0.89"/><circle cx="191.4" cy="486.6" r="0.79" fill="#6aa0d6" opacity="0.42"/><circle cx="142.9" cy="455.6" r="0.46" fill="#3574bb" opacity="0.52"/><circle cx="147.5" cy="460.0" r="0.59" fill="#7aaade" opacity="0.79"/><circle cx="125.6" cy="443.7" r="0.68" fill="#8cb8e2" opacity="0.88"/><circle cx="226.6" cy="505.4" r="0.61" fill="#6aa0d6" opacity="0.82"/><circle cx="245.7" cy="509.3" r="0.79" fill="#8cb8e2" opacity="0.83"/><circle cx="107.3" cy="438.2" r="0.54" fill="#9cc2e6" opacity="0.67"/><circle cx="154.8" cy="464.9" r="0.69" fill="#9cc2e6" opacity="0.79"/><circle cx="152.7" cy="460.4" r="0.67" fill="#3574bb" opacity="0.59"/><circle cx="59.1" cy="415.4" r="0.63" fill="#3574bb" opacity="0.81"/><circle cx="182.3" cy="482.3" r="0.55" fill="#8cb8e2" opacity="0.68"/><circle cx="250.9" cy="510.3" r="0.75" fill="#7aaade" opacity="0.68"/><circle cx="184.6" cy="481.8" r="0.72" fill="#3574bb" opacity="0.76"/><circle cx="158.4" cy="468.4" r="0.51" fill="#3574bb" opacity="0.78"/><circle cx="208.0" cy="495.0" r="0.61" fill="#9cc2e6" opacity="0.69"/><circle cx="160.8" cy="469.0" r="0.46" fill="#9cc2e6" opacity="0.87"/><circle cx="184.9" cy="482.2" r="0.78" fill="#4a86c6" opacity="0.82"/><circle cx="169.1" cy="472.6" r="0.76" fill="#6aa0d6" opacity="0.86"/><circle cx="146.8" cy="458.7" r="0.68" fill="#3574bb" opacity="0.42"/><circle cx="157.9" cy="466.7" r="0.74" fill="#7aaade" opacity="0.52"/><circle cx="237.5" cy="508.2" r="0.48" fill="#6aa0d6" opacity="0.66"/><circle cx="133.3" cy="455.4" r="0.67" fill="#8cb8e2" opacity="0.84"/><circle cx="112.0" cy="446.2" r="0.72" fill="#3574bb" opacity="0.46"/><circle cx="230.4" cy="504.8" r="0.62" fill="#9cc2e6" opacity="0.65"/><circle cx="99.0" cy="437.7" r="0.51" fill="#4a86c6" opacity="0.37"/><circle cx="171.0" cy="474.7" r="0.72" fill="#6aa0d6" opacity="0.53"/><circle cx="116.6" cy="444.0" r="0.47" fill="#3574bb" opacity="0.55"/><circle cx="131.1" cy="448.1" r="0.72" fill="#7aaade" opacity="0.81"/><circle cx="174.4" cy="475.2" r="0.56" fill="#7aaade" opacity="0.60"/><circle cx="156.6" cy="465.9" r="0.49" fill="#3574bb" opacity="0.71"/><circle cx="206.0" cy="496.0" r="0.66" fill="#3574bb" opacity="0.76"/><circle cx="184.4" cy="481.2" r="0.46" fill="#4a86c6" opacity="0.86"/><circle cx="210.1" cy="497.9" r="0.54" fill="#4a86c6" opacity="0.57"/><circle cx="163.3" cy="467.7" r="0.72" fill="#4a86c6" opacity="0.43"/><circle cx="114.5" cy="445.4" r="0.69" fill="#9cc2e6" opacity="0.43"/><circle cx="225.1" cy="504.2" r="0.57" fill="#3574bb" opacity="0.66"/><circle cx="77.1" cy="420.1" r="0.63" fill="#8cb8e2" opacity="0.86"/><circle cx="244.5" cy="508.8" r="0.66" fill="#7aaade" opacity="0.52"/><circle cx="235.0" cy="507.9" r="0.66" fill="#9cc2e6" opacity="0.69"/><circle cx="233.0" cy="507.1" r="0.57" fill="#4a86c6" opacity="0.45"/><circle cx="172.3" cy="465.3" r="0.74" fill="#4a86c6" opacity="0.87"/><circle cx="243.1" cy="510.7" r="0.70" fill="#4a86c6" opacity="0.68"/><circle cx="99.3" cy="428.6" r="0.69" fill="#4a86c6" opacity="0.57"/><circle cx="128.9" cy="449.3" r="0.66" fill="#9cc2e6" opacity="0.57"/><circle cx="210.7" cy="497.6" r="0.64" fill="#4a86c6" opacity="0.49"/><circle cx="77.0" cy="415.4" r="0.68" fill="#9cc2e6" opacity="0.57"/><circle cx="225.0" cy="504.2" r="0.52" fill="#3574bb" opacity="0.64"/><circle cx="139.6" cy="456.5" r="0.78" fill="#9cc2e6" opacity="0.69"/><circle cx="69.0" cy="419.5" r="0.66" fill="#3574bb" opacity="0.75"/><circle cx="187.5" cy="485.3" r="0.53" fill="#8cb8e2" opacity="0.49"/><circle cx="153.7" cy="464.1" r="0.70" fill="#8cb8e2" opacity="0.69"/><circle cx="216.2" cy="501.0" r="0.65" fill="#4a86c6" opacity="0.76"/><circle cx="221.1" cy="502.6" r="0.69" fill="#3574bb" opacity="0.43"/><circle cx="125.6" cy="447.9" r="0.63" fill="#8cb8e2" opacity="0.48"/><circle cx="222.5" cy="504.3" r="0.77" fill="#6aa0d6" opacity="0.73"/><circle cx="141.2" cy="467.3" r="0.49" fill="#3574bb" opacity="0.47"/><circle cx="114.5" cy="441.0" r="0.58" fill="#3574bb" opacity="0.90"/><circle cx="94.2" cy="447.0" r="0.69" fill="#4a86c6" opacity="0.47"/><circle cx="75.5" cy="420.8" r="0.68" fill="#9cc2e6" opacity="0.39"/><circle cx="146.3" cy="460.4" r="0.59" fill="#9cc2e6" opacity="0.67"/><circle cx="210.4" cy="496.7" r="0.60" fill="#7aaade" opacity="0.73"/><circle cx="157.8" cy="463.2" r="0.75" fill="#8cb8e2" opacity="0.38"/><circle cx="113.6" cy="439.6" r="0.48" fill="#6aa0d6" opacity="0.78"/><circle cx="64.7" cy="410.6" r="0.78" fill="#3574bb" opacity="0.57"/><circle cx="222.4" cy="504.6" r="0.52" fill="#3574bb" opacity="0.65"/><circle cx="215.7" cy="500.7" r="0.57" fill="#8cb8e2" opacity="0.70"/><circle cx="231.3" cy="506.3" r="0.67" fill="#7aaade" opacity="0.50"/><circle cx="207.2" cy="496.9" r="0.78" fill="#4a86c6" opacity="0.48"/><circle cx="72.1" cy="407.0" r="0.76" fill="#4a86c6" opacity="0.51"/><circle cx="255.9" cy="512.3" r="0.78" fill="#7aaade" opacity="0.51"/><circle cx="95.7" cy="433.1" r="0.54" fill="#7aaade" opacity="0.36"/><circle cx="222.7" cy="503.5" r="0.52" fill="#3574bb" opacity="0.41"/><circle cx="128.3" cy="450.1" r="0.57" fill="#6aa0d6" opacity="0.56"/><circle cx="86.6" cy="434.0" r="0.57" fill="#6aa0d6" opacity="0.48"/><circle cx="136.2" cy="450.2" r="0.51" fill="#8cb8e2" opacity="0.46"/><circle cx="138.5" cy="454.7" r="0.48" fill="#3574bb" opacity="0.36"/><circle cx="67.9" cy="416.5" r="0.62" fill="#8cb8e2" opacity="0.58"/><circle cx="185.7" cy="481.0" r="0.65" fill="#3574bb" opacity="0.49"/><circle cx="213.8" cy="498.8" r="0.45" fill="#6aa0d6" opacity="0.88"/><circle cx="192.5" cy="487.6" r="0.67" fill="#4a86c6" opacity="0.86"/><circle cx="160.0" cy="465.3" r="0.80" fill="#8cb8e2" opacity="0.50"/><circle cx="234.1" cy="506.7" r="0.53" fill="#8cb8e2" opacity="0.79"/><circle cx="97.4" cy="431.8" r="0.57" fill="#3574bb" opacity="0.64"/><circle cx="121.7" cy="445.4" r="0.62" fill="#3574bb" opacity="0.68"/><circle cx="89.4" cy="426.2" r="0.74" fill="#4a86c6" opacity="0.66"/><circle cx="147.6" cy="459.5" r="0.76" fill="#6aa0d6" opacity="0.51"/><circle cx="241.1" cy="507.1" r="0.74" fill="#9cc2e6" opacity="0.50"/><circle cx="236.9" cy="506.5" r="0.64" fill="#3574bb" opacity="0.77"/><circle cx="158.2" cy="463.5" r="0.77" fill="#3574bb" opacity="0.37"/><circle cx="64.5" cy="419.6" r="0.78" fill="#7aaade" opacity="0.80"/><circle cx="225.5" cy="504.3" r="0.49" fill="#7aaade" opacity="0.60"/><circle cx="139.9" cy="452.5" r="0.58" fill="#7aaade" opacity="0.47"/><circle cx="94.2" cy="433.3" r="0.57" fill="#4a86c6" opacity="0.49"/><circle cx="231.4" cy="506.9" r="0.61" fill="#3574bb" opacity="0.69"/><circle cx="116.9" cy="439.0" r="0.55" fill="#7aaade" opacity="0.73"/><circle cx="142.2" cy="455.5" r="0.59" fill="#3574bb" opacity="0.48"/><circle cx="187.0" cy="482.5" r="0.50" fill="#9cc2e6" opacity="0.82"/><circle cx="176.4" cy="474.8" r="0.49" fill="#6aa0d6" opacity="0.83"/><circle cx="237.8" cy="509.6" r="0.52" fill="#7aaade" opacity="0.55"/><circle cx="194.0" cy="488.1" r="0.55" fill="#8cb8e2" opacity="0.45"/><circle cx="237.8" cy="508.4" r="0.60" fill="#8cb8e2" opacity="0.64"/><circle cx="67.1" cy="411.3" r="0.56" fill="#4a86c6" opacity="0.37"/><circle cx="98.4" cy="435.6" r="0.75" fill="#8cb8e2" opacity="0.83"/><circle cx="175.4" cy="473.9" r="0.74" fill="#8cb8e2" opacity="0.39"/><circle cx="64.1" cy="413.7" r="0.54" fill="#8cb8e2" opacity="0.85"/><circle cx="106.2" cy="443.1" r="0.48" fill="#4a86c6" opacity="0.46"/><circle cx="103.7" cy="437.6" r="0.66" fill="#7aaade" opacity="0.79"/><circle cx="202.8" cy="492.8" r="0.67" fill="#9cc2e6" opacity="0.82"/><circle cx="159.0" cy="464.2" r="0.65" fill="#8cb8e2" opacity="0.57"/><circle cx="241.6" cy="508.3" r="0.66" fill="#3574bb" opacity="0.78"/><circle cx="194.9" cy="488.8" r="0.51" fill="#4a86c6" opacity="0.67"/><circle cx="158.5" cy="466.8" r="0.58" fill="#4a86c6" opacity="0.67"/><circle cx="169.8" cy="471.5" r="0.49" fill="#9cc2e6" opacity="0.52"/><circle cx="160.6" cy="467.5" r="0.74" fill="#8cb8e2" opacity="0.45"/><circle cx="68.2" cy="412.5" r="0.59" fill="#8cb8e2" opacity="0.63"/><circle cx="216.5" cy="499.5" r="0.60" fill="#9cc2e6" opacity="0.38"/><circle cx="234.5" cy="507.2" r="0.46" fill="#3574bb" opacity="0.85"/><circle cx="73.1" cy="423.3" r="0.51" fill="#6aa0d6" opacity="0.48"/><circle cx="193.2" cy="487.1" r="0.64" fill="#7aaade" opacity="0.67"/><circle cx="220.8" cy="502.7" r="0.49" fill="#6aa0d6" opacity="0.51"/><circle cx="94.3" cy="431.4" r="0.63" fill="#6aa0d6" opacity="0.48"/><circle cx="138.3" cy="453.3" r="0.55" fill="#8cb8e2" opacity="0.66"/><circle cx="114.3" cy="439.3" r="0.51" fill="#3574bb" opacity="0.68"/><circle cx="89.6" cy="423.2" r="0.62" fill="#8cb8e2" opacity="0.45"/><circle cx="222.0" cy="503.2" r="0.67" fill="#9cc2e6" opacity="0.55"/><circle cx="124.3" cy="448.1" r="0.64" fill="#4a86c6" opacity="0.50"/><circle cx="164.3" cy="467.7" r="0.49" fill="#9cc2e6" opacity="0.61"/><circle cx="233.6" cy="507.5" r="0.54" fill="#9cc2e6" opacity="0.42"/><circle cx="136.3" cy="454.3" r="0.68" fill="#9cc2e6" opacity="0.51"/><circle cx="139.4" cy="454.7" r="0.60" fill="#3574bb" opacity="0.61"/><circle cx="116.7" cy="441.9" r="0.62" fill="#7aaade" opacity="0.89"/><circle cx="83.5" cy="425.4" r="0.64" fill="#9cc2e6" opacity="0.64"/><circle cx="224.7" cy="506.0" r="0.69" fill="#8cb8e2" opacity="0.67"/><circle cx="171.7" cy="472.8" r="0.56" fill="#6aa0d6" opacity="0.83"/><circle cx="254.2" cy="511.8" r="0.78" fill="#8cb8e2" opacity="0.65"/><circle cx="83.3" cy="430.6" r="0.71" fill="#6aa0d6" opacity="0.75"/><circle cx="118.4" cy="448.0" r="0.78" fill="#6aa0d6" opacity="0.55"/><circle cx="69.1" cy="419.2" r="0.63" fill="#6aa0d6" opacity="0.47"/><circle cx="119.1" cy="444.7" r="0.59" fill="#6aa0d6" opacity="0.78"/><circle cx="205.0" cy="494.1" r="0.53" fill="#8cb8e2" opacity="0.44"/><circle cx="120.0" cy="448.6" r="0.51" fill="#6aa0d6" opacity="0.65"/><circle cx="73.8" cy="420.7" r="0.53" fill="#3574bb" opacity="0.36"/><circle cx="169.5" cy="472.6" r="0.58" fill="#6aa0d6" opacity="0.55"/><circle cx="190.0" cy="485.4" r="0.59" fill="#9cc2e6" opacity="0.65"/><circle cx="180.2" cy="480.2" r="0.76" fill="#9cc2e6" opacity="0.49"/><circle cx="99.4" cy="448.1" r="0.48" fill="#4a86c6" opacity="0.41"/><circle cx="208.4" cy="496.1" r="0.56" fill="#3574bb" opacity="0.39"/><circle cx="198.2" cy="491.0" r="0.45" fill="#7aaade" opacity="0.43"/><circle cx="194.7" cy="486.8" r="0.70" fill="#9cc2e6" opacity="0.73"/><circle cx="78.6" cy="425.6" r="0.75" fill="#7aaade" opacity="0.39"/><circle cx="93.0" cy="428.3" r="0.53" fill="#8cb8e2" opacity="0.58"/><circle cx="161.0" cy="467.7" r="0.50" fill="#9cc2e6" opacity="0.79"/><circle cx="126.2" cy="444.4" r="0.49" fill="#8cb8e2" opacity="0.70"/><circle cx="131.0" cy="447.6" r="0.65" fill="#8cb8e2" opacity="0.61"/><circle cx="204.4" cy="496.1" r="0.72" fill="#3574bb" opacity="0.68"/><circle cx="158.7" cy="466.1" r="0.49" fill="#6aa0d6" opacity="0.86"/><circle cx="192.6" cy="487.0" r="0.79" fill="#6aa0d6" opacity="0.87"/><circle cx="202.6" cy="493.7" r="0.80" fill="#6aa0d6" opacity="0.56"/><circle cx="114.4" cy="442.5" r="0.72" fill="#3574bb" opacity="0.83"/><circle cx="165.7" cy="470.8" r="0.65" fill="#6aa0d6" opacity="0.74"/><circle cx="226.7" cy="504.3" r="0.65" fill="#7aaade" opacity="0.49"/><circle cx="166.3" cy="471.8" r="0.52" fill="#7aaade" opacity="0.62"/><circle cx="76.9" cy="422.0" r="0.76" fill="#6aa0d6" opacity="0.70"/><circle cx="251.2" cy="511.3" r="0.47" fill="#7aaade" opacity="0.82"/><circle cx="121.3" cy="443.7" r="0.77" fill="#4a86c6" opacity="0.72"/><circle cx="105.8" cy="436.3" r="0.47" fill="#8cb8e2" opacity="0.76"/><circle cx="243.3" cy="509.7" r="0.57" fill="#7aaade" opacity="0.36"/><circle cx="239.2" cy="508.8" r="0.54" fill="#7aaade" opacity="0.54"/><circle cx="72.0" cy="420.4" r="0.48" fill="#7aaade" opacity="0.39"/><circle cx="194.2" cy="488.6" r="0.64" fill="#7aaade" opacity="0.53"/><circle cx="185.7" cy="480.3" r="0.62" fill="#9cc2e6" opacity="0.37"/><circle cx="112.2" cy="443.0" r="0.55" fill="#4a86c6" opacity="0.67"/><circle cx="169.7" cy="474.4" r="0.46" fill="#9cc2e6" opacity="0.87"/><circle cx="66.3" cy="417.5" r="0.57" fill="#9cc2e6" opacity="0.87"/><circle cx="166.8" cy="471.7" r="0.74" fill="#3574bb" opacity="0.61"/><circle cx="87.3" cy="423.6" r="0.65" fill="#9cc2e6" opacity="0.85"/><circle cx="139.9" cy="454.7" r="0.45" fill="#3574bb" opacity="0.56"/><circle cx="138.6" cy="453.4" r="0.75" fill="#7aaade" opacity="0.41"/><circle cx="168.1" cy="472.3" r="0.54" fill="#3574bb" opacity="0.49"/><circle cx="193.1" cy="486.9" r="0.75" fill="#8cb8e2" opacity="0.70"/><circle cx="133.2" cy="449.0" r="0.69" fill="#8cb8e2" opacity="0.88"/><circle cx="171.2" cy="473.9" r="0.73" fill="#7aaade" opacity="0.74"/><circle cx="190.0" cy="482.5" r="0.57" fill="#8cb8e2" opacity="0.75"/><circle cx="217.6" cy="500.6" r="0.64" fill="#6aa0d6" opacity="0.78"/><circle cx="107.6" cy="439.9" r="0.47" fill="#3574bb" opacity="0.51"/><circle cx="182.5" cy="482.7" r="0.74" fill="#6aa0d6" opacity="0.81"/><circle cx="225.1" cy="504.5" r="0.72" fill="#8cb8e2" opacity="0.77"/><circle cx="151.0" cy="464.6" r="0.51" fill="#3574bb" opacity="0.79"/><circle cx="104.3" cy="433.4" r="0.56" fill="#4a86c6" opacity="0.87"/><circle cx="92.4" cy="430.6" r="0.71" fill="#9cc2e6" opacity="0.68"/><circle cx="137.3" cy="455.3" r="0.51" fill="#3574bb" opacity="0.64"/><circle cx="147.8" cy="464.1" r="0.74" fill="#9cc2e6" opacity="0.72"/><circle cx="213.2" cy="498.4" r="0.73" fill="#3574bb" opacity="0.52"/><circle cx="237.9" cy="507.5" r="0.79" fill="#9cc2e6" opacity="0.55"/><circle cx="244.5" cy="508.2" r="0.70" fill="#6aa0d6" opacity="0.55"/><circle cx="241.7" cy="508.3" r="0.63" fill="#4a86c6" opacity="0.88"/><circle cx="242.0" cy="509.0" r="0.64" fill="#3574bb" opacity="0.79"/><circle cx="104.4" cy="442.8" r="0.56" fill="#4a86c6" opacity="0.90"/><circle cx="242.3" cy="508.8" r="0.66" fill="#9cc2e6" opacity="0.70"/><circle cx="172.3" cy="476.0" r="0.46" fill="#6aa0d6" opacity="0.62"/><circle cx="64.8" cy="414.6" r="0.48" fill="#8cb8e2" opacity="0.42"/><circle cx="141.8" cy="458.5" r="0.57" fill="#7aaade" opacity="0.40"/><circle cx="247.4" cy="510.0" r="0.59" fill="#6aa0d6" opacity="0.81"/><circle cx="245.5" cy="511.3" r="0.79" fill="#6aa0d6" opacity="0.37"/><circle cx="220.5" cy="502.1" r="0.54" fill="#6aa0d6" opacity="0.69"/><circle cx="141.5" cy="454.0" r="0.64" fill="#9cc2e6" opacity="0.86"/><circle cx="139.6" cy="454.6" r="0.50" fill="#4a86c6" opacity="0.72"/><circle cx="130.9" cy="449.7" r="0.50" fill="#8cb8e2" opacity="0.68"/><circle cx="84.6" cy="425.7" r="0.50" fill="#9cc2e6" opacity="0.83"/><circle cx="168.8" cy="469.6" r="0.62" fill="#3574bb" opacity="0.37"/><circle cx="192.8" cy="486.7" r="0.46" fill="#3574bb" opacity="0.51"/><circle cx="222.0" cy="503.3" r="0.72" fill="#4a86c6" opacity="0.35"/><circle cx="85.1" cy="425.5" r="0.72" fill="#6aa0d6" opacity="0.62"/><circle cx="123.7" cy="449.8" r="0.72" fill="#4a86c6" opacity="0.62"/><circle cx="142.3" cy="455.7" r="0.48" fill="#6aa0d6" opacity="0.55"/><circle cx="229.9" cy="505.8" r="0.52" fill="#8cb8e2" opacity="0.44"/><circle cx="149.7" cy="462.7" r="0.49" fill="#4a86c6" opacity="0.89"/><circle cx="63.7" cy="408.1" r="0.67" fill="#8cb8e2" opacity="0.41"/><circle cx="62.0" cy="414.0" r="0.69" fill="#4a86c6" opacity="0.65"/><circle cx="248.3" cy="509.8" r="0.76" fill="#8cb8e2" opacity="0.85"/><circle cx="192.1" cy="486.3" r="0.76" fill="#6aa0d6" opacity="0.83"/><circle cx="227.5" cy="505.5" r="0.53" fill="#9cc2e6" opacity="0.51"/><circle cx="170.7" cy="475.9" r="0.69" fill="#9cc2e6" opacity="0.63"/><circle cx="248.0" cy="511.1" r="0.66" fill="#4a86c6" opacity="0.60"/><circle cx="214.8" cy="499.2" r="0.58" fill="#6aa0d6" opacity="0.41"/><circle cx="72.0" cy="419.3" r="0.71" fill="#6aa0d6" opacity="0.53"/><circle cx="166.8" cy="469.8" r="0.60" fill="#4a86c6" opacity="0.42"/><circle cx="211.1" cy="498.4" r="0.51" fill="#4a86c6" opacity="0.63"/><circle cx="85.2" cy="430.0" r="0.60" fill="#3574bb" opacity="0.38"/><circle cx="249.1" cy="511.4" r="0.46" fill="#6aa0d6" opacity="0.85"/><circle cx="104.4" cy="438.8" r="0.51" fill="#7aaade" opacity="0.89"/><circle cx="90.4" cy="429.7" r="0.72" fill="#8cb8e2" opacity="0.60"/><circle cx="154.2" cy="464.1" r="0.75" fill="#8cb8e2" opacity="0.57"/><circle cx="229.7" cy="504.1" r="0.49" fill="#4a86c6" opacity="0.51"/><circle cx="123.6" cy="442.1" r="0.46" fill="#3574bb" opacity="0.64"/><circle cx="154.6" cy="464.4" r="0.65" fill="#3574bb" opacity="0.42"/><circle cx="132.7" cy="453.1" r="0.49" fill="#6aa0d6" opacity="0.81"/><circle cx="185.6" cy="482.1" r="0.53" fill="#3574bb" opacity="0.39"/><circle cx="189.4" cy="488.0" r="0.75" fill="#6aa0d6" opacity="0.40"/><circle cx="240.2" cy="508.8" r="0.79" fill="#8cb8e2" opacity="0.67"/><circle cx="169.2" cy="473.3" r="0.59" fill="#7aaade" opacity="0.56"/><circle cx="62.2" cy="413.5" r="0.58" fill="#9cc2e6" opacity="0.85"/><circle cx="127.6" cy="453.7" r="0.60" fill="#4a86c6" opacity="0.46"/><circle cx="127.3" cy="443.7" r="0.48" fill="#4a86c6" opacity="0.69"/><circle cx="60.9" cy="412.9" r="0.57" fill="#4a86c6" opacity="0.72"/><circle cx="191.7" cy="488.8" r="0.48" fill="#4a86c6" opacity="0.85"/><circle cx="59.9" cy="412.9" r="0.62" fill="#8cb8e2" opacity="0.84"/><circle cx="245.0" cy="508.5" r="0.53" fill="#8cb8e2" opacity="0.64"/><circle cx="107.3" cy="444.7" r="0.74" fill="#4a86c6" opacity="0.41"/><circle cx="115.4" cy="442.0" r="0.65" fill="#3574bb" opacity="0.71"/><circle cx="100.4" cy="439.2" r="0.79" fill="#8cb8e2" opacity="0.63"/><circle cx="186.0" cy="482.7" r="0.62" fill="#9cc2e6" opacity="0.51"/><circle cx="172.6" cy="476.1" r="0.79" fill="#8cb8e2" opacity="0.41"/><circle cx="198.7" cy="492.6" r="0.62" fill="#4a86c6" opacity="0.83"/><circle cx="224.5" cy="504.0" r="0.67" fill="#7aaade" opacity="0.53"/><circle cx="114.0" cy="445.8" r="0.74" fill="#9cc2e6" opacity="0.51"/><circle cx="236.1" cy="509.1" r="0.60" fill="#4a86c6" opacity="0.81"/><circle cx="195.1" cy="487.3" r="0.68" fill="#4a86c6" opacity="0.62"/><circle cx="179.7" cy="478.6" r="0.59" fill="#8cb8e2" opacity="0.70"/><circle cx="181.9" cy="477.4" r="0.65" fill="#3574bb" opacity="0.43"/><circle cx="220.7" cy="500.3" r="0.55" fill="#6aa0d6" opacity="0.75"/><circle cx="105.3" cy="437.1" r="0.79" fill="#3574bb" opacity="0.87"/><circle cx="199.7" cy="491.4" r="0.70" fill="#6aa0d6" opacity="0.41"/><circle cx="146.9" cy="461.1" r="0.61" fill="#3574bb" opacity="0.40"/><circle cx="196.0" cy="490.0" r="0.75" fill="#8cb8e2" opacity="0.87"/><circle cx="76.2" cy="422.0" r="0.51" fill="#7aaade" opacity="0.40"/><circle cx="122.6" cy="445.0" r="0.70" fill="#8cb8e2" opacity="0.42"/><circle cx="188.2" cy="482.0" r="0.74" fill="#6aa0d6" opacity="0.66"/><circle cx="247.4" cy="510.0" r="0.64" fill="#4a86c6" opacity="0.47"/><circle cx="247.8" cy="509.6" r="0.79" fill="#8cb8e2" opacity="0.59"/><circle cx="83.7" cy="429.5" r="0.56" fill="#9cc2e6" opacity="0.88"/><circle cx="213.2" cy="496.5" r="0.69" fill="#9cc2e6" opacity="0.47"/><circle cx="70.6" cy="417.9" r="0.68" fill="#9cc2e6" opacity="0.69"/><circle cx="213.5" cy="499.6" r="0.50" fill="#9cc2e6" opacity="0.39"/><circle cx="132.6" cy="453.0" r="0.60" fill="#4a86c6" opacity="0.64"/><circle cx="120.2" cy="444.0" r="0.60" fill="#8cb8e2" opacity="0.56"/><circle cx="102.0" cy="439.0" r="0.57" fill="#8cb8e2" opacity="0.37"/><circle cx="81.6" cy="422.5" r="0.64" fill="#8cb8e2" opacity="0.64"/><circle cx="94.6" cy="431.8" r="0.65" fill="#6aa0d6" opacity="0.63"/><circle cx="123.9" cy="437.8" r="0.64" fill="#6aa0d6" opacity="0.56"/><circle cx="83.9" cy="431.4" r="0.79" fill="#6aa0d6" opacity="0.66"/><circle cx="141.6" cy="451.1" r="0.60" fill="#4a86c6" opacity="0.69"/><circle cx="176.2" cy="476.3" r="0.55" fill="#6aa0d6" opacity="0.55"/><circle cx="165.5" cy="469.3" r="0.54" fill="#9cc2e6" opacity="0.37"/><circle cx="187.7" cy="483.4" r="0.77" fill="#9cc2e6" opacity="0.41"/><circle cx="151.0" cy="460.4" r="0.57" fill="#8cb8e2" opacity="0.62"/><circle cx="65.4" cy="417.3" r="0.69" fill="#9cc2e6" opacity="0.47"/><circle cx="90.7" cy="429.0" r="0.70" fill="#9cc2e6" opacity="0.36"/><circle cx="187.3" cy="482.3" r="0.67" fill="#9cc2e6" opacity="0.69"/><circle cx="255.5" cy="511.3" r="0.57" fill="#6aa0d6" opacity="0.86"/><circle cx="101.4" cy="432.7" r="0.70" fill="#3574bb" opacity="0.71"/><circle cx="102.7" cy="435.3" r="0.58" fill="#4a86c6" opacity="0.89"/><circle cx="187.6" cy="482.9" r="0.70" fill="#9cc2e6" opacity="0.48"/><circle cx="225.4" cy="501.8" r="0.64" fill="#8cb8e2" opacity="0.84"/><circle cx="80.4" cy="423.7" r="0.67" fill="#8cb8e2" opacity="0.59"/><circle cx="242.8" cy="510.0" r="0.48" fill="#7aaade" opacity="0.82"/><circle cx="77.9" cy="420.0" r="0.60" fill="#9cc2e6" opacity="0.37"/><circle cx="132.3" cy="454.1" r="0.51" fill="#7aaade" opacity="0.58"/><circle cx="243.8" cy="510.8" r="0.56" fill="#9cc2e6" opacity="0.71"/><circle cx="216.3" cy="499.7" r="0.74" fill="#8cb8e2" opacity="0.60"/><circle cx="177.3" cy="476.3" r="0.69" fill="#6aa0d6" opacity="0.38"/><circle cx="233.1" cy="506.1" r="0.68" fill="#9cc2e6" opacity="0.43"/><circle cx="236.8" cy="509.3" r="0.45" fill="#4a86c6" opacity="0.56"/><circle cx="158.0" cy="465.4" r="0.48" fill="#7aaade" opacity="0.42"/><circle cx="209.8" cy="496.4" r="0.70" fill="#7aaade" opacity="0.82"/><circle cx="154.4" cy="460.8" r="0.71" fill="#4a86c6" opacity="0.78"/><circle cx="116.6" cy="445.5" r="0.60" fill="#8cb8e2" opacity="0.60"/><circle cx="162.0" cy="468.1" r="0.62" fill="#8cb8e2" opacity="0.40"/><circle cx="135.4" cy="448.0" r="0.77" fill="#4a86c6" opacity="0.82"/><circle cx="157.8" cy="463.2" r="0.60" fill="#4a86c6" opacity="0.53"/><circle cx="219.5" cy="501.4" r="0.52" fill="#7aaade" opacity="0.51"/><circle cx="197.1" cy="490.6" r="0.71" fill="#4a86c6" opacity="0.82"/><circle cx="90.4" cy="431.0" r="0.49" fill="#4a86c6" opacity="0.55"/><circle cx="105.7" cy="435.4" r="0.72" fill="#8cb8e2" opacity="0.48"/><circle cx="73.8" cy="425.5" r="0.65" fill="#3574bb" opacity="0.53"/><circle cx="65.3" cy="416.0" r="0.69" fill="#6aa0d6" opacity="0.83"/><circle cx="160.9" cy="466.5" r="0.48" fill="#6aa0d6" opacity="0.54"/><circle cx="228.6" cy="504.7" r="0.79" fill="#6aa0d6" opacity="0.53"/><circle cx="253.6" cy="511.6" r="0.71" fill="#3574bb" opacity="0.64"/><circle cx="152.5" cy="463.0" r="0.74" fill="#9cc2e6" opacity="0.86"/><circle cx="219.7" cy="500.4" r="0.68" fill="#9cc2e6" opacity="0.40"/><circle cx="233.2" cy="506.9" r="0.66" fill="#4a86c6" opacity="0.79"/><circle cx="160.6" cy="464.0" r="0.52" fill="#4a86c6" opacity="0.69"/><circle cx="244.3" cy="508.3" r="0.74" fill="#6aa0d6" opacity="0.56"/><circle cx="104.8" cy="442.9" r="0.79" fill="#3574bb" opacity="0.59"/><circle cx="86.4" cy="425.5" r="0.61" fill="#9cc2e6" opacity="0.49"/><circle cx="101.2" cy="434.9" r="0.46" fill="#4a86c6" opacity="0.88"/><circle cx="69.2" cy="419.5" r="0.49" fill="#4a86c6" opacity="0.56"/><circle cx="97.9" cy="432.3" r="0.70" fill="#7aaade" opacity="0.87"/><circle cx="89.3" cy="431.2" r="0.67" fill="#7aaade" opacity="0.42"/><circle cx="229.3" cy="506.3" r="0.63" fill="#6aa0d6" opacity="0.83"/><circle cx="93.5" cy="435.7" r="0.79" fill="#3574bb" opacity="0.69"/><circle cx="197.3" cy="489.3" r="0.62" fill="#6aa0d6" opacity="0.52"/><circle cx="64.3" cy="418.8" r="0.56" fill="#4a86c6" opacity="0.47"/><circle cx="179.3" cy="477.6" r="0.50" fill="#4a86c6" opacity="0.37"/><circle cx="109.3" cy="442.5" r="0.57" fill="#9cc2e6" opacity="0.81"/><circle cx="174.7" cy="474.4" r="0.60" fill="#7aaade" opacity="0.83"/><circle cx="150.4" cy="459.2" r="0.74" fill="#6aa0d6" opacity="0.74"/><circle cx="115.3" cy="443.5" r="0.57" fill="#3574bb" opacity="0.77"/><circle cx="135.1" cy="448.8" r="0.47" fill="#4a86c6" opacity="0.43"/><circle cx="70.2" cy="421.4" r="0.65" fill="#9cc2e6" opacity="0.70"/><circle cx="96.8" cy="432.7" r="0.58" fill="#8cb8e2" opacity="0.88"/><circle cx="227.0" cy="505.3" r="0.74" fill="#8cb8e2" opacity="0.38"/><circle cx="247.1" cy="512.3" r="0.66" fill="#3574bb" opacity="0.59"/><circle cx="184.2" cy="478.7" r="0.70" fill="#7aaade" opacity="0.79"/><circle cx="247.3" cy="509.0" r="0.61" fill="#7aaade" opacity="0.79"/><circle cx="92.2" cy="431.7" r="0.47" fill="#4a86c6" opacity="0.54"/><circle cx="196.2" cy="487.7" r="0.78" fill="#9cc2e6" opacity="0.39"/><circle cx="210.5" cy="496.9" r="0.55" fill="#9cc2e6" opacity="0.78"/><circle cx="217.3" cy="500.7" r="0.74" fill="#3574bb" opacity="0.52"/><circle cx="136.9" cy="455.4" r="0.58" fill="#4a86c6" opacity="0.78"/><circle cx="161.2" cy="469.4" r="0.68" fill="#4a86c6" opacity="0.54"/><circle cx="121.6" cy="449.6" r="0.74" fill="#8cb8e2" opacity="0.79"/><circle cx="113.6" cy="441.1" r="0.60" fill="#9cc2e6" opacity="0.38"/><circle cx="71.7" cy="420.5" r="0.68" fill="#9cc2e6" opacity="0.57"/><circle cx="147.1" cy="460.9" r="0.52" fill="#4a86c6" opacity="0.42"/><circle cx="195.0" cy="487.5" r="0.73" fill="#4a86c6" opacity="0.41"/><circle cx="216.0" cy="499.9" r="0.47" fill="#7aaade" opacity="0.47"/><circle cx="138.7" cy="450.9" r="0.70" fill="#3574bb" opacity="0.48"/><circle cx="119.7" cy="444.6" r="0.73" fill="#7aaade" opacity="0.43"/><circle cx="95.9" cy="428.2" r="0.68" fill="#7aaade" opacity="0.89"/><circle cx="212.2" cy="497.7" r="0.71" fill="#7aaade" opacity="0.74"/><circle cx="232.3" cy="506.7" r="0.61" fill="#8cb8e2" opacity="0.87"/><circle cx="95.8" cy="434.0" r="0.71" fill="#7aaade" opacity="0.47"/><circle cx="62.9" cy="419.3" r="0.46" fill="#9cc2e6" opacity="0.51"/><circle cx="197.9" cy="488.8" r="0.56" fill="#3574bb" opacity="0.48"/><circle cx="82.3" cy="425.8" r="0.70" fill="#4a86c6" opacity="0.59"/><circle cx="59.0" cy="414.8" r="0.56" fill="#4a86c6" opacity="0.64"/><circle cx="254.4" cy="512.3" r="0.61" fill="#4a86c6" opacity="0.37"/><circle cx="219.9" cy="502.4" r="0.69" fill="#8cb8e2" opacity="0.72"/><circle cx="235.7" cy="508.8" r="0.64" fill="#8cb8e2" opacity="0.88"/><circle cx="69.1" cy="416.4" r="0.59" fill="#8cb8e2" opacity="0.52"/><circle cx="106.2" cy="434.7" r="0.67" fill="#9cc2e6" opacity="0.39"/><circle cx="102.5" cy="436.9" r="0.55" fill="#7aaade" opacity="0.64"/><circle cx="124.8" cy="450.5" r="0.46" fill="#4a86c6" opacity="0.78"/><circle cx="226.1" cy="505.4" r="0.49" fill="#3574bb" opacity="0.52"/><circle cx="84.5" cy="432.9" r="0.62" fill="#8cb8e2" opacity="0.73"/><circle cx="105.4" cy="436.3" r="0.59" fill="#4a86c6" opacity="0.51"/><circle cx="190.9" cy="486.9" r="0.73" fill="#9cc2e6" opacity="0.43"/><circle cx="100.9" cy="433.6" r="0.62" fill="#4a86c6" opacity="0.55"/><circle cx="105.5" cy="438.7" r="0.46" fill="#4a86c6" opacity="0.41"/><circle cx="98.8" cy="438.4" r="0.51" fill="#9cc2e6" opacity="0.82"/><circle cx="103.5" cy="439.5" r="0.58" fill="#8cb8e2" opacity="0.65"/><circle cx="96.6" cy="433.4" r="0.59" fill="#7aaade" opacity="0.37"/><circle cx="240.8" cy="507.9" r="0.65" fill="#9cc2e6" opacity="0.81"/><circle cx="181.3" cy="479.9" r="0.54" fill="#7aaade" opacity="0.78"/><circle cx="228.1" cy="504.8" r="0.61" fill="#7aaade" opacity="0.40"/><circle cx="95.3" cy="430.9" r="0.54" fill="#3574bb" opacity="0.68"/><circle cx="254.6" cy="512.3" r="0.65" fill="#4a86c6" opacity="0.68"/><circle cx="145.3" cy="450.5" r="0.52" fill="#6aa0d6" opacity="0.48"/><circle cx="71.8" cy="417.4" r="0.65" fill="#3574bb" opacity="0.63"/><circle cx="67.5" cy="416.3" r="0.70" fill="#3574bb" opacity="0.42"/><circle cx="84.4" cy="424.8" r="0.53" fill="#3574bb" opacity="0.59"/><circle cx="96.8" cy="431.4" r="0.54" fill="#6aa0d6" opacity="0.62"/><circle cx="89.6" cy="435.5" r="0.63" fill="#8cb8e2" opacity="0.50"/><circle cx="60.4" cy="410.5" r="0.71" fill="#9cc2e6" opacity="0.60"/><circle cx="153.4" cy="466.1" r="0.56" fill="#7aaade" opacity="0.84"/><circle cx="206.4" cy="495.9" r="0.47" fill="#9cc2e6" opacity="0.45"/><circle cx="131.6" cy="451.8" r="0.75" fill="#3574bb" opacity="0.63"/><circle cx="144.7" cy="455.8" r="0.79" fill="#8cb8e2" opacity="0.46"/><circle cx="212.9" cy="499.5" r="0.63" fill="#3574bb" opacity="0.43"/><circle cx="86.4" cy="427.6" r="0.46" fill="#3574bb" opacity="0.50"/><circle cx="166.2" cy="469.9" r="0.47" fill="#8cb8e2" opacity="0.62"/><circle cx="243.9" cy="509.2" r="0.78" fill="#7aaade" opacity="0.79"/><circle cx="224.4" cy="504.6" r="0.59" fill="#8cb8e2" opacity="0.56"/><circle cx="123.8" cy="446.3" r="0.50" fill="#4a86c6" opacity="0.53"/><circle cx="195.3" cy="490.1" r="0.49" fill="#6aa0d6" opacity="0.76"/><circle cx="206.9" cy="496.1" r="0.55" fill="#8cb8e2" opacity="0.77"/><circle cx="241.2" cy="509.3" r="0.75" fill="#6aa0d6" opacity="0.76"/><circle cx="246.6" cy="510.3" r="0.46" fill="#4a86c6" opacity="0.88"/><circle cx="66.0" cy="413.7" r="0.75" fill="#6aa0d6" opacity="0.62"/><circle cx="232.1" cy="506.4" r="0.77" fill="#8cb8e2" opacity="0.84"/><circle cx="59.6" cy="419.9" r="0.73" fill="#4a86c6" opacity="0.84"/><circle cx="61.4" cy="416.9" r="0.76" fill="#6aa0d6" opacity="0.81"/><circle cx="186.3" cy="484.7" r="0.80" fill="#3574bb" opacity="0.49"/><circle cx="83.0" cy="426.4" r="0.76" fill="#9cc2e6" opacity="0.79"/><circle cx="249.8" cy="510.7" r="0.60" fill="#3574bb" opacity="0.68"/><circle cx="233.7" cy="507.0" r="0.46" fill="#9cc2e6" opacity="0.61"/><circle cx="223.9" cy="502.4" r="0.50" fill="#6aa0d6" opacity="0.49"/><circle cx="121.8" cy="442.7" r="0.47" fill="#8cb8e2" opacity="0.38"/><circle cx="228.9" cy="505.4" r="0.66" fill="#4a86c6" opacity="0.61"/><circle cx="196.5" cy="490.8" r="0.73" fill="#4a86c6" opacity="0.64"/><circle cx="223.2" cy="501.6" r="0.77" fill="#4a86c6" opacity="0.87"/><circle cx="101.6" cy="435.0" r="0.60" fill="#4a86c6" opacity="0.61"/><circle cx="100.0" cy="434.0" r="0.47" fill="#9cc2e6" opacity="0.44"/><circle cx="87.8" cy="428.2" r="0.47" fill="#3574bb" opacity="0.42"/><circle cx="217.5" cy="500.7" r="0.49" fill="#3574bb" opacity="0.59"/><circle cx="218.9" cy="501.7" r="0.66" fill="#4a86c6" opacity="0.80"/><circle cx="103.0" cy="430.6" r="0.70" fill="#7aaade" opacity="0.76"/><circle cx="119.0" cy="447.8" r="0.71" fill="#9cc2e6" opacity="0.37"/><circle cx="95.0" cy="426.7" r="0.61" fill="#3574bb" opacity="0.71"/><circle cx="129.9" cy="450.0" r="0.57" fill="#4a86c6" opacity="0.83"/><circle cx="173.2" cy="472.9" r="0.61" fill="#3574bb" opacity="0.59"/><circle cx="151.3" cy="462.5" r="0.57" fill="#6aa0d6" opacity="0.63"/><circle cx="116.2" cy="442.9" r="0.51" fill="#3574bb" opacity="0.50"/><circle cx="188.1" cy="485.5" r="0.75" fill="#4a86c6" opacity="0.51"/><circle cx="205.2" cy="493.6" r="0.55" fill="#8cb8e2" opacity="0.71"/><circle cx="218.6" cy="501.1" r="0.69" fill="#7aaade" opacity="0.49"/><circle cx="255.6" cy="512.1" r="0.59" fill="#4a86c6" opacity="0.85"/><circle cx="212.2" cy="496.8" r="0.77" fill="#7aaade" opacity="0.87"/><circle cx="182.5" cy="484.8" r="0.77" fill="#7aaade" opacity="0.43"/><circle cx="77.9" cy="424.9" r="0.63" fill="#9cc2e6" opacity="0.78"/><circle cx="217.3" cy="502.6" r="0.77" fill="#7aaade" opacity="0.72"/><circle cx="65.1" cy="417.8" r="0.64" fill="#8cb8e2" opacity="0.68"/><circle cx="200.8" cy="492.1" r="0.54" fill="#7aaade" opacity="0.79"/><circle cx="224.0" cy="503.7" r="0.76" fill="#4a86c6" opacity="0.48"/><circle cx="249.8" cy="510.4" r="0.46" fill="#9cc2e6" opacity="0.50"/><circle cx="203.1" cy="493.6" r="0.51" fill="#8cb8e2" opacity="0.82"/><circle cx="166.5" cy="471.3" r="0.69" fill="#3574bb" opacity="0.68"/><circle cx="157.4" cy="464.0" r="0.77" fill="#3574bb" opacity="0.59"/><circle cx="213.7" cy="499.2" r="0.50" fill="#6aa0d6" opacity="0.83"/><circle cx="59.1" cy="411.6" r="0.46" fill="#7aaade" opacity="0.65"/><circle cx="149.4" cy="458.0" r="0.70" fill="#9cc2e6" opacity="0.61"/><circle cx="206.3" cy="495.5" r="0.80" fill="#8cb8e2" opacity="0.38"/></g>
<polyline points="59,412.5 61,413.4 81.4,425.1 112.9,441.6 144.3,456.6 150,461.1 167.1,470.6 184.3,480.9 201.4,492.9 218.6,501.4 235.7,507.4 254.6,512.1 257,512.6" fill="none" stroke="#2a64a8" stroke-width="1.8" opacity="0.45" filter="url(#blur1)"/>
<polyline points="161.8,526.7 173.6,528.7 185.4,534.2 196.7,536.1 208.5,531.9 220.2,525.1 231.7,515.8 243.5,509.1" fill="none" stroke="#c03a4c" stroke-width="1.3"/>
<line x1="212.5" y1="547.6" x2="320.7" y2="420" stroke="#c03a4c" stroke-width="1.3" stroke-dasharray="4 3"/>
<g fill="#c03a4c">
<rect x="159.5" y="524.4" width="4.6" height="4.6"/>
<rect x="171.3" y="526.4" width="4.6" height="4.6"/>
<rect x="183.1" y="531.9" width="4.6" height="4.6"/>
<rect x="194.4" y="533.8" width="4.6" height="4.6"/>
<rect x="206.2" y="529.6" width="4.6" height="4.6"/>
<rect x="217.9" y="522.8" width="4.6" height="4.6"/>
<rect x="229.4" y="513.5" width="4.6" height="4.6"/>
<rect x="241.2" y="506.8" width="4.6" height="4.6"/>
<rect x="252.7" y="495.7" width="4.6" height="4.6"/>
<rect x="264.3" y="482.2" width="4.6" height="4.6"/>
<rect x="276.0" y="467.6" width="4.6" height="4.6"/>
<rect x="287.7" y="454.3" width="4.6" height="4.6"/>
<rect x="299.3" y="441.0" width="4.6" height="4.6"/>
<rect x="310.9" y="427.7" width="4.6" height="4.6"/>
</g>
<rect x="49" y="386.6" width="275.5" height="180" fill="none" stroke="#222" stroke-width="1.3"/>
<g stroke="#222" stroke-width="1.2">
<line x1="49" y1="535.9" x2="55" y2="535.9"/><line x1="49" y1="496.4" x2="55" y2="496.4"/><line x1="49" y1="456.9" x2="55" y2="456.9"/><line x1="49" y1="417.4" x2="55" y2="417.4"/>
<line x1="103.9" y1="566.6" x2="103.9" y2="560.6"/><line x1="150.3" y1="566.6" x2="150.3" y2="560.6"/><line x1="196.9" y1="566.6" x2="196.9" y2="560.6"/><line x1="243.3" y1="566.6" x2="243.3" y2="560.6"/><line x1="289.9" y1="566.6" x2="289.9" y2="560.6"/>
<line x1="324.5" y1="409.6" x2="318.5" y2="409.6"/><line x1="324.5" y1="458.3" x2="318.5" y2="458.3"/><line x1="324.5" y1="507.1" x2="318.5" y2="507.1"/><line x1="324.5" y1="555.9" x2="318.5" y2="555.9"/>
</g>
<g font-size="10.2" fill="#222" text-anchor="end" stroke="#222" stroke-width="0.25">
<text x="45.5" y="539.5">0</text><text x="45.5" y="500">1</text><text x="45.5" y="460.5">2</text><text x="45.5" y="421">3</text>
</g>
<g font-size="10.2" fill="#222" text-anchor="middle" stroke="#222" stroke-width="0.25">
<text x="103.5" y="578.8">-100</text><text x="150.5" y="578.8">0</text><text x="197" y="578.8">100</text><text x="243.5" y="578.8">200</text><text x="290" y="578.8">300</text>
</g>
<g font-size="10" fill="#222" stroke="#222" stroke-width="0.25">
<text x="328" y="413.2">4.032</text><text x="328" y="462">4.028</text><text x="328" y="510.8">4.024</text><text x="328" y="559.6">4.020</text>
</g>
<text x="148.6" y="590" font-size="10" fill="#222">Temperature (°C)</text>
<text transform="translate(28.8,541.8) rotate(-90)" font-size="10.6" fill="#222" stroke="#222" stroke-width="0.2" textLength="129" lengthAdjust="spacingAndGlyphs">SHG intensity (×10<tspan font-size="6.5" dy="-4">4</tspan><tspan dy="4"> arb. unit)</tspan></text>
<line x1="66" y1="467" x2="113" y2="467" stroke="#3d8fb8" stroke-width="1.3"/>
<path d="M63.5,467 L68,464.8 L68,469.2 Z" fill="#3d8fb8"/>
<text x="77" y="482.5" font-size="9.5" fill="#3d8fb8" stroke="#3d8fb8" stroke-width="0.2">SHG</text>
<line x1="288.3" y1="471.9" x2="309" y2="471.9" stroke="#c03a4c" stroke-width="1.2"/>
<path d="M311.6,471.9 L307.5,469.8 L307.5,474 Z" fill="#c03a4c"/>
<text x="289" y="486.5" font-size="9.5" fill="#c03a4c" stroke="#c03a4c" stroke-width="0.2">XRD</text>
<text x="240.5" y="472.3" font-size="9.5" font-style="italic" font-weight="bold" fill="#111">T<tspan font-size="6.5" dy="1.8">c</tspan></text>
<line x1="244.3" y1="477.4" x2="244.3" y2="501" stroke="#111" stroke-width="1.1" stroke-dasharray="2.5 1.8"/>
<path d="M241.8,500.5 L246.8,500.5 L244.3,505 Z" fill="#111"/>
<!-- schematic insets -->
<clipPath id="clp1"><path d="M85.1,393.6 L129.7,393.6 L133.6,412.4 L89,412.4 Z"/></clipPath>
<g clip-path="url(#clp1)">
<path d="M85.1,393.6 L129.7,393.6 L133.6,412.4 L89,412.4 Z" fill="#f5e6de"/>
<path d="M92.9,403.8 L-2.4,385.8 L40.0,344.2 L95.4,401.0 Z" fill="#2f5fa4" stroke="#28406a" stroke-width="0.5"/>
<path d="M91.3,446.2 L82.6,500.4 L-21.2,403.1 L-2.4,385.8 L92.9,403.8 Z" fill="#2f5fa4" stroke="#28406a" stroke-width="0.5"/>
<path d="M98.1,400.4 L112.0,360.5 L121.9,290.9 L107.4,271.7 L40.0,344.2 L95.4,401.0 Z" fill="#3a6aae" stroke="#28406a" stroke-width="0.5"/>
<path d="M102.7,404.4 L98.1,400.4 L95.4,401.0 L92.9,403.8 L91.3,446.2 Z" fill="#4a7cbe" stroke="#28406a" stroke-width="0.5"/>
<path d="M111.7,388.6 L112.0,360.5 L98.1,400.4 L102.7,404.4 L106.1,403.7 Z" fill="#4576b8" stroke="#28406a" stroke-width="0.5"/>
<path d="M108.9,405.2 L111.7,532.6 L111.3,533.0 L82.6,500.4 L91.3,446.2 L102.7,404.4 L106.1,403.7 Z" fill="#3a6aae" stroke="#28406a" stroke-width="0.5"/>
<path d="M114.0,404.9 L108.9,405.2 L106.1,403.7 L111.7,388.6 L115.6,402.0 Z" fill="#f2e0d8" stroke="#28406a" stroke-width="0.5"/>
<path d="M114.0,404.9 L119.7,416.6 L118.7,524.3 L111.7,532.6 L108.9,405.2 Z" fill="#f2e0d8" stroke="#28406a" stroke-width="0.5"/>
<path d="M115.6,402.0 L123.7,402.3 L148.5,318.9 L121.9,290.9 L112.0,360.5 L111.7,388.6 Z" fill="#cc5a45" stroke="#28406a" stroke-width="0.5"/>
<path d="M114.0,404.9 L119.7,416.6 L124.5,404.7 L123.7,402.3 L115.6,402.0 Z" fill="#ecd2c6" stroke="#28406a" stroke-width="0.5"/>
<path d="M124.5,404.7 L218.4,422.4 L239.1,402.9 L148.5,318.9 L123.7,402.3 Z" fill="#d4664f" stroke="#28406a" stroke-width="0.5"/>
<path d="M118.7,524.3 L218.4,422.4 L124.5,404.7 L119.7,416.6 Z" fill="#cc5a45" stroke="#28406a" stroke-width="0.5"/>
</g>
<path d="M85.1,393.6 L129.7,393.6 L133.6,412.4 L89,412.4 Z" fill="none" stroke="#7d98b5" stroke-width="0.9"/>
<clipPath id="clp2"><path d="M144.3,406.9 L189.7,406.9 L193.1,425.7 L147.7,425.7 Z"/></clipPath>
<g clip-path="url(#clp2)">
<path d="M144.3,406.9 L189.7,406.9 L193.1,425.7 L147.7,425.7 Z" fill="#f0ded6"/>
<path d="M157.7,389.1 L150.4,414.0 L60.6,435.2 L38.6,416.4 L167.0,284.8 L168.0,286.2 L167.8,307.0 Z" fill="#cfdeeb" stroke="#3a3a4a" stroke-width="0.5"/>
<path d="M154.9,416.2 L133.2,506.3 L60.6,435.2 L150.4,414.0 Z" fill="#dbe6f0" stroke="#3a3a4a" stroke-width="0.5"/>
<path d="M157.7,389.1 L150.4,414.0 L154.9,416.2 L159.6,415.9 Z" fill="#3a6aae" stroke="#3a3a4a" stroke-width="0.5"/>
<path d="M162.8,439.7 L155.4,529.7 L133.2,506.3 L154.9,416.2 L159.6,415.9 L161.2,416.7 Z" fill="#c7d8ea" stroke="#3a3a4a" stroke-width="0.5"/>
<path d="M164.7,415.5 L172.8,385.3 L167.8,307.0 L157.7,389.1 L159.6,415.9 L161.2,416.7 Z" fill="#f4e4dc" stroke="#3a3a4a" stroke-width="0.5"/>
<path d="M170.9,417.4 L164.7,415.5 L161.2,416.7 L162.8,439.7 Z" fill="#ead0c2" stroke="#3a3a4a" stroke-width="0.5"/>
<path d="M170.9,417.4 L175.1,416.5 L175.4,415.8 L175.2,397.0 L172.8,385.3 L164.7,415.5 Z" fill="#e9c4b4" stroke="#3a3a4a" stroke-width="0.5"/>
<path d="M170.9,417.4 L175.1,416.5 L184.5,435.3 L207.3,504.2 L170.4,547.8 L155.4,529.7 L162.8,439.7 Z" fill="#ead0c2" stroke="#3a3a4a" stroke-width="0.5"/>
<path d="M185.0,414.1 L186.0,413.3 L175.2,397.0 L175.4,415.8 Z" fill="#e2a08c" stroke="#3a3a4a" stroke-width="0.5"/>
<path d="M184.5,435.3 L175.1,416.5 L175.4,415.8 L185.0,414.1 Z" fill="#ead0c2" stroke="#3a3a4a" stroke-width="0.5"/>
<path d="M167.8,307.0 L168.0,286.2 L280.3,400.8 L186.0,413.3 L175.2,397.0 L172.8,385.3 Z" fill="#d4664f" stroke="#3a3a4a" stroke-width="0.5"/>
<path d="M184.5,435.3 L207.3,504.2 L297.0,416.2 L280.3,400.8 L186.0,413.3 L185.0,414.1 Z" fill="#f0ded6" stroke="#3a3a4a" stroke-width="0.5"/>
</g>
<path d="M144.3,406.9 L189.7,406.9 L193.1,425.7 L147.7,425.7 Z" fill="none" stroke="#7d98b5" stroke-width="0.9"/>
<clipPath id="clp3"><path d="M196.4,429.3 L237,429.3 L244.3,448.6 L200,448.6 Z"/></clipPath>
<g clip-path="url(#clp3)">
<path d="M196.4,429.3 L237,429.3 L244.3,448.6 L200,448.6 Z" fill="#d6e3ee"/>
<path d="M204.3,437.6 L205.0,434.0 L184.8,347.0 L90.9,439.1 L96.2,443.8 L201.9,439.8 Z" fill="#d6e3ee" stroke="#2f3d4d" stroke-width="0.7"/>
<path d="M201.9,439.8 L96.2,443.8 L207.3,551.0 L208.7,505.9 L206.4,448.7 Z" fill="#d6e3ee" stroke="#2f3d4d" stroke-width="0.7"/>
<path d="M204.3,437.6 L205.0,434.0 L214.4,437.3 L214.8,438.0 L209.1,440.7 Z" fill="#efd4c2" stroke="#2f3d4d" stroke-width="0.7"/>
<path d="M204.3,437.6 L209.1,440.7 L206.4,448.7 L201.9,439.8 Z" fill="#d6e3ee" stroke="#2f3d4d" stroke-width="0.7"/>
<path d="M205.0,434.0 L184.8,347.0 L198.6,332.0 L214.4,437.3 Z" fill="#ebcab6" stroke="#2f3d4d" stroke-width="0.7"/>
<path d="M209.1,440.7 L214.8,438.0 L216.1,438.8 L216.4,439.1 L208.7,505.9 L206.4,448.7 Z" fill="#ebcab6" stroke="#2f3d4d" stroke-width="0.7"/>
<path d="M216.1,438.8 L226.6,422.8 L236.3,391.3 L246.4,345.0 L216.7,310.7 L198.6,332.0 L214.4,437.3 L214.8,438.0 Z" fill="#ebcab6" stroke="#2f3d4d" stroke-width="0.7"/>
<path d="M234.0,475.3 L246.1,539.7 L222.2,568.2 L207.3,551.0 L208.7,505.9 L216.4,439.1 L220.5,439.5 Z" fill="#ebcab6" stroke="#2f3d4d" stroke-width="0.7"/>
<path d="M224.4,438.3 L226.6,422.8 L216.1,438.8 L216.4,439.1 L220.5,439.5 Z" fill="#f2dccd" stroke="#2f3d4d" stroke-width="0.7"/>
<path d="M231.5,455.9 L226.2,439.4 L224.4,438.3 L220.5,439.5 L234.0,475.3 Z" fill="#f2dccd" stroke="#2f3d4d" stroke-width="0.7"/>
<path d="M226.2,439.4 L231.9,437.6 L236.3,391.3 L226.6,422.8 L224.4,438.3 Z" fill="#d6e3ee" stroke="#2f3d4d" stroke-width="0.7"/>
<path d="M231.5,455.9 L233.1,438.9 L231.9,437.6 L226.2,439.4 Z" fill="#dde8f1" stroke="#2f3d4d" stroke-width="0.7"/>
<path d="M233.1,438.9 L342.9,441.2 L345.4,438.8 L246.4,345.0 L236.3,391.3 L231.9,437.6 Z" fill="#dde8f1" stroke="#2f3d4d" stroke-width="0.7"/>
<path d="M231.5,455.9 L233.1,438.9 L342.9,441.2 L246.1,539.7 L234.0,475.3 Z" fill="#dde8f1" stroke="#2f3d4d" stroke-width="0.7"/>
</g>
<path d="M196.4,429.3 L237,429.3 L244.3,448.6 L200,448.6 Z" fill="none" stroke="#7d98b5" stroke-width="0.9"/>
<clipPath id="clp4"><path d="M239.3,400.4 L282.9,400.4 L287.9,419.3 L242.9,419.3 Z"/></clipPath>
<g clip-path="url(#clp4)">
<path d="M239.3,400.4 L282.9,400.4 L287.9,419.3 L242.9,419.3 Z" fill="#d6e3ee"/>
<path d="M249.8,407.6 L209.2,336.0 L136.2,409.9 L156.5,428.3 L247.5,410.7 Z" fill="#d6e3ee" stroke="#2f3d4d" stroke-width="0.7"/>
<path d="M255.3,420.1 L256.3,437.1 L248.8,522.1 L156.5,428.3 L247.5,410.7 L254.3,417.3 Z" fill="#dde8f1" stroke="#2f3d4d" stroke-width="0.7"/>
<path d="M251.0,407.1 L249.8,407.6 L209.2,336.0 L259.7,281.5 L262.3,350.2 L259.4,385.2 Z" fill="#d6e3ee" stroke="#2f3d4d" stroke-width="0.7"/>
<path d="M254.3,417.3 L247.5,410.7 L249.8,407.6 L251.0,407.1 L256.6,408.4 Z" fill="#cfdeea" stroke="#2f3d4d" stroke-width="0.7"/>
<path d="M256.6,408.4 L251.0,407.1 L259.4,385.2 L260.1,405.3 L259.4,406.9 Z" fill="#cfdeea" stroke="#2f3d4d" stroke-width="0.7"/>
<path d="M255.3,420.1 L262.2,411.6 L259.4,406.9 L256.6,408.4 L254.3,417.3 Z" fill="#d6e3ee" stroke="#2f3d4d" stroke-width="0.7"/>
<path d="M262.2,411.6 L266.9,413.2 L269.7,412.0 L269.6,407.6 L260.1,405.3 L259.4,406.9 Z" fill="#cfdeea" stroke="#2f3d4d" stroke-width="0.7"/>
<path d="M255.3,420.1 L256.3,437.1 L266.9,413.2 L262.2,411.6 Z" fill="#cfdeea" stroke="#2f3d4d" stroke-width="0.7"/>
<path d="M260.1,405.3 L269.6,407.6 L271.9,402.6 L262.3,350.2 L259.4,385.2 Z" fill="#d6e3ee" stroke="#2f3d4d" stroke-width="0.7"/>
<path d="M256.3,437.1 L248.8,522.1 L265.4,542.7 L280.8,524.6 L273.1,414.3 L269.7,412.0 L266.9,413.2 Z" fill="#d6e3ee" stroke="#2f3d4d" stroke-width="0.7"/>
<path d="M273.1,414.3 L269.7,412.0 L269.6,407.6 L271.9,402.6 L280.1,407.1 L277.6,412.5 Z" fill="#cfdeea" stroke="#2f3d4d" stroke-width="0.7"/>
<path d="M280.8,524.6 L273.1,414.3 L277.6,412.5 L338.7,462.2 Z" fill="#d6e3ee" stroke="#2f3d4d" stroke-width="0.7"/>
<path d="M271.9,402.6 L280.1,407.1 L355.7,376.9 L261.1,279.6 L259.7,281.5 L262.3,350.2 Z" fill="#cfdeea" stroke="#2f3d4d" stroke-width="0.7"/>
<path d="M338.7,462.2 L392.2,409.7 L355.7,376.9 L280.1,407.1 L277.6,412.5 Z" fill="#cfdeea" stroke="#2f3d4d" stroke-width="0.7"/>
</g>
<path d="M239.3,400.4 L282.9,400.4 L287.9,419.3 L242.9,419.3 Z" fill="none" stroke="#7d98b5" stroke-width="0.9"/>
<text x="95" y="403.2" font-size="6" font-weight="bold" fill="#e8f0fa" text-anchor="middle">a</text>
<circle cx="113.8" cy="397.4" r="2.6" fill="#f5ebe6" stroke="#222" stroke-width="0.9"/>
<circle cx="172" cy="411.5" r="2.5" fill="#f5ebe6" stroke="#222" stroke-width="0.9"/>
<circle cx="222" cy="434.5" r="2.3" fill="#f5ebe6" stroke="#222" stroke-width="0.9"/>
<text x="210" y="421" font-size="7.6" font-weight="bold" fill="#333">Cubic</text>
<g stroke="#333" stroke-width="0.8"><line x1="212.9" y1="423.6" x2="199.3" y2="430"/><line x1="235.7" y1="413.6" x2="242.9" y2="411"/></g>
</g>

<!-- ================= PANEL E ================= -->
<g id="pe">
<text x="385.5" y="394" font-size="13" font-weight="bold" fill="#111">e</text>
<line x1="440.7" y1="520.3" x2="677.6" y2="405.5" stroke="#e07b5b" stroke-width="1.3"/>
<line x1="440.7" y1="541.1" x2="677.6" y2="523.8" stroke="#6aafd8" stroke-width="1.3"/>
<g stroke="#e07b5b" stroke-width="1.4"><line x1="440.7" y1="515.6" x2="440.7" y2="526.2"/><line x1="438.7" y1="515.6" x2="442.7" y2="515.6"/><line x1="438.7" y1="526.2" x2="442.7" y2="526.2"/><line x1="499.7" y1="490" x2="499.7" y2="497.9"/><line x1="497.7" y1="490" x2="501.7" y2="490"/><line x1="497.7" y1="497.9" x2="501.7" y2="497.9"/><line x1="558.6" y1="460.5" x2="558.6" y2="472.3"/><line x1="556.6" y1="460.5" x2="560.6" y2="460.5"/><line x1="556.6" y1="472.3" x2="560.6" y2="472.3"/><line x1="617.5" y1="430.3" x2="617.5" y2="443.7"/><line x1="615.5" y1="430.3" x2="619.5" y2="430.3"/><line x1="615.5" y1="443.7" x2="619.5" y2="443.7"/><line x1="677.6" y1="398.9" x2="677.6" y2="413.4"/><line x1="675.6" y1="398.9" x2="679.6" y2="398.9"/><line x1="675.6" y1="413.4" x2="679.6" y2="413.4"/></g>
<g fill="#e07b5b"><rect x="438.3" y="517.9" width="4.8" height="4.8"/><rect x="497.3" y="491.6" width="4.8" height="4.8"/><rect x="556.2" y="463.3" width="4.8" height="4.8"/><rect x="615.1" y="433.40000000000003" width="4.8" height="4.8"/><rect x="675.2" y="403.1" width="4.8" height="4.8"/></g>
<g fill="#6aafd8"><rect x="438.3" y="538.7" width="4.8" height="4.8"/><rect x="497.3" y="534.8000000000001" width="4.8" height="4.8"/><rect x="556.2" y="530.1" width="4.8" height="4.8"/><rect x="615.1" y="525.7" width="4.8" height="4.8"/><rect x="675.2" y="521.4" width="4.8" height="4.8"/></g>
<rect x="425.2" y="385.3" width="263.6" height="180.5" fill="none" stroke="#222" stroke-width="1.4"/>
<g stroke="#222" stroke-width="1.2">
<line x1="425" y1="547.2" x2="433.5" y2="547.2"/><line x1="425" y1="467.8" x2="433.5" y2="467.8"/><line x1="425" y1="388.4" x2="433.5" y2="388.4"/>
<line x1="429" y1="565.8" x2="429" y2="558"/><line x1="476" y1="565.8" x2="476" y2="558"/><line x1="523" y1="565.8" x2="523" y2="558"/><line x1="570.5" y1="565.8" x2="570.5" y2="558"/><line x1="617.5" y1="565.8" x2="617.5" y2="558"/><line x1="664.5" y1="565.8" x2="664.5" y2="558"/>
</g>
<g font-size="10.2" fill="#222" text-anchor="end" stroke="#222" stroke-width="0.25">
<text x="421" y="550.8">0.0</text><text x="421" y="471.6">1.0</text><text x="421" y="392.2">2.0</text>
</g>
<g font-size="10.2" fill="#222" text-anchor="middle" stroke="#222" stroke-width="0.25">
<text x="429" y="580">0.2</text><text x="476" y="580">0.4</text><text x="523" y="580">0.6</text><text x="570.5" y="580">0.8</text><text x="617.5" y="580">1.0</text><text x="664.5" y="580">1.2</text>
</g>
<text x="526" y="593" font-size="10.5" fill="#222"><tspan font-style="italic">E</tspan><tspan font-size="7.5" dy="1.5" font-style="italic">AC</tspan><tspan dy="-1.5">  (V μm</tspan><tspan font-size="6.5" dy="-4">-1</tspan><tspan dy="4">)</tspan></text>
<text transform="translate(394,505.8) rotate(-90)" font-size="11.2" fill="#222" stroke="#222" stroke-width="0.2">Δ <tspan font-style="italic">n</tspan> (×10<tspan font-size="7" dy="-4">-3</tspan><tspan dy="4">)</tspan></text>
<text transform="translate(361.5,433) rotate(90)" font-size="10.1" fill="#333" stroke="#333" stroke-width="0.2">Lattice constant (Å)</text>
<rect x="447.3" y="405" width="5.6" height="5" fill="#e07b5b"/>
<rect x="447.3" y="415.5" width="5.6" height="5.5" fill="#6aafd8"/>
<text x="463" y="411.4" font-size="10.8" fill="#222" stroke="#222" stroke-width="0.2"><tspan font-style="italic">E</tspan> along &lt;110&gt;</text>
<text x="463" y="422" font-size="10.8" fill="#222" stroke="#222" stroke-width="0.2"><tspan font-style="italic">E</tspan> along &lt;100&gt;</text>
<text x="588.5" y="466.3" font-size="8.9" fill="#e07b5b"><tspan font-style="italic">r</tspan><tspan font-size="5" dy="1.5">c</tspan><tspan dy="-1.5">=253 pm V</tspan><tspan font-size="5" dy="-3">-1</tspan></text>
<text x="594.3" y="546" font-size="8.9" fill="#6aafd8"><tspan font-style="italic">r</tspan><tspan font-size="5" dy="1.5">c</tspan><tspan dy="-1.5">=34 pm V</tspan><tspan font-size="5" dy="-3">-1</tspan></text>
</g>
</svg>
</body></html>
